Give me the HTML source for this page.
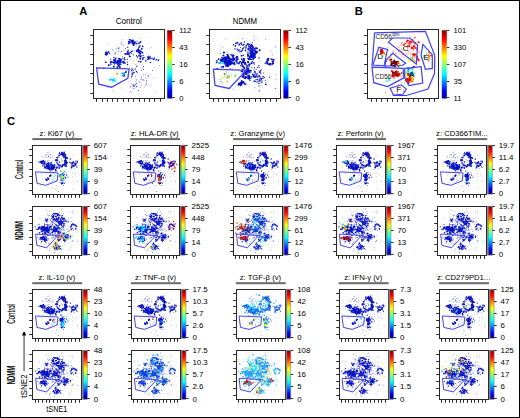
<!DOCTYPE html><html><head><meta charset="utf-8"><style>html,body{margin:0;padding:0;background:#fff}svg{display:block}.t{}</style></head><body>
<svg width="520" height="418" viewBox="0 0 520 418" font-family='"Liberation Sans", sans-serif' fill="#000">
<defs><linearGradient id="jet" x1="0" y1="1" x2="0" y2="0"><stop offset="0" stop-color="#00008f"/><stop offset="0.11" stop-color="#0000ff"/><stop offset="0.36" stop-color="#00ffff"/><stop offset="0.62" stop-color="#ffff00"/><stop offset="0.87" stop-color="#ff0000"/><stop offset="1" stop-color="#800000"/></linearGradient><g id="Lc"><circle cx="65.7" cy="41.7" r="1.12"/><circle cx="51.0" cy="31.3" r="1.25"/><circle cx="52.9" cy="20.7" r="0.96"/><circle cx="63.1" cy="21.0" r="1.24"/><circle cx="59.4" cy="16.5" r="1.43"/><circle cx="59.8" cy="43.4" r="1.58"/><circle cx="66.5" cy="23.5" r="1.31"/><circle cx="67.4" cy="26.3" r="1.20"/><circle cx="60.4" cy="42.8" r="1.09"/><circle cx="49.6" cy="35.8" r="1.28"/><circle cx="59.5" cy="43.6" r="1.26"/><circle cx="55.9" cy="44.4" r="0.96"/><circle cx="62.5" cy="22.5" r="1.07"/><circle cx="67.3" cy="30.5" r="1.53"/><circle cx="64.6" cy="38.6" r="1.43"/><circle cx="69.1" cy="25.1" r="1.23"/><circle cx="62.8" cy="20.7" r="1.34"/><circle cx="64.7" cy="23.5" r="1.52"/><circle cx="49.3" cy="30.6" r="1.11"/><circle cx="61.2" cy="19.3" r="1.22"/><circle cx="61.9" cy="39.6" r="1.40"/><circle cx="52.3" cy="39.2" r="1.24"/><circle cx="48.7" cy="30.3" r="1.21"/><circle cx="50.7" cy="31.7" r="0.96"/><circle cx="66.5" cy="34.0" r="1.35"/><circle cx="54.1" cy="35.6" r="1.06"/><circle cx="46.6" cy="30.8" r="1.31"/><circle cx="64.4" cy="21.7" r="1.10"/><circle cx="47.3" cy="29.7" r="1.25"/><circle cx="57.4" cy="42.7" r="1.31"/><circle cx="70.1" cy="26.8" r="1.50"/><circle cx="65.7" cy="22.7" r="1.44"/><circle cx="61.3" cy="21.6" r="1.23"/><circle cx="67.2" cy="35.2" r="1.53"/><circle cx="49.4" cy="25.4" r="1.27"/><circle cx="51.6" cy="42.4" r="1.18"/><circle cx="50.6" cy="28.4" r="1.25"/><circle cx="66.5" cy="32.9" r="1.10"/><circle cx="61.6" cy="39.3" r="1.48"/><circle cx="60.9" cy="20.8" r="1.50"/><circle cx="58.1" cy="45.0" r="1.00"/><circle cx="66.2" cy="32.1" r="0.95"/><circle cx="58.8" cy="18.5" r="1.37"/><circle cx="52.8" cy="42.1" r="0.99"/><circle cx="63.2" cy="40.6" r="1.13"/><circle cx="56.3" cy="19.1" r="1.25"/><circle cx="54.5" cy="41.9" r="1.21"/><circle cx="50.1" cy="37.0" r="1.07"/><circle cx="66.9" cy="40.0" r="1.09"/><circle cx="51.8" cy="24.1" r="1.50"/><circle cx="68.7" cy="32.8" r="1.43"/><circle cx="63.6" cy="41.7" r="1.42"/><circle cx="54.8" cy="20.9" r="1.60"/><circle cx="61.2" cy="19.4" r="1.29"/><circle cx="59.9" cy="42.2" r="1.33"/><circle cx="54.9" cy="40.9" r="1.37"/><circle cx="66.3" cy="35.0" r="1.54"/><circle cx="54.0" cy="47.1" r="1.52"/><circle cx="54.2" cy="45.3" r="1.23"/><circle cx="58.4" cy="42.3" r="0.95"/><circle cx="67.2" cy="20.0" r="1.59"/><circle cx="49.3" cy="25.3" r="1.06"/><circle cx="66.4" cy="19.6" r="1.29"/><circle cx="51.9" cy="39.3" r="1.18"/><circle cx="60.9" cy="42.1" r="1.08"/><circle cx="65.0" cy="37.5" r="1.39"/><circle cx="56.1" cy="41.4" r="1.53"/><circle cx="66.2" cy="23.6" r="0.96"/><circle cx="60.8" cy="40.4" r="1.47"/><circle cx="51.5" cy="45.7" r="1.09"/><circle cx="53.4" cy="17.9" r="1.18"/><circle cx="63.4" cy="25.1" r="1.41"/><circle cx="48.0" cy="32.3" r="1.43"/><circle cx="66.6" cy="37.3" r="1.06"/><circle cx="67.0" cy="24.0" r="1.35"/><circle cx="64.9" cy="17.9" r="1.19"/><circle cx="53.8" cy="40.7" r="1.35"/><circle cx="70.3" cy="26.4" r="1.54"/><circle cx="64.3" cy="39.8" r="0.97"/><circle cx="66.8" cy="36.4" r="1.53"/><circle cx="60.9" cy="18.1" r="1.36"/><circle cx="60.2" cy="20.2" r="1.20"/><circle cx="49.8" cy="25.6" r="1.13"/><circle cx="66.3" cy="22.6" r="1.33"/><circle cx="66.0" cy="26.0" r="1.48"/><circle cx="60.6" cy="17.1" r="1.54"/><circle cx="59.6" cy="17.7" r="1.70"/><circle cx="60.8" cy="18.3" r="1.77"/><circle cx="60.6" cy="16.2" r="1.16"/><circle cx="60.7" cy="17.2" r="1.12"/><circle cx="64.9" cy="18.5" r="1.76"/><circle cx="58.4" cy="18.3" r="1.23"/><circle cx="58.6" cy="16.2" r="1.52"/><circle cx="60.2" cy="17.3" r="1.77"/><circle cx="60.1" cy="16.3" r="1.37"/><circle cx="63.9" cy="16.7" r="1.72"/><circle cx="61.0" cy="21.7" r="1.12"/><circle cx="58.5" cy="17.5" r="1.77"/><circle cx="64.1" cy="14.4" r="1.53"/><circle cx="58.8" cy="16.9" r="1.27"/><circle cx="63.7" cy="17.0" r="1.25"/><circle cx="61.2" cy="19.0" r="1.52"/><circle cx="59.7" cy="14.3" r="1.33"/><circle cx="54.4" cy="16.4" r="1.27"/><circle cx="62.5" cy="19.2" r="1.26"/><circle cx="54.8" cy="15.9" r="1.47"/><circle cx="63.2" cy="15.9" r="1.05"/><circle cx="58.7" cy="17.0" r="1.45"/><circle cx="61.2" cy="17.6" r="1.51"/><circle cx="60.5" cy="16.2" r="1.41"/><circle cx="70.1" cy="35.9" r="1.41"/><circle cx="66.8" cy="34.6" r="1.74"/><circle cx="66.9" cy="38.0" r="1.77"/><circle cx="69.8" cy="35.9" r="1.12"/><circle cx="66.3" cy="22.8" r="1.26"/><circle cx="67.2" cy="36.2" r="1.72"/><circle cx="67.0" cy="38.3" r="1.71"/><circle cx="67.8" cy="37.6" r="1.66"/><circle cx="64.4" cy="33.8" r="1.17"/><circle cx="65.2" cy="31.3" r="1.57"/><circle cx="67.9" cy="32.1" r="1.09"/><circle cx="66.5" cy="42.8" r="1.45"/><circle cx="66.9" cy="24.6" r="1.38"/><circle cx="66.7" cy="30.4" r="1.23"/><circle cx="68.3" cy="41.1" r="1.35"/><circle cx="67.8" cy="32.4" r="1.30"/><circle cx="67.3" cy="35.7" r="1.23"/><circle cx="68.1" cy="36.4" r="1.34"/><circle cx="66.2" cy="31.2" r="1.05"/><circle cx="66.8" cy="28.2" r="1.52"/><circle cx="67.2" cy="26.9" r="1.58"/><circle cx="68.4" cy="34.4" r="1.40"/><circle cx="69.2" cy="34.8" r="1.46"/><circle cx="69.0" cy="43.3" r="1.24"/><circle cx="65.6" cy="33.0" r="1.09"/><circle cx="55.0" cy="21.8" r="0.74" fill-opacity="0.8"/><circle cx="55.4" cy="33.0" r="0.81" fill-opacity="0.8"/><circle cx="47.8" cy="28.6" r="0.84" fill-opacity="0.8"/><circle cx="48.7" cy="29.5" r="0.94" fill-opacity="0.8"/><circle cx="49.8" cy="38.6" r="1.12" fill-opacity="0.8"/><circle cx="49.3" cy="29.2" r="0.78" fill-opacity="0.8"/><circle cx="54.9" cy="33.3" r="1.02" fill-opacity="0.8"/><circle cx="61.1" cy="39.2" r="1.00" fill-opacity="0.8"/><circle cx="57.9" cy="28.5" r="0.74" fill-opacity="0.8"/><circle cx="59.9" cy="31.8" r="1.13" fill-opacity="0.8"/><circle cx="54.9" cy="34.5" r="0.79" fill-opacity="0.8"/><circle cx="50.7" cy="42.8" r="0.73" fill-opacity="0.8"/><circle cx="21.5" cy="32.6" r="1.51"/><circle cx="19.0" cy="32.6" r="1.57"/><circle cx="24.3" cy="34.5" r="1.20"/><circle cx="22.2" cy="32.4" r="1.16"/><circle cx="23.9" cy="37.2" r="1.56"/><circle cx="25.4" cy="34.1" r="1.22"/><circle cx="24.4" cy="37.3" r="1.14"/><circle cx="21.0" cy="38.0" r="1.07"/><circle cx="17.3" cy="36.1" r="0.96"/><circle cx="18.8" cy="33.3" r="1.08"/><circle cx="20.3" cy="37.4" r="1.31"/><circle cx="20.5" cy="37.7" r="1.41"/><circle cx="22.0" cy="32.3" r="1.49"/><circle cx="24.3" cy="34.6" r="1.52"/><circle cx="21.5" cy="32.2" r="1.33"/><circle cx="18.1" cy="37.0" r="1.49"/><circle cx="24.2" cy="37.2" r="1.45"/><circle cx="16.2" cy="33.9" r="1.60"/><circle cx="23.5" cy="37.1" r="1.28"/><circle cx="17.6" cy="33.8" r="1.19"/><circle cx="16.4" cy="34.4" r="0.95"/><circle cx="17.7" cy="35.9" r="1.21"/><circle cx="21.9" cy="31.9" r="1.41"/><circle cx="17.4" cy="35.1" r="1.08"/><circle cx="24.5" cy="35.1" r="1.13"/><circle cx="15.6" cy="33.6" r="1.50"/><circle cx="13.1" cy="34.8" r="1.26"/><circle cx="20.0" cy="33.9" r="1.45"/><circle cx="20.7" cy="34.9" r="1.06"/><circle cx="17.2" cy="34.0" r="1.19"/><circle cx="21.0" cy="35.0" r="1.23"/><circle cx="24.8" cy="46.6" r="1.47"/><circle cx="31.9" cy="36.2" r="1.60"/><circle cx="24.7" cy="43.2" r="1.51"/><circle cx="28.8" cy="39.4" r="1.34"/><circle cx="28.1" cy="39.7" r="1.74"/><circle cx="35.0" cy="36.9" r="1.61"/><circle cx="35.7" cy="39.0" r="1.30"/><circle cx="32.3" cy="48.0" r="1.69"/><circle cx="30.2" cy="42.5" r="1.66"/><circle cx="27.4" cy="43.3" r="1.07"/><circle cx="24.8" cy="42.7" r="1.35"/><circle cx="28.5" cy="46.7" r="1.05"/><circle cx="20.9" cy="42.7" r="1.55"/><circle cx="26.8" cy="45.8" r="1.49"/><circle cx="33.9" cy="45.1" r="1.70"/><circle cx="32.8" cy="44.3" r="1.66"/><circle cx="28.3" cy="42.6" r="1.42"/><circle cx="32.7" cy="41.1" r="1.52"/><circle cx="30.9" cy="37.3" r="1.24"/><circle cx="30.2" cy="41.5" r="1.46"/><circle cx="37.1" cy="48.0" r="1.68"/><circle cx="31.3" cy="45.0" r="1.76"/><circle cx="30.4" cy="37.1" r="1.06"/><circle cx="38.6" cy="40.4" r="1.27"/><circle cx="25.3" cy="45.3" r="1.62"/><circle cx="35.6" cy="47.2" r="1.16"/><circle cx="38.3" cy="42.4" r="1.72"/><circle cx="32.1" cy="38.7" r="1.23"/><circle cx="30.3" cy="42.7" r="1.14"/><circle cx="32.0" cy="40.0" r="1.60"/><circle cx="33.5" cy="48.1" r="1.57"/><circle cx="32.2" cy="44.4" r="1.33"/><circle cx="30.7" cy="43.1" r="1.18"/><circle cx="39.3" cy="44.5" r="1.70"/><circle cx="33.3" cy="43.8" r="1.56"/><circle cx="38.1" cy="35.4" r="1.49"/><circle cx="27.8" cy="48.1" r="1.13"/><circle cx="32.2" cy="41.7" r="1.34"/><circle cx="28.1" cy="43.1" r="1.16"/><circle cx="34.1" cy="48.9" r="1.38"/><circle cx="30.0" cy="41.9" r="1.57"/><circle cx="29.8" cy="46.8" r="1.71"/><circle cx="34.5" cy="43.0" r="1.63"/><circle cx="35.7" cy="40.8" r="1.32"/><circle cx="23.2" cy="39.5" r="1.34"/><circle cx="39.1" cy="39.3" r="1.15"/><circle cx="33.7" cy="42.7" r="1.15"/><circle cx="32.1" cy="42.1" r="1.32"/><circle cx="36.8" cy="45.6" r="1.66"/><circle cx="34.1" cy="42.5" r="1.08"/><circle cx="33.8" cy="42.2" r="1.24"/><circle cx="34.6" cy="43.9" r="1.06"/><circle cx="27.6" cy="39.0" r="1.55"/><circle cx="37.2" cy="39.1" r="1.33"/><circle cx="24.0" cy="36.8" r="1.52"/><circle cx="42.1" cy="48.0" r="1.73"/><circle cx="38.9" cy="45.6" r="1.49"/><circle cx="37.5" cy="45.7" r="1.08"/><circle cx="39.5" cy="49.3" r="1.19"/><circle cx="45.1" cy="45.0" r="1.53"/><circle cx="40.5" cy="42.5" r="1.57"/><circle cx="42.0" cy="44.9" r="1.76"/><circle cx="47.2" cy="52.1" r="1.67"/><circle cx="42.8" cy="46.3" r="1.11"/><circle cx="43.7" cy="44.1" r="1.31"/><circle cx="43.1" cy="46.9" r="1.43"/><circle cx="40.0" cy="47.5" r="1.33"/><circle cx="39.8" cy="41.4" r="1.06"/><circle cx="40.3" cy="46.8" r="1.63"/><circle cx="42.9" cy="47.4" r="1.32"/><circle cx="41.6" cy="44.6" r="1.14"/><circle cx="44.0" cy="42.1" r="1.67"/><circle cx="40.6" cy="49.8" r="1.22"/><circle cx="38.6" cy="46.1" r="1.29"/><circle cx="44.1" cy="40.1" r="1.47"/><circle cx="46.6" cy="49.5" r="1.37"/><circle cx="48.4" cy="46.7" r="1.66"/><circle cx="40.5" cy="43.7" r="1.71"/><circle cx="43.6" cy="45.0" r="1.16"/><circle cx="38.7" cy="49.5" r="1.11"/><circle cx="39.0" cy="50.0" r="1.07"/><circle cx="44.3" cy="43.3" r="1.27"/><circle cx="40.9" cy="49.5" r="1.28"/><circle cx="42.0" cy="43.7" r="1.43"/><circle cx="47.3" cy="52.0" r="1.28"/><circle cx="41.3" cy="47.9" r="1.77"/><circle cx="33.2" cy="47.8" r="1.73"/><circle cx="49.2" cy="46.0" r="1.73"/><circle cx="48.4" cy="44.6" r="1.14"/><circle cx="36.8" cy="46.5" r="1.78"/><circle cx="43.3" cy="42.7" r="1.59"/><circle cx="35.8" cy="52.1" r="1.52"/><circle cx="38.3" cy="48.8" r="1.77"/><circle cx="39.6" cy="46.7" r="1.15"/><circle cx="40.0" cy="43.7" r="1.71"/><circle cx="38.2" cy="47.6" r="0.78"/><circle cx="42.4" cy="47.3" r="1.05"/><circle cx="35.2" cy="49.4" r="1.10"/><circle cx="28.6" cy="43.1" r="0.80"/><circle cx="43.1" cy="46.5" r="0.85"/><circle cx="39.7" cy="40.8" r="0.77"/><circle cx="30.6" cy="48.2" r="0.91"/><circle cx="40.4" cy="41.5" r="1.08"/><circle cx="41.2" cy="39.8" r="1.12"/><circle cx="29.9" cy="42.8" r="1.27"/><circle cx="38.0" cy="39.4" r="1.30"/><circle cx="35.8" cy="47.6" r="0.86"/><circle cx="35.9" cy="38.9" r="1.02"/><circle cx="31.3" cy="46.3" r="1.23"/><circle cx="37.9" cy="39.4" r="1.22"/><circle cx="29.4" cy="45.3" r="0.86"/><circle cx="33.9" cy="48.7" r="0.82"/><circle cx="33.8" cy="48.7" r="1.24"/><circle cx="35.8" cy="38.1" r="1.06"/><circle cx="29.6" cy="42.5" r="1.04"/><circle cx="77.8" cy="36.1" r="1.59"/><circle cx="79.9" cy="41.1" r="1.15"/><circle cx="82.7" cy="42.5" r="1.34"/><circle cx="74.9" cy="34.6" r="1.06"/><circle cx="76.6" cy="28.2" r="1.44"/><circle cx="80.9" cy="36.5" r="1.22"/><circle cx="90.9" cy="34.7" r="1.40"/><circle cx="90.4" cy="32.6" r="1.52"/><circle cx="81.1" cy="41.0" r="1.48"/><circle cx="79.9" cy="42.8" r="1.27"/><circle cx="82.0" cy="41.8" r="1.02"/><circle cx="81.8" cy="41.3" r="0.96"/><circle cx="85.3" cy="40.7" r="1.52"/><circle cx="81.6" cy="36.2" r="1.62"/><circle cx="83.8" cy="42.8" r="1.44"/><circle cx="82.7" cy="34.0" r="1.47"/><circle cx="78.5" cy="38.6" r="1.28"/><circle cx="89.5" cy="36.9" r="1.01"/><circle cx="90.3" cy="45.6" r="1.10"/><circle cx="86.6" cy="38.5" r="1.27"/><circle cx="87.4" cy="36.8" r="1.43"/><circle cx="84.8" cy="36.5" r="1.36"/><circle cx="88.4" cy="37.9" r="1.31"/><circle cx="79.2" cy="45.9" r="1.60"/><circle cx="87.5" cy="41.1" r="1.23"/><circle cx="83.2" cy="36.2" r="1.12"/><circle cx="83.3" cy="42.5" r="1.48"/><circle cx="87.9" cy="32.5" r="1.40"/><circle cx="87.0" cy="40.1" r="1.40"/><circle cx="82.9" cy="42.6" r="1.56"/><circle cx="89.1" cy="43.2" r="1.02"/><circle cx="78.3" cy="43.7" r="1.08"/><circle cx="80.4" cy="37.5" r="1.54"/><circle cx="86.9" cy="37.8" r="1.28"/><circle cx="62.2" cy="62.2" r="1.25"/><circle cx="60.1" cy="61.5" r="1.46"/><circle cx="66.6" cy="66.8" r="1.60"/><circle cx="65.2" cy="60.1" r="1.29"/><circle cx="57.7" cy="64.6" r="1.68"/><circle cx="60.9" cy="63.0" r="1.30"/><circle cx="59.4" cy="61.0" r="1.19"/><circle cx="61.0" cy="72.0" r="1.55"/><circle cx="62.6" cy="64.5" r="1.56"/><circle cx="61.3" cy="70.2" r="1.30"/><circle cx="59.4" cy="62.3" r="1.25"/><circle cx="58.3" cy="70.2" r="1.35"/><circle cx="58.9" cy="64.1" r="1.77"/><circle cx="59.1" cy="60.2" r="1.13"/><circle cx="58.5" cy="72.8" r="1.59"/><circle cx="61.8" cy="56.3" r="1.33"/><circle cx="58.0" cy="66.2" r="1.19"/><circle cx="61.1" cy="69.0" r="1.16"/><circle cx="56.7" cy="64.1" r="1.52"/><circle cx="59.4" cy="62.7" r="1.24"/><circle cx="55.8" cy="61.7" r="1.41"/><circle cx="60.4" cy="66.0" r="1.32"/><circle cx="59.3" cy="64.6" r="1.26"/><circle cx="57.3" cy="52.9" r="1.35"/><circle cx="57.9" cy="62.4" r="1.10"/><circle cx="59.4" cy="68.4" r="1.28"/><circle cx="60.4" cy="58.5" r="1.12"/><circle cx="63.1" cy="69.8" r="1.17"/><circle cx="59.3" cy="69.6" r="1.13"/><circle cx="61.2" cy="66.5" r="1.40"/><circle cx="62.9" cy="63.1" r="1.27"/><circle cx="59.2" cy="62.4" r="1.49"/><circle cx="57.7" cy="77.0" r="1.36"/><circle cx="61.0" cy="59.2" r="1.74"/><circle cx="56.5" cy="59.7" r="1.40"/><circle cx="58.7" cy="59.7" r="1.50"/><circle cx="57.5" cy="63.6" r="1.39"/><circle cx="62.5" cy="61.8" r="1.51"/><circle cx="62.5" cy="68.0" r="1.22"/><circle cx="60.5" cy="71.2" r="1.51"/><circle cx="60.0" cy="70.0" r="1.50"/><circle cx="57.8" cy="66.9" r="1.17"/><circle cx="57.8" cy="71.2" r="1.51"/><circle cx="55.9" cy="63.3" r="1.65"/><circle cx="59.8" cy="64.9" r="1.33"/><circle cx="59.5" cy="77.9" r="1.41"/><circle cx="62.6" cy="82.2" r="0.98"/><circle cx="62.1" cy="75.7" r="1.05"/><circle cx="60.9" cy="78.2" r="1.37"/><circle cx="58.4" cy="80.5" r="0.92"/><circle cx="58.7" cy="78.1" r="1.26"/><circle cx="60.8" cy="76.4" r="0.86"/><circle cx="64.3" cy="77.7" r="1.24"/><circle cx="28.4" cy="70.1" r="1.13"/><circle cx="30.5" cy="67.1" r="1.21"/><circle cx="27.0" cy="70.2" r="1.22"/><circle cx="32.7" cy="69.7" r="1.14"/><circle cx="32.9" cy="69.5" r="0.88"/><circle cx="32.3" cy="70.4" r="0.94"/><circle cx="27.2" cy="68.9" r="1.45"/><circle cx="32.8" cy="67.7" r="1.25"/><circle cx="31.0" cy="66.8" r="1.34"/><circle cx="30.2" cy="71.0" r="1.19"/><circle cx="27.9" cy="71.0" r="1.41"/><circle cx="28.6" cy="71.5" r="1.38"/><circle cx="28.8" cy="70.3" r="1.32"/><circle cx="31.6" cy="69.4" r="1.11"/><circle cx="35.8" cy="63.2" r="1.35"/><circle cx="34.8" cy="63.1" r="1.24"/><circle cx="36.1" cy="61.9" r="1.26"/><circle cx="37.1" cy="61.2" r="1.24"/><circle cx="35.4" cy="62.1" r="1.28"/><circle cx="36.7" cy="61.9" r="1.40"/><circle cx="34.8" cy="64.5" r="0.96"/><circle cx="36.4" cy="61.1" r="1.05"/><circle cx="52.2" cy="64.7" r="0.88" fill-opacity="0.8"/><circle cx="39.5" cy="71.3" r="0.77" fill-opacity="0.8"/><circle cx="46.2" cy="49.0" r="0.65" fill-opacity="0.8"/><circle cx="39.2" cy="73.5" r="0.80" fill-opacity="0.8"/><circle cx="53.6" cy="57.8" r="0.63" fill-opacity="0.8"/><circle cx="43.3" cy="72.0" r="0.58" fill-opacity="0.8"/><circle cx="47.8" cy="71.4" r="0.88" fill-opacity="0.8"/><circle cx="40.6" cy="49.4" r="0.68" fill-opacity="0.8"/><circle cx="52.5" cy="94.6" r="0.90" fill-opacity="0.8"/><circle cx="45.9" cy="67.2" r="0.73" fill-opacity="0.8"/><circle cx="39.6" cy="53.4" r="0.94" fill-opacity="0.8"/><circle cx="40.2" cy="65.2" r="0.57" fill-opacity="0.8"/><circle cx="49.7" cy="35.9" r="0.93" fill-opacity="0.8"/><circle cx="42.6" cy="58.6" r="0.66" fill-opacity="0.8"/><circle cx="46.8" cy="40.3" r="0.96" fill-opacity="0.8"/><circle cx="48.0" cy="82.2" r="0.77" fill-opacity="0.8"/><circle cx="37.0" cy="77.4" r="0.95" fill-opacity="0.8"/><circle cx="43.8" cy="49.6" r="0.85" fill-opacity="0.8"/><circle cx="41.5" cy="55.8" r="0.67" fill-opacity="0.8"/><circle cx="45.5" cy="62.1" r="0.83" fill-opacity="0.8"/><circle cx="66.2" cy="64.7" r="0.83" fill-opacity="0.8"/><circle cx="55.6" cy="60.9" r="0.66" fill-opacity="0.8"/><circle cx="86.9" cy="59.5" r="0.69" fill-opacity="0.8"/><circle cx="70.9" cy="66.2" r="0.81" fill-opacity="0.8"/><circle cx="81.4" cy="56.9" r="0.70" fill-opacity="0.8"/><circle cx="65.6" cy="56.1" r="0.77" fill-opacity="0.8"/><circle cx="68.8" cy="60.4" r="0.73" fill-opacity="0.8"/><circle cx="68.9" cy="61.4" r="0.90" fill-opacity="0.8"/><circle cx="69.8" cy="61.5" r="0.80" fill-opacity="0.8"/><circle cx="77.9" cy="46.5" r="0.82" fill-opacity="0.8"/><circle cx="71.4" cy="50.8" r="0.62" fill-opacity="0.8"/><circle cx="71.8" cy="65.4" r="0.68" fill-opacity="0.8"/><circle cx="68.7" cy="58.9" r="0.62" fill-opacity="0.8"/><circle cx="71.9" cy="63.3" r="0.89" fill-opacity="0.8"/><circle cx="68.1" cy="56.8" r="0.74" fill-opacity="0.8"/><circle cx="77.5" cy="50.4" r="0.79" fill-opacity="0.8"/><circle cx="68.9" cy="61.3" r="0.82" fill-opacity="0.8"/><circle cx="81.3" cy="64.5" r="0.59" fill-opacity="0.8"/><circle cx="35.8" cy="19.1" r="0.84" fill-opacity="0.8"/><circle cx="32.5" cy="22.6" r="0.79" fill-opacity="0.8"/><circle cx="41.3" cy="25.7" r="0.72" fill-opacity="0.8"/><circle cx="33.4" cy="31.2" r="0.97" fill-opacity="0.8"/><circle cx="26.5" cy="31.5" r="0.66" fill-opacity="0.8"/><circle cx="34.1" cy="19.5" r="0.78" fill-opacity="0.8"/><circle cx="48.7" cy="29.0" r="0.65" fill-opacity="0.8"/><circle cx="29.5" cy="24.9" r="0.90" fill-opacity="0.8"/><circle cx="26.8" cy="20.2" r="0.87" fill-opacity="0.8"/><circle cx="35.9" cy="25.7" r="0.90" fill-opacity="0.8"/><circle cx="30.1" cy="32.4" r="0.95" fill-opacity="0.8"/><circle cx="33.4" cy="22.3" r="0.91" fill-opacity="0.8"/><circle cx="32.0" cy="21.2" r="0.65" fill-opacity="0.8"/><circle cx="31.9" cy="23.9" r="0.93" fill-opacity="0.8"/><circle cx="32.1" cy="15.1" r="0.72" fill-opacity="0.8"/><circle cx="39.8" cy="22.8" r="0.86" fill-opacity="0.8"/><circle cx="36.0" cy="24.4" r="0.62" fill-opacity="0.8"/><circle cx="40.1" cy="32.1" r="0.72" fill-opacity="0.8"/><circle cx="25.0" cy="24.8" r="0.68" fill-opacity="0.8"/><circle cx="28.3" cy="18.3" r="0.94" fill-opacity="0.8"/><circle cx="20.3" cy="23.8" r="0.96" fill-opacity="0.8"/><circle cx="37.0" cy="18.8" r="0.68" fill-opacity="0.8"/><circle cx="22.5" cy="76.5" r="0.52" fill-opacity="0.6"/><circle cx="58.1" cy="46.3" r="0.49" fill-opacity="0.6"/><circle cx="31.5" cy="75.8" r="0.65" fill-opacity="0.6"/><circle cx="86.2" cy="82.6" r="0.50" fill-opacity="0.6"/><circle cx="67.2" cy="13.4" r="0.62" fill-opacity="0.6"/><circle cx="49.0" cy="86.5" r="0.67" fill-opacity="0.6"/><circle cx="29.6" cy="50.8" r="0.65" fill-opacity="0.6"/><circle cx="30.2" cy="38.8" r="0.77" fill-opacity="0.6"/><circle cx="90.6" cy="72.1" r="0.49" fill-opacity="0.6"/><circle cx="84.8" cy="46.7" r="0.75" fill-opacity="0.6"/><circle cx="28.6" cy="21.8" r="0.78" fill-opacity="0.6"/><circle cx="37.0" cy="13.4" r="0.64" fill-opacity="0.6"/><circle cx="91.3" cy="76.8" r="0.61" fill-opacity="0.6"/><circle cx="91.5" cy="73.7" r="0.76" fill-opacity="0.6"/><circle cx="64.8" cy="41.6" r="0.78" fill-opacity="0.6"/><circle cx="51.2" cy="84.8" r="0.66" fill-opacity="0.6"/><circle cx="85.1" cy="48.2" r="0.62" fill-opacity="0.6"/><circle cx="60.3" cy="35.4" r="0.52" fill-opacity="0.6"/><circle cx="60.4" cy="78.1" r="0.57" fill-opacity="0.6"/><circle cx="81.6" cy="73.0" r="0.73" fill-opacity="0.6"/><circle cx="47.0" cy="89.9" r="0.74" fill-opacity="0.6"/><circle cx="59.3" cy="19.1" r="0.67" fill-opacity="0.6"/><circle cx="16.1" cy="82.2" r="0.59" fill-opacity="0.6"/><circle cx="43.4" cy="54.1" r="0.69" fill-opacity="0.6"/><circle cx="59.9" cy="48.8" r="0.69" fill-opacity="0.6"/><circle cx="80.2" cy="45.7" r="0.64" fill-opacity="0.6"/><circle cx="77.4" cy="10.3" r="0.53" fill-opacity="0.6"/><circle cx="40.0" cy="27.1" r="0.77" fill-opacity="0.6"/><circle cx="26.4" cy="18.6" r="0.58" fill-opacity="0.6"/><circle cx="54.2" cy="75.7" r="0.81" fill-opacity="0.6"/><circle cx="80.6" cy="58.7" r="0.49" fill-opacity="0.6"/><circle cx="19.9" cy="60.5" r="0.75" fill-opacity="0.6"/><circle cx="35.4" cy="87.5" r="0.66" fill-opacity="0.6"/><circle cx="59.2" cy="59.5" r="0.50" fill-opacity="0.6"/><circle cx="28.1" cy="84.9" r="0.56" fill-opacity="0.6"/><circle cx="21.4" cy="32.6" r="0.72" fill-opacity="0.6"/><circle cx="35.2" cy="26.8" r="0.57" fill-opacity="0.6"/><circle cx="52.0" cy="69.0" r="0.57" fill-opacity="0.6"/><circle cx="82.3" cy="88.1" r="0.75" fill-opacity="0.6"/><circle cx="20.8" cy="35.2" r="0.78" fill-opacity="0.6"/><circle cx="81.2" cy="20.7" r="0.62" fill-opacity="0.6"/><circle cx="43.0" cy="69.8" r="0.48" fill-opacity="0.6"/><circle cx="39.3" cy="70.0" r="0.77" fill-opacity="0.6"/><circle cx="18.1" cy="57.1" r="0.70" fill-opacity="0.6"/><circle cx="82.2" cy="44.0" r="0.80" fill-opacity="0.6"/><circle cx="30.2" cy="19.2" r="0.52" fill-opacity="0.6"/><circle cx="60.2" cy="19.8" r="0.56" fill-opacity="0.6"/><circle cx="30.1" cy="14.4" r="0.80" fill-opacity="0.6"/><circle cx="40.8" cy="87.1" r="0.72" fill-opacity="0.6"/><circle cx="31.9" cy="84.6" r="0.48" fill-opacity="0.6"/></g><g id="Ln"><circle cx="53.6" cy="19.1" r="1.00"/><circle cx="50.3" cy="15.5" r="1.44"/><circle cx="44.1" cy="15.7" r="1.35"/><circle cx="40.2" cy="17.2" r="1.05"/><circle cx="42.2" cy="23.2" r="1.62"/><circle cx="54.1" cy="18.7" r="1.31"/><circle cx="40.9" cy="23.2" r="0.96"/><circle cx="40.4" cy="22.5" r="1.16"/><circle cx="41.6" cy="26.1" r="1.32"/><circle cx="47.5" cy="26.7" r="0.96"/><circle cx="43.7" cy="27.5" r="1.62"/><circle cx="43.6" cy="14.4" r="1.07"/><circle cx="52.5" cy="16.7" r="1.56"/><circle cx="47.4" cy="16.0" r="1.48"/><circle cx="41.6" cy="28.1" r="1.05"/><circle cx="47.2" cy="14.8" r="1.43"/><circle cx="41.8" cy="22.3" r="1.57"/><circle cx="40.7" cy="21.0" r="1.51"/><circle cx="42.1" cy="27.4" r="1.26"/><circle cx="42.4" cy="18.9" r="1.57"/><circle cx="46.0" cy="15.3" r="1.16"/><circle cx="45.0" cy="14.8" r="1.06"/><circle cx="52.2" cy="17.6" r="1.15"/><circle cx="55.3" cy="18.7" r="1.42"/><circle cx="41.9" cy="20.9" r="1.34"/><circle cx="44.6" cy="26.9" r="1.09"/><circle cx="39.3" cy="20.4" r="1.00"/><circle cx="49.5" cy="15.6" r="1.44"/><circle cx="52.9" cy="17.1" r="0.98"/><circle cx="42.4" cy="14.4" r="1.13"/><circle cx="48.0" cy="27.8" r="1.30"/><circle cx="50.8" cy="16.1" r="1.11"/><circle cx="48.8" cy="28.0" r="1.43"/><circle cx="52.7" cy="22.2" r="1.19"/><circle cx="50.0" cy="26.6" r="1.59"/><circle cx="45.5" cy="27.4" r="0.86"/><circle cx="48.0" cy="20.7" r="0.95"/><circle cx="54.3" cy="23.5" r="1.08"/><circle cx="52.6" cy="32.7" r="0.94"/><circle cx="50.3" cy="24.6" r="1.22"/><circle cx="47.8" cy="20.9" r="1.06"/><circle cx="45.0" cy="25.3" r="1.32"/><circle cx="47.8" cy="20.5" r="1.31"/><circle cx="38.4" cy="25.1" r="1.14"/><circle cx="42.2" cy="21.9" r="1.04"/><circle cx="52.8" cy="24.5" r="1.38"/><circle cx="49.6" cy="24.7" r="1.09"/><circle cx="50.8" cy="18.8" r="1.43"/><circle cx="46.8" cy="20.7" r="1.11"/><circle cx="52.5" cy="26.1" r="0.94"/><circle cx="47.6" cy="22.0" r="0.95"/><circle cx="47.4" cy="25.7" r="1.16"/><circle cx="50.2" cy="30.3" r="1.45"/><circle cx="56.9" cy="32.7" r="1.17"/><circle cx="62.9" cy="25.5" r="1.56"/><circle cx="54.6" cy="30.9" r="1.29"/><circle cx="54.6" cy="31.5" r="1.02"/><circle cx="57.9" cy="29.8" r="1.51"/><circle cx="59.2" cy="32.1" r="1.12"/><circle cx="60.1" cy="32.4" r="1.36"/><circle cx="61.1" cy="27.4" r="1.45"/><circle cx="58.9" cy="34.8" r="1.67"/><circle cx="67.5" cy="31.2" r="1.35"/><circle cx="53.2" cy="30.4" r="1.29"/><circle cx="57.3" cy="28.6" r="1.06"/><circle cx="57.6" cy="33.7" r="1.36"/><circle cx="53.9" cy="38.7" r="1.20"/><circle cx="55.1" cy="37.3" r="1.01"/><circle cx="57.6" cy="31.0" r="1.21"/><circle cx="56.1" cy="36.4" r="1.00"/><circle cx="52.3" cy="26.6" r="1.34"/><circle cx="59.4" cy="33.9" r="1.04"/><circle cx="63.8" cy="30.9" r="1.66"/><circle cx="62.2" cy="40.2" r="1.13"/><circle cx="61.5" cy="27.1" r="1.32"/><circle cx="56.0" cy="32.1" r="1.08"/><circle cx="53.5" cy="33.6" r="1.59"/><circle cx="59.3" cy="23.2" r="1.48"/><circle cx="49.2" cy="40.0" r="1.54"/><circle cx="59.0" cy="30.9" r="1.25"/><circle cx="52.8" cy="22.5" r="1.18"/><circle cx="60.1" cy="25.8" r="1.67"/><circle cx="57.2" cy="36.3" r="1.58"/><circle cx="48.2" cy="30.8" r="1.34"/><circle cx="61.1" cy="31.7" r="1.47"/><circle cx="62.7" cy="38.4" r="1.57"/><circle cx="55.1" cy="36.3" r="1.70"/><circle cx="60.4" cy="35.5" r="1.04"/><circle cx="61.7" cy="42.0" r="1.69"/><circle cx="62.9" cy="30.3" r="1.20"/><circle cx="56.1" cy="32.9" r="1.47"/><circle cx="64.7" cy="25.8" r="1.07"/><circle cx="60.1" cy="19.0" r="1.53"/><circle cx="55.2" cy="37.5" r="1.50"/><circle cx="61.1" cy="31.5" r="1.32"/><circle cx="67.5" cy="30.4" r="1.70"/><circle cx="53.6" cy="33.5" r="1.09"/><circle cx="52.3" cy="30.7" r="1.41"/><circle cx="58.4" cy="34.6" r="1.35"/><circle cx="56.1" cy="26.4" r="1.50"/><circle cx="58.5" cy="39.9" r="1.33"/><circle cx="55.3" cy="36.8" r="1.52"/><circle cx="57.0" cy="26.9" r="1.60"/><circle cx="51.6" cy="33.2" r="1.28"/><circle cx="64.2" cy="24.5" r="1.44"/><circle cx="47.3" cy="38.1" r="1.50"/><circle cx="58.4" cy="37.9" r="1.57"/><circle cx="53.6" cy="45.1" r="1.51"/><circle cx="59.2" cy="22.6" r="1.62"/><circle cx="51.9" cy="40.2" r="1.54"/><circle cx="62.9" cy="34.8" r="1.41"/><circle cx="65.1" cy="35.6" r="1.09"/><circle cx="65.6" cy="27.5" r="1.17"/><circle cx="20.2" cy="42.4" r="1.19"/><circle cx="21.8" cy="48.7" r="1.04"/><circle cx="24.4" cy="38.5" r="1.53"/><circle cx="26.2" cy="47.2" r="1.54"/><circle cx="16.9" cy="45.2" r="1.41"/><circle cx="29.8" cy="48.8" r="1.60"/><circle cx="25.5" cy="50.5" r="1.62"/><circle cx="35.3" cy="41.4" r="1.62"/><circle cx="30.9" cy="48.6" r="1.16"/><circle cx="22.2" cy="43.3" r="1.26"/><circle cx="30.3" cy="52.7" r="1.76"/><circle cx="25.6" cy="43.3" r="1.32"/><circle cx="31.5" cy="38.5" r="1.27"/><circle cx="30.0" cy="43.9" r="1.44"/><circle cx="18.5" cy="48.5" r="1.65"/><circle cx="23.6" cy="44.8" r="1.63"/><circle cx="34.5" cy="44.4" r="1.66"/><circle cx="19.3" cy="52.3" r="1.33"/><circle cx="30.5" cy="38.4" r="1.63"/><circle cx="22.4" cy="44.3" r="1.21"/><circle cx="20.7" cy="43.8" r="1.25"/><circle cx="26.3" cy="49.1" r="1.65"/><circle cx="24.1" cy="43.9" r="1.28"/><circle cx="29.6" cy="51.4" r="1.16"/><circle cx="28.6" cy="43.5" r="1.70"/><circle cx="27.1" cy="51.3" r="1.51"/><circle cx="21.4" cy="50.6" r="1.11"/><circle cx="22.3" cy="47.2" r="1.54"/><circle cx="29.5" cy="44.0" r="1.63"/><circle cx="29.7" cy="47.9" r="1.51"/><circle cx="37.7" cy="40.2" r="1.29"/><circle cx="32.6" cy="54.4" r="1.41"/><circle cx="14.0" cy="43.0" r="1.59"/><circle cx="9.1" cy="47.1" r="1.73"/><circle cx="10.9" cy="47.3" r="1.26"/><circle cx="5.5" cy="42.2" r="1.31"/><circle cx="17.7" cy="44.8" r="1.75"/><circle cx="27.7" cy="43.9" r="1.70"/><circle cx="31.3" cy="51.5" r="1.13"/><circle cx="41.4" cy="51.1" r="1.31"/><circle cx="26.1" cy="55.1" r="1.60"/><circle cx="17.8" cy="41.8" r="1.22"/><circle cx="28.4" cy="49.2" r="1.25"/><circle cx="19.0" cy="45.3" r="1.27"/><circle cx="22.0" cy="48.8" r="1.15"/><circle cx="23.6" cy="48.0" r="1.35"/><circle cx="30.1" cy="47.0" r="1.22"/><circle cx="31.4" cy="47.4" r="1.29"/><circle cx="34.6" cy="41.6" r="1.09"/><circle cx="33.6" cy="52.4" r="1.36"/><circle cx="35.7" cy="47.4" r="1.43"/><circle cx="21.3" cy="49.3" r="1.61"/><circle cx="19.7" cy="43.5" r="1.78"/><circle cx="20.5" cy="43.0" r="1.50"/><circle cx="30.0" cy="43.5" r="1.48"/><circle cx="37.2" cy="42.2" r="1.77"/><circle cx="20.4" cy="55.6" r="1.38"/><circle cx="24.1" cy="42.3" r="1.07"/><circle cx="29.5" cy="58.4" r="1.13"/><circle cx="39.4" cy="53.3" r="1.72"/><circle cx="21.0" cy="50.4" r="1.63"/><circle cx="27.8" cy="49.1" r="1.30"/><circle cx="25.2" cy="48.2" r="1.54"/><circle cx="28.5" cy="57.1" r="1.52"/><circle cx="35.2" cy="56.2" r="1.22"/><circle cx="29.6" cy="41.3" r="1.14"/><circle cx="26.0" cy="45.4" r="1.19"/><circle cx="25.0" cy="54.3" r="1.43"/><circle cx="18.6" cy="43.2" r="1.14"/><circle cx="12.0" cy="44.6" r="1.13"/><circle cx="25.2" cy="49.4" r="1.08"/><circle cx="28.0" cy="48.0" r="1.50"/><circle cx="31.7" cy="53.1" r="1.57"/><circle cx="13.2" cy="37.0" r="1.16"/><circle cx="24.3" cy="53.5" r="1.51"/><circle cx="32.9" cy="48.1" r="1.26"/><circle cx="31.6" cy="42.7" r="1.34"/><circle cx="28.1" cy="49.4" r="1.46"/><circle cx="12.8" cy="43.4" r="1.61"/><circle cx="26.0" cy="50.2" r="1.56"/><circle cx="24.6" cy="44.9" r="1.06"/><circle cx="15.3" cy="44.1" r="1.18"/><circle cx="23.5" cy="41.3" r="1.50"/><circle cx="20.2" cy="46.7" r="1.39"/><circle cx="14.1" cy="54.4" r="1.65"/><circle cx="28.6" cy="50.1" r="1.07"/><circle cx="16.9" cy="47.7" r="1.51"/><circle cx="28.2" cy="44.2" r="1.75"/><circle cx="23.8" cy="56.5" r="1.38"/><circle cx="22.9" cy="46.2" r="1.65"/><circle cx="29.6" cy="45.9" r="1.71"/><circle cx="19.6" cy="42.8" r="1.35"/><circle cx="22.0" cy="46.1" r="1.53"/><circle cx="17.4" cy="52.0" r="1.24"/><circle cx="32.6" cy="49.6" r="1.29"/><circle cx="22.4" cy="42.6" r="1.43"/><circle cx="23.3" cy="49.7" r="1.61"/><circle cx="22.8" cy="44.2" r="1.37"/><circle cx="13.5" cy="43.0" r="1.39"/><circle cx="26.8" cy="46.9" r="1.39"/><circle cx="29.6" cy="48.8" r="1.47"/><circle cx="32.4" cy="46.0" r="1.49"/><circle cx="29.0" cy="49.0" r="1.50"/><circle cx="21.2" cy="41.9" r="1.55"/><circle cx="12.8" cy="45.9" r="1.66"/><circle cx="29.5" cy="46.8" r="1.69"/><circle cx="26.1" cy="48.3" r="1.28"/><circle cx="30.7" cy="46.7" r="1.29"/><circle cx="36.2" cy="42.6" r="1.66"/><circle cx="27.7" cy="52.9" r="1.14"/><circle cx="47.6" cy="51.4" r="1.20"/><circle cx="51.4" cy="52.7" r="1.56"/><circle cx="49.1" cy="46.9" r="1.49"/><circle cx="43.3" cy="50.5" r="1.15"/><circle cx="45.8" cy="55.7" r="1.08"/><circle cx="45.0" cy="47.2" r="1.34"/><circle cx="39.2" cy="47.9" r="1.10"/><circle cx="42.3" cy="49.2" r="1.39"/><circle cx="48.4" cy="51.7" r="1.21"/><circle cx="51.3" cy="41.7" r="1.21"/><circle cx="51.1" cy="46.1" r="1.09"/><circle cx="47.6" cy="49.6" r="1.50"/><circle cx="51.9" cy="55.1" r="1.40"/><circle cx="52.2" cy="53.4" r="1.22"/><circle cx="49.1" cy="47.6" r="1.29"/><circle cx="46.8" cy="43.8" r="1.34"/><circle cx="46.1" cy="47.6" r="1.09"/><circle cx="40.7" cy="52.4" r="1.03"/><circle cx="47.7" cy="50.7" r="1.31"/><circle cx="49.7" cy="45.8" r="1.58"/><circle cx="43.2" cy="52.1" r="1.00"/><circle cx="50.1" cy="47.5" r="1.04"/><circle cx="43.2" cy="47.4" r="1.26"/><circle cx="52.5" cy="51.6" r="1.17"/><circle cx="45.7" cy="52.6" r="1.02"/><circle cx="44.4" cy="49.6" r="1.58"/><circle cx="43.3" cy="45.4" r="1.55"/><circle cx="41.5" cy="41.2" r="0.96"/><circle cx="46.4" cy="45.9" r="0.95"/><circle cx="53.4" cy="43.7" r="1.43"/><circle cx="33.7" cy="49.8" r="1.31"/><circle cx="45.8" cy="46.5" r="1.23"/><circle cx="44.3" cy="49.5" r="0.98"/><circle cx="44.7" cy="42.5" r="1.50"/><circle cx="41.2" cy="47.8" r="1.56"/><circle cx="44.0" cy="51.2" r="1.48"/><circle cx="47.8" cy="51.4" r="1.56"/><circle cx="44.5" cy="52.1" r="0.99"/><circle cx="50.5" cy="49.2" r="0.95"/><circle cx="49.6" cy="46.1" r="1.13"/><circle cx="49.6" cy="48.4" r="1.29"/><circle cx="45.9" cy="46.0" r="1.56"/><circle cx="46.3" cy="51.2" r="1.26"/><circle cx="50.0" cy="43.4" r="1.33"/><circle cx="54.7" cy="45.8" r="1.24"/><circle cx="88.6" cy="41.2" r="1.26"/><circle cx="79.0" cy="37.7" r="0.88"/><circle cx="78.8" cy="48.7" r="0.82"/><circle cx="81.0" cy="36.0" r="1.13"/><circle cx="83.0" cy="48.8" r="1.06"/><circle cx="77.8" cy="44.2" r="0.93"/><circle cx="83.0" cy="36.7" r="1.35"/><circle cx="85.5" cy="37.7" r="0.98"/><circle cx="86.1" cy="38.1" r="1.36"/><circle cx="78.5" cy="41.6" r="0.95"/><circle cx="81.7" cy="37.7" r="1.01"/><circle cx="85.7" cy="39.1" r="1.12"/><circle cx="76.8" cy="41.6" r="1.07"/><circle cx="88.8" cy="41.2" r="1.09"/><circle cx="87.1" cy="40.0" r="1.23"/><circle cx="79.3" cy="37.7" r="1.15"/><circle cx="78.8" cy="38.9" r="1.06"/><circle cx="89.7" cy="41.4" r="1.16"/><circle cx="83.6" cy="37.2" r="1.20"/><circle cx="78.9" cy="47.7" r="0.89"/><circle cx="80.3" cy="38.5" r="1.18"/><circle cx="80.2" cy="44.8" r="1.27"/><circle cx="78.0" cy="46.3" r="1.33"/><circle cx="78.5" cy="40.9" r="1.25"/><circle cx="88.4" cy="38.9" r="1.19"/><circle cx="80.1" cy="38.0" r="1.06"/><circle cx="87.6" cy="47.0" r="1.34"/><circle cx="79.9" cy="46.7" r="0.91"/><circle cx="85.6" cy="38.6" r="0.99"/><circle cx="87.6" cy="45.5" r="1.33"/><circle cx="20.8" cy="64.8" r="1.01"/><circle cx="24.2" cy="69.2" r="1.50"/><circle cx="24.5" cy="68.4" r="1.33"/><circle cx="24.8" cy="71.9" r="1.61"/><circle cx="16.3" cy="63.6" r="1.15"/><circle cx="19.0" cy="64.7" r="1.21"/><circle cx="21.7" cy="67.8" r="1.51"/><circle cx="18.4" cy="63.8" r="1.35"/><circle cx="24.3" cy="64.1" r="1.59"/><circle cx="22.0" cy="67.8" r="1.16"/><circle cx="23.2" cy="67.7" r="1.15"/><circle cx="16.8" cy="64.2" r="1.60"/><circle cx="21.8" cy="63.1" r="1.11"/><circle cx="20.7" cy="63.4" r="1.25"/><circle cx="26.3" cy="66.8" r="1.49"/><circle cx="26.2" cy="70.8" r="1.43"/><circle cx="19.6" cy="66.4" r="1.14"/><circle cx="21.2" cy="66.0" r="1.05"/><circle cx="23.3" cy="66.3" r="1.12"/><circle cx="20.6" cy="61.8" r="1.00"/><circle cx="28.7" cy="67.7" r="1.40"/><circle cx="20.8" cy="64.6" r="1.67"/><circle cx="23.9" cy="68.3" r="1.62"/><circle cx="30.8" cy="59.2" r="1.04"/><circle cx="26.8" cy="67.9" r="1.05"/><circle cx="27.6" cy="67.2" r="1.56"/><circle cx="18.4" cy="65.9" r="1.62"/><circle cx="24.5" cy="66.8" r="1.08"/><circle cx="28.0" cy="63.3" r="1.13"/><circle cx="20.9" cy="68.5" r="1.55"/><circle cx="24.5" cy="67.1" r="1.43"/><circle cx="26.2" cy="62.7" r="1.45"/><circle cx="17.4" cy="67.0" r="1.65"/><circle cx="21.4" cy="67.4" r="1.07"/><circle cx="23.9" cy="66.5" r="1.65"/><circle cx="18.2" cy="72.8" r="1.43"/><circle cx="21.8" cy="61.8" r="1.51"/><circle cx="32.6" cy="67.2" r="1.01"/><circle cx="28.9" cy="70.0" r="1.50"/><circle cx="24.2" cy="69.0" r="1.09"/><circle cx="17.7" cy="65.4" r="1.47"/><circle cx="10.8" cy="63.7" r="1.04"/><circle cx="24.0" cy="61.0" r="1.07"/><circle cx="15.4" cy="68.6" r="1.24"/><circle cx="14.8" cy="66.9" r="1.21"/><circle cx="64.6" cy="56.4" r="1.31"/><circle cx="62.8" cy="69.8" r="1.33"/><circle cx="73.1" cy="63.5" r="1.17"/><circle cx="63.4" cy="64.9" r="1.24"/><circle cx="68.7" cy="58.7" r="1.51"/><circle cx="70.9" cy="59.0" r="1.39"/><circle cx="76.8" cy="61.7" r="1.59"/><circle cx="69.6" cy="62.4" r="1.41"/><circle cx="65.8" cy="60.4" r="1.46"/><circle cx="70.6" cy="63.5" r="1.31"/><circle cx="70.9" cy="64.2" r="1.51"/><circle cx="65.8" cy="62.6" r="1.39"/><circle cx="63.9" cy="59.0" r="1.31"/><circle cx="61.6" cy="61.4" r="1.11"/><circle cx="72.4" cy="59.6" r="1.02"/><circle cx="68.4" cy="63.4" r="1.21"/><circle cx="71.6" cy="57.7" r="1.12"/><circle cx="63.8" cy="60.0" r="1.10"/><circle cx="65.5" cy="68.7" r="1.57"/><circle cx="76.8" cy="64.0" r="1.05"/><circle cx="64.3" cy="65.3" r="1.23"/><circle cx="69.6" cy="66.7" r="1.41"/><circle cx="67.2" cy="64.1" r="0.95"/><circle cx="64.2" cy="64.0" r="1.16"/><circle cx="62.3" cy="64.6" r="1.12"/><circle cx="70.3" cy="62.9" r="1.29"/><circle cx="70.6" cy="64.2" r="1.23"/><circle cx="63.0" cy="56.3" r="1.46"/><circle cx="68.0" cy="65.1" r="1.49"/><circle cx="66.7" cy="61.7" r="1.30"/><circle cx="73.3" cy="60.2" r="0.99"/><circle cx="65.0" cy="71.0" r="1.54"/><circle cx="67.6" cy="61.5" r="1.51"/><circle cx="67.5" cy="59.1" r="1.38"/><circle cx="66.9" cy="64.3" r="1.49"/><circle cx="69.9" cy="62.0" r="1.24"/><circle cx="52.7" cy="70.2" r="1.29"/><circle cx="65.1" cy="64.6" r="0.99"/><circle cx="65.1" cy="63.8" r="1.29"/><circle cx="64.5" cy="62.6" r="1.09"/><circle cx="59.5" cy="63.2" r="1.32"/><circle cx="65.6" cy="66.5" r="1.15"/><circle cx="63.2" cy="68.6" r="1.48"/><circle cx="66.9" cy="69.5" r="1.33"/><circle cx="59.9" cy="64.9" r="1.12"/><circle cx="43.3" cy="82.6" r="0.96"/><circle cx="51.5" cy="80.8" r="1.56"/><circle cx="44.9" cy="88.0" r="1.08"/><circle cx="50.5" cy="81.9" r="1.59"/><circle cx="51.3" cy="81.0" r="1.07"/><circle cx="44.0" cy="85.7" r="1.60"/><circle cx="49.3" cy="78.8" r="1.54"/><circle cx="50.3" cy="85.5" r="1.23"/><circle cx="49.2" cy="83.4" r="1.41"/><circle cx="52.4" cy="86.1" r="1.15"/><circle cx="53.2" cy="82.0" r="1.48"/><circle cx="45.7" cy="78.0" r="1.60"/><circle cx="52.1" cy="82.5" r="1.19"/><circle cx="47.5" cy="87.3" r="1.46"/><circle cx="47.0" cy="76.0" r="1.56"/><circle cx="49.6" cy="80.0" r="1.01"/><circle cx="44.1" cy="85.0" r="1.43"/><circle cx="48.1" cy="86.0" r="1.54"/><circle cx="41.7" cy="83.7" r="1.12"/><circle cx="48.2" cy="87.0" r="1.57"/><circle cx="48.7" cy="84.1" r="1.39"/><circle cx="46.7" cy="80.9" r="1.22"/><circle cx="42.2" cy="83.5" r="1.55"/><circle cx="57.3" cy="82.2" r="0.97"/><circle cx="42.5" cy="82.6" r="1.11"/><circle cx="51.3" cy="83.9" r="1.40"/><circle cx="54.5" cy="85.9" r="0.95"/><circle cx="56.7" cy="86.8" r="1.38"/><circle cx="46.4" cy="82.1" r="1.54"/><circle cx="54.8" cy="83.4" r="1.48"/><circle cx="50.3" cy="83.0" r="1.28"/><circle cx="50.1" cy="83.8" r="1.14"/><circle cx="50.9" cy="87.8" r="1.33"/><circle cx="52.2" cy="81.6" r="1.47"/><circle cx="44.9" cy="94.5" r="0.97"/><circle cx="27.6" cy="28.3" r="1.14"/><circle cx="30.3" cy="27.4" r="1.07"/><circle cx="27.2" cy="30.5" r="1.46"/><circle cx="28.9" cy="26.6" r="0.91"/><circle cx="30.8" cy="26.4" r="0.99"/><circle cx="28.9" cy="27.9" r="1.13"/><circle cx="28.8" cy="27.2" r="0.94"/><circle cx="28.1" cy="29.0" r="1.25"/><circle cx="55.7" cy="58.3" r="1.00"/><circle cx="53.8" cy="60.8" r="1.14"/><circle cx="54.5" cy="56.8" r="0.80"/><circle cx="53.5" cy="63.6" r="0.87"/><circle cx="52.5" cy="59.1" r="1.34"/><circle cx="58.1" cy="62.2" r="1.28"/><circle cx="51.0" cy="64.9" r="0.87"/><circle cx="53.3" cy="54.6" r="1.16"/><circle cx="51.4" cy="71.5" r="1.23"/><circle cx="51.4" cy="68.1" r="1.33"/><circle cx="58.8" cy="63.2" r="1.21"/><circle cx="51.9" cy="54.6" r="0.96"/><circle cx="52.5" cy="63.6" r="1.24"/><circle cx="47.6" cy="58.9" r="0.85"/><circle cx="57.6" cy="61.4" r="0.81"/><circle cx="52.3" cy="68.9" r="1.37"/><circle cx="55.7" cy="53.6" r="1.14"/><circle cx="53.9" cy="70.6" r="1.27"/><circle cx="46.3" cy="60.9" r="1.32"/><circle cx="54.0" cy="60.2" r="1.30"/><circle cx="58.0" cy="63.9" r="1.05"/><circle cx="54.7" cy="68.5" r="1.37"/><circle cx="48.1" cy="60.8" r="1.30"/><circle cx="57.1" cy="56.3" r="0.93"/><circle cx="55.8" cy="66.0" r="1.08"/><circle cx="64.5" cy="36.2" r="0.82" fill-opacity="0.8"/><circle cx="48.7" cy="45.2" r="0.79" fill-opacity="0.8"/><circle cx="65.3" cy="68.2" r="0.84" fill-opacity="0.8"/><circle cx="76.7" cy="43.4" r="0.76" fill-opacity="0.8"/><circle cx="81.1" cy="14.6" r="0.76" fill-opacity="0.8"/><circle cx="54.2" cy="43.1" r="0.56" fill-opacity="0.8"/><circle cx="35.1" cy="71.5" r="0.85" fill-opacity="0.8"/><circle cx="90.9" cy="71.9" r="0.85" fill-opacity="0.8"/><circle cx="78.1" cy="23.5" r="0.78" fill-opacity="0.8"/><circle cx="81.5" cy="71.7" r="0.62" fill-opacity="0.8"/><circle cx="68.0" cy="42.0" r="0.68" fill-opacity="0.8"/><circle cx="70.5" cy="65.4" r="0.57" fill-opacity="0.8"/><circle cx="63.3" cy="14.9" r="0.60" fill-opacity="0.8"/><circle cx="78.0" cy="84.9" r="0.61" fill-opacity="0.8"/><circle cx="73.2" cy="25.0" r="0.70" fill-opacity="0.8"/><circle cx="39.9" cy="16.9" r="0.68" fill-opacity="0.8"/><circle cx="56.2" cy="79.8" r="0.56" fill-opacity="0.8"/><circle cx="35.0" cy="10.3" r="0.60" fill-opacity="0.8"/><circle cx="33.3" cy="77.2" r="0.87" fill-opacity="0.8"/><circle cx="29.2" cy="49.6" r="0.71" fill-opacity="0.8"/><circle cx="51.3" cy="88.7" r="0.87" fill-opacity="0.8"/><circle cx="15.1" cy="43.5" r="0.72" fill-opacity="0.8"/><circle cx="64.0" cy="53.5" r="0.82" fill-opacity="0.8"/><circle cx="19.9" cy="47.8" r="0.83" fill-opacity="0.8"/><circle cx="25.7" cy="24.2" r="0.75" fill-opacity="0.8"/><circle cx="23.6" cy="54.7" r="0.57" fill-opacity="0.8"/><circle cx="26.9" cy="37.4" r="0.81" fill-opacity="0.8"/><circle cx="60.9" cy="59.9" r="0.75" fill-opacity="0.8"/><circle cx="43.7" cy="90.0" r="0.74" fill-opacity="0.8"/><circle cx="62.3" cy="15.5" r="0.61" fill-opacity="0.8"/><circle cx="58.9" cy="88.4" r="0.78" fill-opacity="0.8"/><circle cx="16.3" cy="76.2" r="0.60" fill-opacity="0.8"/><circle cx="59.6" cy="25.7" r="0.54" fill-opacity="0.8"/><circle cx="73.8" cy="49.8" r="0.74" fill-opacity="0.8"/><circle cx="68.4" cy="58.7" r="0.67" fill-opacity="0.8"/><circle cx="37.7" cy="53.5" r="0.61" fill-opacity="0.8"/><circle cx="33.0" cy="76.5" r="0.65" fill-opacity="0.8"/><circle cx="69.7" cy="65.7" r="0.69" fill-opacity="0.8"/><circle cx="74.8" cy="37.1" r="0.52" fill-opacity="0.8"/><circle cx="79.9" cy="71.5" r="0.79" fill-opacity="0.8"/><circle cx="85.6" cy="43.5" r="0.68" fill-opacity="0.8"/><circle cx="61.0" cy="81.5" r="0.62" fill-opacity="0.8"/><circle cx="72.7" cy="88.5" r="0.61" fill-opacity="0.8"/><circle cx="13.4" cy="23.3" r="0.76" fill-opacity="0.8"/><circle cx="29.3" cy="87.8" r="0.55" fill-opacity="0.8"/><circle cx="83.6" cy="39.0" r="0.86" fill-opacity="0.8"/><circle cx="39.1" cy="19.1" r="0.77" fill-opacity="0.8"/><circle cx="35.9" cy="87.1" r="0.83" fill-opacity="0.8"/><circle cx="32.5" cy="50.2" r="0.72" fill-opacity="0.8"/><circle cx="73.8" cy="31.6" r="0.73" fill-opacity="0.8"/><circle cx="53.5" cy="58.2" r="0.73" fill-opacity="0.8"/><circle cx="46.6" cy="41.7" r="0.67" fill-opacity="0.8"/><circle cx="91.6" cy="52.8" r="0.56" fill-opacity="0.8"/><circle cx="43.5" cy="72.8" r="0.77" fill-opacity="0.8"/><circle cx="18.5" cy="43.9" r="0.69" fill-opacity="0.8"/><circle cx="79.6" cy="31.9" r="0.86" fill-opacity="0.8"/><circle cx="77.1" cy="11.6" r="0.70" fill-opacity="0.8"/><circle cx="54.6" cy="61.7" r="0.85" fill-opacity="0.8"/><circle cx="28.1" cy="77.9" r="0.52" fill-opacity="0.8"/><circle cx="78.7" cy="31.5" r="0.53" fill-opacity="0.8"/><circle cx="77.0" cy="89.6" r="0.76" fill-opacity="0.8"/><circle cx="74.3" cy="42.6" r="0.61" fill-opacity="0.8"/><circle cx="65.2" cy="76.3" r="0.62" fill-opacity="0.8"/><circle cx="42.0" cy="32.2" r="0.62" fill-opacity="0.8"/><circle cx="81.3" cy="10.6" r="0.53" fill-opacity="0.8"/><circle cx="26.7" cy="74.3" r="0.73" fill-opacity="0.8"/><circle cx="72.6" cy="67.1" r="0.85" fill-opacity="0.8"/><circle cx="58.9" cy="11.8" r="0.56" fill-opacity="0.8"/><circle cx="44.9" cy="19.7" r="0.63" fill-opacity="0.8"/><circle cx="34.0" cy="90.6" r="0.88" fill-opacity="0.8"/><circle cx="35.2" cy="32.1" r="0.86"/><circle cx="34.6" cy="43.9" r="0.73"/><circle cx="45.8" cy="21.6" r="0.85"/><circle cx="39.0" cy="32.0" r="1.09"/><circle cx="27.9" cy="30.7" r="1.08"/><circle cx="44.6" cy="29.6" r="0.98"/><circle cx="42.0" cy="51.0" r="0.84"/><circle cx="24.7" cy="35.4" r="0.80"/><circle cx="48.0" cy="39.6" r="0.96"/><circle cx="59.6" cy="39.4" r="0.75"/><circle cx="43.1" cy="43.2" r="1.04"/><circle cx="40.6" cy="36.8" r="1.11"/><circle cx="47.2" cy="44.4" r="0.91"/><circle cx="46.3" cy="29.0" r="1.07"/><circle cx="53.5" cy="36.9" r="0.89"/><circle cx="48.7" cy="24.8" r="1.03"/><circle cx="43.4" cy="25.9" r="0.88"/><circle cx="58.1" cy="44.2" r="0.91"/><circle cx="43.5" cy="42.7" r="0.94"/><circle cx="57.0" cy="29.5" r="0.72"/><circle cx="41.2" cy="34.2" r="0.98"/><circle cx="53.3" cy="35.2" r="1.03"/><circle cx="40.1" cy="31.9" r="0.91"/><circle cx="30.6" cy="48.4" r="0.94"/><circle cx="25.7" cy="26.9" r="1.04"/><circle cx="46.1" cy="29.9" r="0.81"/><circle cx="29.6" cy="31.3" r="0.93"/><circle cx="38.5" cy="45.8" r="1.01"/><circle cx="42.9" cy="43.8" r="1.07"/><circle cx="37.1" cy="36.4" r="0.92"/><circle cx="43.2" cy="31.5" r="0.94"/><circle cx="48.7" cy="36.6" r="0.81"/><circle cx="26.1" cy="26.2" r="0.99"/><circle cx="36.4" cy="28.3" r="1.04"/><circle cx="37.5" cy="49.9" r="0.74"/><circle cx="43.8" cy="40.9" r="0.88"/><circle cx="52.9" cy="34.2" r="0.69"/><circle cx="44.7" cy="35.6" r="0.99"/><circle cx="45.6" cy="38.4" r="0.86"/><circle cx="49.5" cy="31.9" r="0.96"/><circle cx="27.9" cy="36.9" r="0.93"/><circle cx="46.3" cy="27.4" r="0.76"/><circle cx="51.6" cy="33.3" r="0.79"/><circle cx="35.0" cy="41.7" r="0.90"/><circle cx="54.2" cy="21.5" r="0.67"/><circle cx="38.3" cy="32.4" r="0.78" fill-opacity="0.9"/><circle cx="42.7" cy="53.0" r="0.85" fill-opacity="0.9"/><circle cx="35.8" cy="38.5" r="0.81" fill-opacity="0.9"/><circle cx="50.7" cy="67.0" r="0.96" fill-opacity="0.9"/><circle cx="47.5" cy="90.0" r="0.82" fill-opacity="0.9"/><circle cx="46.9" cy="54.8" r="0.73" fill-opacity="0.9"/><circle cx="45.2" cy="21.7" r="0.94" fill-opacity="0.9"/><circle cx="42.2" cy="64.0" r="0.89" fill-opacity="0.9"/><circle cx="50.9" cy="25.2" r="1.01" fill-opacity="0.9"/><circle cx="65.8" cy="63.3" r="0.99" fill-opacity="0.9"/><circle cx="56.8" cy="53.0" r="1.12" fill-opacity="0.9"/><circle cx="22.6" cy="45.9" r="1.06" fill-opacity="0.9"/><circle cx="30.0" cy="29.5" r="0.94" fill-opacity="0.9"/><circle cx="32.1" cy="47.4" r="0.88" fill-opacity="0.9"/><circle cx="20.3" cy="51.1" r="1.01" fill-opacity="0.9"/><circle cx="29.7" cy="64.9" r="0.73" fill-opacity="0.9"/><circle cx="36.3" cy="56.8" r="0.76" fill-opacity="0.9"/><circle cx="40.4" cy="64.0" r="0.85" fill-opacity="0.9"/><circle cx="52.0" cy="51.3" r="0.84" fill-opacity="0.9"/><circle cx="37.5" cy="47.5" r="0.86" fill-opacity="0.9"/><circle cx="43.3" cy="64.3" r="0.80" fill-opacity="0.9"/><circle cx="70.4" cy="52.2" r="0.76" fill-opacity="0.9"/><circle cx="53.4" cy="44.5" r="0.68" fill-opacity="0.9"/><circle cx="38.9" cy="47.3" r="1.01" fill-opacity="0.9"/><circle cx="52.0" cy="48.1" r="0.82" fill-opacity="0.9"/><circle cx="26.1" cy="73.1" r="0.78" fill-opacity="0.9"/><circle cx="31.6" cy="48.6" r="0.87" fill-opacity="0.9"/><circle cx="72.9" cy="30.1" r="0.99" fill-opacity="0.9"/><circle cx="43.4" cy="42.7" r="1.05" fill-opacity="0.9"/><circle cx="46.4" cy="48.1" r="0.89" fill-opacity="0.9"/><circle cx="62.8" cy="23.2" r="0.72" fill-opacity="0.9"/><circle cx="31.1" cy="29.4" r="0.88" fill-opacity="0.9"/><circle cx="62.9" cy="48.3" r="1.12" fill-opacity="0.9"/><circle cx="77.3" cy="34.1" r="0.73" fill-opacity="0.9"/><circle cx="30.4" cy="17.5" r="0.81" fill-opacity="0.9"/><circle cx="51.0" cy="29.9" r="0.81" fill-opacity="0.9"/><circle cx="54.1" cy="36.4" r="1.10" fill-opacity="0.9"/><circle cx="37.5" cy="54.7" r="0.69" fill-opacity="0.9"/><circle cx="34.6" cy="77.8" r="0.86" fill-opacity="0.9"/><circle cx="51.5" cy="50.9" r="1.03" fill-opacity="0.9"/><circle cx="50.6" cy="57.4" r="0.83" fill-opacity="0.9"/><circle cx="83.8" cy="36.1" r="0.97" fill-opacity="0.9"/><circle cx="35.7" cy="55.5" r="0.72" fill-opacity="0.9"/><circle cx="57.4" cy="67.2" r="1.13" fill-opacity="0.9"/><circle cx="55.5" cy="81.9" r="0.80" fill-opacity="0.9"/><circle cx="48.5" cy="49.3" r="0.83" fill-opacity="0.9"/><circle cx="50.6" cy="64.0" r="0.88" fill-opacity="0.9"/><circle cx="57.2" cy="64.5" r="0.94" fill-opacity="0.9"/><circle cx="77.6" cy="47.7" r="1.00" fill-opacity="0.9"/><circle cx="34.4" cy="37.1" r="0.75" fill-opacity="0.9"/><circle cx="19.4" cy="64.8" r="0.70" fill-opacity="0.9"/><circle cx="41.1" cy="59.8" r="1.08" fill-opacity="0.9"/><circle cx="40.2" cy="48.7" r="0.90" fill-opacity="0.9"/><circle cx="53.4" cy="22.7" r="0.96" fill-opacity="0.9"/><circle cx="39.3" cy="28.4" r="0.90" fill-opacity="0.9"/><circle cx="68.9" cy="60.8" r="0.83" fill-opacity="0.9"/><circle cx="64.8" cy="37.4" r="0.78" fill-opacity="0.9"/><circle cx="44.2" cy="44.7" r="0.67" fill-opacity="0.9"/><circle cx="72.0" cy="32.1" r="1.07" fill-opacity="0.9"/><circle cx="55.7" cy="61.7" r="1.04" fill-opacity="0.9"/><circle cx="61.3" cy="11.4" r="0.78" fill-opacity="0.9"/><circle cx="70.2" cy="32.5" r="0.79" fill-opacity="0.9"/><circle cx="47.5" cy="73.6" r="0.97" fill-opacity="0.9"/><circle cx="59.6" cy="57.0" r="0.75" fill-opacity="0.9"/><circle cx="30.4" cy="25.8" r="0.92" fill-opacity="0.9"/><circle cx="13.5" cy="45.3" r="1.06" fill-opacity="0.9"/><circle cx="67.6" cy="57.1" r="1.01" fill-opacity="0.9"/><circle cx="25.4" cy="56.1" r="0.67" fill-opacity="0.9"/><circle cx="48.8" cy="28.2" r="0.67" fill-opacity="0.9"/><circle cx="53.0" cy="56.1" r="1.01" fill-opacity="0.9"/><circle cx="27.6" cy="75.2" r="1.01" fill-opacity="0.9"/><circle cx="40.9" cy="33.6" r="1.02" fill-opacity="0.9"/><circle cx="31.2" cy="49.9" r="1.04" fill-opacity="0.9"/><circle cx="33.0" cy="59.4" r="1.10" fill-opacity="0.9"/><circle cx="63.9" cy="54.1" r="0.89" fill-opacity="0.9"/><circle cx="82.1" cy="45.8" r="0.69" fill-opacity="0.9"/><circle cx="37.3" cy="46.9" r="1.08" fill-opacity="0.9"/><circle cx="69.9" cy="28.0" r="0.84" fill-opacity="0.9"/><circle cx="38.8" cy="20.1" r="1.07" fill-opacity="0.9"/><circle cx="46.8" cy="32.5" r="0.83" fill-opacity="0.9"/><circle cx="67.9" cy="46.9" r="0.85" fill-opacity="0.9"/><circle cx="52.7" cy="31.3" r="0.87" fill-opacity="0.9"/><circle cx="34.2" cy="49.3" r="0.99" fill-opacity="0.9"/><circle cx="28.5" cy="8.0" r="0.82" fill-opacity="0.9"/><circle cx="32.7" cy="19.9" r="0.80" fill-opacity="0.9"/><circle cx="57.4" cy="51.2" r="0.73" fill-opacity="0.9"/><circle cx="32.5" cy="26.1" r="0.81" fill-opacity="0.9"/><circle cx="40.8" cy="38.5" r="0.90" fill-opacity="0.9"/><circle cx="29.8" cy="33.7" r="0.74" fill-opacity="0.9"/><circle cx="42.7" cy="59.8" r="0.81" fill-opacity="0.9"/><circle cx="24.7" cy="28.9" r="0.69" fill-opacity="0.9"/><circle cx="59.1" cy="5.5" r="0.99" fill-opacity="0.9"/><circle cx="10.4" cy="38.6" r="0.92" fill-opacity="0.9"/><circle cx="48.8" cy="24.1" r="1.08" fill-opacity="0.9"/><circle cx="34.1" cy="46.0" r="1.12" fill-opacity="0.9"/><circle cx="54.9" cy="12.3" r="0.95" fill-opacity="0.9"/><circle cx="39.4" cy="65.8" r="1.00" fill-opacity="0.9"/><circle cx="33.6" cy="19.1" r="1.02" fill-opacity="0.9"/><circle cx="15.6" cy="64.4" r="0.76" fill-opacity="0.9"/><circle cx="44.1" cy="52.7" r="0.92" fill-opacity="0.9"/><circle cx="64.9" cy="39.9" r="1.12" fill-opacity="0.9"/><circle cx="29.4" cy="45.2" r="0.91" fill-opacity="0.9"/><circle cx="48.2" cy="40.1" r="1.01" fill-opacity="0.9"/><circle cx="36.4" cy="59.1" r="0.87" fill-opacity="0.9"/><circle cx="81.7" cy="69.4" r="1.00" fill-opacity="0.9"/><circle cx="40.1" cy="56.7" r="1.13" fill-opacity="0.9"/><circle cx="80.7" cy="60.2" r="0.74" fill-opacity="0.9"/><circle cx="65.1" cy="71.9" r="1.09" fill-opacity="0.9"/><circle cx="51.8" cy="50.6" r="0.96"/><circle cx="54.1" cy="52.2" r="0.92"/><circle cx="61.0" cy="49.8" r="0.67"/><circle cx="55.0" cy="54.3" r="0.84"/><circle cx="61.5" cy="56.4" r="1.08"/><circle cx="54.9" cy="50.3" r="1.02"/><circle cx="50.7" cy="51.5" r="0.94"/><circle cx="70.0" cy="46.4" r="0.87"/><circle cx="54.5" cy="55.0" r="0.75"/><circle cx="51.1" cy="54.0" r="0.69"/><circle cx="54.2" cy="52.6" r="0.87"/><circle cx="48.0" cy="46.4" r="0.75"/><circle cx="62.0" cy="44.8" r="0.97"/><circle cx="58.6" cy="48.2" r="1.03"/><circle cx="56.7" cy="45.1" r="0.75"/><circle cx="61.9" cy="44.2" r="1.03"/><circle cx="54.2" cy="52.0" r="0.92"/><circle cx="55.0" cy="46.3" r="0.67"/><circle cx="56.1" cy="48.6" r="0.89"/><circle cx="47.3" cy="51.4" r="0.94"/><circle cx="59.1" cy="44.3" r="0.83"/><circle cx="65.2" cy="49.3" r="0.80"/><circle cx="56.0" cy="45.6" r="0.86"/><circle cx="63.3" cy="55.6" r="0.93"/><circle cx="57.5" cy="54.3" r="1.02"/></g><g id="Lac"><circle cx="50.9" cy="18.9" r="1.41"/><circle cx="51.1" cy="18.6" r="1.21"/><circle cx="56.9" cy="20.7" r="1.23"/><circle cx="55.6" cy="16.9" r="1.03"/><circle cx="60.6" cy="20.5" r="1.27"/><circle cx="64.8" cy="19.8" r="1.44"/><circle cx="52.5" cy="15.2" r="0.95"/><circle cx="59.5" cy="18.3" r="0.89"/><circle cx="56.2" cy="19.7" r="0.87"/><circle cx="51.5" cy="18.6" r="1.36"/><circle cx="50.2" cy="17.6" r="1.15"/><circle cx="53.2" cy="15.6" r="1.02"/><circle cx="66.8" cy="17.9" r="1.36"/><circle cx="54.4" cy="15.9" r="0.99"/><circle cx="54.9" cy="18.9" r="1.32"/><circle cx="49.7" cy="20.8" r="1.09"/><circle cx="61.8" cy="16.7" r="0.85"/><circle cx="57.1" cy="23.3" r="1.14"/><circle cx="58.7" cy="17.7" r="0.89"/><circle cx="51.0" cy="14.8" r="1.01"/><circle cx="57.9" cy="19.2" r="1.44"/><circle cx="55.3" cy="16.7" r="1.00"/><circle cx="56.2" cy="18.5" r="1.33"/><circle cx="57.2" cy="20.9" r="1.12"/><circle cx="57.3" cy="21.8" r="0.93"/><circle cx="54.1" cy="17.0" r="1.11"/><circle cx="55.8" cy="19.9" r="1.44"/><circle cx="56.2" cy="16.0" r="1.39"/><circle cx="56.1" cy="20.4" r="1.37"/><circle cx="54.2" cy="17.1" r="1.45"/><circle cx="65.4" cy="38.3" r="1.32"/><circle cx="64.1" cy="38.3" r="0.90"/><circle cx="67.5" cy="38.1" r="1.00"/><circle cx="63.3" cy="31.0" r="1.13"/><circle cx="67.4" cy="32.6" r="1.20"/><circle cx="65.9" cy="31.6" r="0.94"/><circle cx="68.4" cy="28.7" r="1.00"/><circle cx="66.3" cy="42.6" r="1.42"/><circle cx="66.8" cy="46.9" r="1.39"/><circle cx="63.2" cy="30.7" r="0.91"/><circle cx="70.5" cy="37.6" r="1.00"/><circle cx="64.5" cy="30.1" r="1.35"/><circle cx="63.5" cy="31.6" r="0.96"/><circle cx="64.8" cy="32.2" r="0.99"/><circle cx="61.0" cy="30.3" r="1.22"/><circle cx="64.1" cy="46.3" r="0.97"/><circle cx="66.7" cy="34.7" r="1.12"/><circle cx="66.3" cy="35.5" r="1.07"/><circle cx="63.9" cy="32.9" r="1.07"/><circle cx="69.8" cy="24.4" r="1.25"/><circle cx="63.9" cy="27.4" r="0.94"/><circle cx="65.4" cy="34.4" r="1.40"/><circle cx="63.3" cy="20.8" r="0.86"/><circle cx="63.3" cy="29.4" r="1.29"/><circle cx="61.5" cy="53.3" r="0.90"/><circle cx="61.6" cy="31.6" r="1.40"/><circle cx="64.7" cy="25.6" r="1.33"/><circle cx="66.8" cy="31.6" r="1.27"/><circle cx="68.6" cy="27.7" r="1.10"/><circle cx="66.1" cy="23.6" r="1.20"/><circle cx="63.5" cy="30.4" r="1.20"/><circle cx="64.3" cy="32.8" r="1.24"/><circle cx="69.5" cy="33.7" r="1.29"/><circle cx="62.3" cy="40.0" r="1.20"/><circle cx="61.1" cy="38.0" r="0.90"/><circle cx="50.5" cy="34.3" r="1.08"/><circle cx="48.3" cy="35.6" r="1.13"/><circle cx="46.4" cy="35.4" r="1.25"/><circle cx="50.5" cy="35.9" r="0.92"/><circle cx="49.6" cy="32.9" r="0.85"/><circle cx="54.2" cy="32.0" r="0.99"/><circle cx="52.6" cy="33.1" r="1.12"/><circle cx="51.5" cy="39.3" r="1.19"/><circle cx="55.8" cy="31.1" r="0.96"/><circle cx="48.2" cy="33.6" r="0.83"/><circle cx="44.8" cy="35.5" r="1.21"/><circle cx="48.7" cy="25.8" r="0.91"/><circle cx="52.1" cy="39.1" r="0.90"/><circle cx="51.2" cy="39.3" r="1.09"/><circle cx="47.9" cy="35.4" r="1.21"/><circle cx="53.8" cy="34.8" r="0.80"/><circle cx="56.5" cy="36.9" r="0.78"/><circle cx="49.5" cy="30.3" r="0.92"/><circle cx="50.7" cy="34.5" r="0.83"/><circle cx="49.9" cy="35.6" r="1.20"/><circle cx="50.6" cy="37.5" r="0.78"/><circle cx="48.3" cy="32.1" r="1.10"/><circle cx="18.0" cy="33.5" r="1.43"/><circle cx="19.5" cy="34.6" r="1.14"/><circle cx="20.1" cy="35.5" r="1.14"/><circle cx="19.7" cy="34.6" r="1.02"/><circle cx="18.3" cy="36.8" r="1.17"/><circle cx="17.5" cy="34.0" r="1.09"/><circle cx="21.1" cy="32.8" r="0.90"/><circle cx="22.9" cy="34.5" r="0.93"/><circle cx="17.3" cy="35.8" r="1.40"/><circle cx="18.1" cy="36.4" r="1.38"/><circle cx="21.4" cy="32.5" r="1.13"/><circle cx="19.2" cy="34.6" r="1.29"/><circle cx="38.2" cy="43.6" r="1.22"/><circle cx="37.5" cy="54.5" r="1.37"/><circle cx="42.0" cy="47.2" r="1.26"/><circle cx="29.0" cy="54.1" r="1.29"/><circle cx="33.2" cy="48.9" r="1.06"/><circle cx="24.8" cy="46.1" r="1.08"/><circle cx="45.3" cy="48.8" r="0.84"/><circle cx="35.7" cy="45.9" r="1.00"/><circle cx="35.4" cy="46.1" r="0.89"/><circle cx="25.0" cy="47.3" r="1.29"/><circle cx="29.2" cy="40.6" r="1.09"/><circle cx="37.0" cy="47.4" r="0.93"/><circle cx="29.7" cy="47.4" r="1.22"/><circle cx="29.9" cy="44.8" r="1.29"/><circle cx="29.8" cy="46.8" r="1.02"/><circle cx="41.9" cy="42.1" r="0.92"/><circle cx="43.9" cy="41.0" r="1.10"/><circle cx="31.0" cy="46.9" r="1.11"/><circle cx="26.4" cy="47.7" r="0.82"/><circle cx="41.7" cy="47.1" r="1.03"/><circle cx="37.0" cy="43.9" r="1.08"/><circle cx="33.8" cy="46.7" r="1.11"/><circle cx="21.7" cy="51.9" r="1.33"/><circle cx="33.8" cy="51.4" r="0.88"/><circle cx="24.5" cy="50.2" r="1.32"/><circle cx="29.4" cy="48.2" r="0.91"/><circle cx="24.5" cy="42.9" r="0.88"/><circle cx="34.8" cy="47.1" r="0.91"/><circle cx="35.9" cy="52.6" r="0.99"/><circle cx="29.5" cy="51.3" r="0.86"/><circle cx="34.2" cy="46.2" r="1.10"/><circle cx="34.6" cy="49.9" r="1.11"/><circle cx="29.2" cy="49.0" r="1.04"/><circle cx="31.1" cy="47.5" r="0.92"/><circle cx="28.8" cy="44.4" r="1.11"/><circle cx="39.5" cy="44.3" r="1.29"/><circle cx="35.7" cy="53.0" r="1.27"/><circle cx="38.9" cy="46.2" r="0.98"/><circle cx="38.3" cy="46.8" r="1.38"/><circle cx="37.0" cy="46.7" r="0.94"/><circle cx="33.9" cy="45.3" r="0.86"/><circle cx="37.7" cy="44.9" r="1.26"/><circle cx="38.9" cy="50.1" r="1.20"/><circle cx="38.6" cy="48.0" r="1.19"/><circle cx="48.0" cy="43.4" r="0.87"/><circle cx="24.5" cy="47.6" r="1.09"/><circle cx="33.1" cy="45.9" r="0.84"/><circle cx="35.9" cy="48.3" r="1.12"/><circle cx="26.9" cy="47.4" r="0.89"/><circle cx="36.2" cy="49.8" r="1.29"/><circle cx="48.3" cy="47.4" r="0.86"/><circle cx="48.3" cy="50.8" r="1.07"/><circle cx="35.1" cy="45.0" r="1.07"/><circle cx="28.3" cy="47.5" r="1.15"/><circle cx="43.9" cy="48.2" r="1.29"/><circle cx="37.4" cy="51.0" r="1.23"/><circle cx="31.3" cy="49.0" r="0.90"/><circle cx="33.5" cy="47.8" r="1.32"/><circle cx="37.6" cy="43.1" r="1.30"/><circle cx="30.4" cy="45.4" r="1.15"/><circle cx="17.5" cy="47.6" r="1.27"/><circle cx="33.9" cy="54.8" r="1.23"/><circle cx="36.5" cy="42.0" r="1.04"/><circle cx="44.4" cy="43.8" r="1.20"/><circle cx="35.7" cy="42.4" r="1.04"/><circle cx="34.2" cy="46.6" r="1.00"/><circle cx="33.7" cy="47.9" r="1.01"/><circle cx="29.2" cy="44.4" r="0.94"/><circle cx="43.0" cy="46.2" r="1.00"/><circle cx="30.4" cy="44.3" r="1.11"/><circle cx="14.9" cy="56.5" r="1.17"/><circle cx="31.5" cy="42.6" r="1.37"/><circle cx="42.8" cy="48.4" r="1.23"/><circle cx="34.3" cy="51.0" r="0.83"/><circle cx="36.6" cy="50.7" r="0.86"/><circle cx="80.7" cy="48.1" r="1.05"/><circle cx="70.3" cy="41.2" r="1.06"/><circle cx="86.4" cy="41.5" r="1.19"/><circle cx="85.5" cy="43.5" r="1.17"/><circle cx="89.6" cy="43.5" r="0.84"/><circle cx="78.3" cy="41.9" r="1.02"/><circle cx="79.6" cy="40.9" r="1.27"/><circle cx="76.4" cy="43.4" r="1.08"/><circle cx="78.5" cy="43.4" r="1.11"/><circle cx="77.7" cy="40.7" r="1.14"/><circle cx="80.5" cy="42.1" r="0.89"/><circle cx="83.0" cy="42.1" r="1.16"/><circle cx="74.1" cy="45.7" r="1.16"/><circle cx="92.1" cy="44.4" r="1.27"/><circle cx="88.5" cy="44.5" r="0.99"/><circle cx="70.0" cy="42.7" r="0.89"/><circle cx="71.4" cy="40.6" r="1.15"/><circle cx="69.8" cy="43.2" r="1.20"/><circle cx="79.1" cy="40.7" r="1.09"/><circle cx="78.1" cy="42.2" r="0.78"/><circle cx="78.7" cy="41.3" r="1.00"/><circle cx="78.5" cy="38.7" r="0.90"/><circle cx="77.1" cy="40.1" r="1.18"/><circle cx="67.0" cy="39.6" r="1.27"/><circle cx="80.4" cy="39.4" r="0.82"/><circle cx="59.2" cy="57.6" r="0.96"/><circle cx="55.5" cy="64.5" r="0.99"/><circle cx="54.0" cy="59.9" r="0.96"/><circle cx="56.5" cy="59.4" r="0.78"/><circle cx="60.9" cy="60.9" r="1.08"/><circle cx="57.2" cy="62.3" r="0.79"/><circle cx="54.0" cy="64.5" r="0.71"/><circle cx="55.8" cy="61.6" r="0.70"/><circle cx="55.4" cy="57.5" r="0.96"/><circle cx="54.9" cy="65.3" r="0.76"/><circle cx="54.7" cy="67.5" r="1.06"/><circle cx="57.4" cy="62.9" r="1.04"/><circle cx="54.1" cy="57.2" r="0.76"/><circle cx="55.1" cy="63.4" r="1.04"/><circle cx="56.1" cy="79.6" r="0.81" fill-opacity="0.8"/><circle cx="59.8" cy="80.1" r="0.72" fill-opacity="0.8"/><circle cx="73.4" cy="65.5" r="0.60" fill-opacity="0.8"/><circle cx="80.1" cy="80.5" r="0.50" fill-opacity="0.8"/><circle cx="75.1" cy="75.8" r="0.64" fill-opacity="0.8"/><circle cx="62.0" cy="63.0" r="0.73" fill-opacity="0.8"/><circle cx="70.5" cy="72.9" r="0.70" fill-opacity="0.8"/><circle cx="71.7" cy="73.8" r="0.72" fill-opacity="0.8"/><circle cx="62.5" cy="63.1" r="0.52" fill-opacity="0.8"/><circle cx="55.9" cy="81.3" r="0.60" fill-opacity="0.8"/><circle cx="75.5" cy="79.5" r="0.66" fill-opacity="0.8"/><circle cx="83.6" cy="59.5" r="0.78" fill-opacity="0.8"/><circle cx="50.0" cy="76.2" r="0.58" fill-opacity="0.8"/><circle cx="61.3" cy="78.3" r="0.79" fill-opacity="0.8"/><circle cx="70.4" cy="65.8" r="0.59" fill-opacity="0.8"/><circle cx="59.3" cy="76.4" r="0.61" fill-opacity="0.8"/><circle cx="60.5" cy="73.8" r="0.66" fill-opacity="0.8"/><circle cx="68.3" cy="59.3" r="0.75" fill-opacity="0.8"/><circle cx="59.8" cy="67.8" r="0.73" fill-opacity="0.8"/><circle cx="70.4" cy="65.0" r="0.48" fill-opacity="0.8"/><circle cx="53.8" cy="68.9" r="0.66" fill-opacity="0.8"/><circle cx="77.8" cy="67.3" r="0.74" fill-opacity="0.8"/><circle cx="75.4" cy="74.4" r="0.74" fill-opacity="0.8"/><circle cx="68.2" cy="71.9" r="0.72" fill-opacity="0.8"/><circle cx="68.1" cy="67.8" r="0.69" fill-opacity="0.8"/><circle cx="74.2" cy="81.7" r="0.69" fill-opacity="0.8"/><circle cx="65.2" cy="76.3" r="0.73" fill-opacity="0.8"/><circle cx="49.8" cy="67.9" r="0.61" fill-opacity="0.8"/><circle cx="52.6" cy="90.1" r="0.70" fill-opacity="0.8"/><circle cx="53.8" cy="70.4" r="0.72" fill-opacity="0.8"/><circle cx="59.8" cy="50.7" r="0.61" fill-opacity="0.8"/><circle cx="71.1" cy="58.2" r="0.76" fill-opacity="0.8"/><circle cx="70.9" cy="54.0" r="0.77" fill-opacity="0.8"/><circle cx="77.4" cy="66.6" r="0.65" fill-opacity="0.8"/><circle cx="61.0" cy="54.3" r="0.61" fill-opacity="0.8"/><circle cx="60.6" cy="72.4" r="0.72" fill-opacity="0.8"/><circle cx="73.7" cy="69.5" r="0.53" fill-opacity="0.8"/><circle cx="67.7" cy="79.1" r="0.57" fill-opacity="0.8"/><circle cx="68.1" cy="69.4" r="0.58" fill-opacity="0.8"/><circle cx="74.8" cy="78.6" r="0.73" fill-opacity="0.8"/><circle cx="66.4" cy="72.9" r="0.63" fill-opacity="0.8"/><circle cx="48.0" cy="60.1" r="0.48" fill-opacity="0.8"/><circle cx="69.5" cy="73.6" r="0.55" fill-opacity="0.8"/><circle cx="66.3" cy="84.2" r="0.67" fill-opacity="0.8"/><circle cx="65.9" cy="75.7" r="0.57" fill-opacity="0.8"/><circle cx="72.1" cy="83.4" r="0.58" fill-opacity="0.8"/><circle cx="49.2" cy="65.0" r="0.63" fill-opacity="0.8"/><circle cx="63.8" cy="88.8" r="0.78" fill-opacity="0.8"/><circle cx="58.8" cy="79.5" r="0.80" fill-opacity="0.8"/><circle cx="58.7" cy="70.7" r="0.49" fill-opacity="0.8"/><circle cx="80.3" cy="64.8" r="0.60" fill-opacity="0.8"/><circle cx="54.3" cy="68.1" r="0.57" fill-opacity="0.8"/><circle cx="78.2" cy="69.2" r="0.55" fill-opacity="0.8"/><circle cx="75.2" cy="70.7" r="0.60" fill-opacity="0.8"/><circle cx="69.1" cy="56.4" r="0.68" fill-opacity="0.8"/><circle cx="58.1" cy="83.2" r="0.70"/><circle cx="57.3" cy="85.5" r="0.78"/><circle cx="53.4" cy="78.9" r="0.67"/><circle cx="56.4" cy="82.3" r="0.88"/><circle cx="61.2" cy="82.5" r="0.91"/><circle cx="57.9" cy="81.9" r="0.68"/><circle cx="57.3" cy="81.8" r="0.76"/><circle cx="52.6" cy="83.2" r="0.80"/><circle cx="46.1" cy="62.0" r="1.18"/><circle cx="41.1" cy="67.3" r="0.81"/><circle cx="45.6" cy="62.2" r="1.05"/><circle cx="43.8" cy="63.7" r="1.21"/><circle cx="44.4" cy="66.4" r="0.80"/><circle cx="44.2" cy="67.2" r="1.14"/><circle cx="43.1" cy="67.5" r="0.81"/><circle cx="43.2" cy="66.1" r="1.28"/><circle cx="46.4" cy="60.2" r="0.76"/><circle cx="42.7" cy="67.3" r="0.88"/><circle cx="31.9" cy="27.4" r="0.52" fill-opacity="0.8"/><circle cx="48.7" cy="29.4" r="0.60" fill-opacity="0.8"/><circle cx="34.3" cy="26.7" r="0.66" fill-opacity="0.8"/><circle cx="33.1" cy="28.8" r="0.65" fill-opacity="0.8"/><circle cx="31.1" cy="35.6" r="0.61" fill-opacity="0.8"/><circle cx="41.0" cy="39.3" r="0.64" fill-opacity="0.8"/><circle cx="45.3" cy="27.4" r="0.79" fill-opacity="0.8"/><circle cx="32.5" cy="39.8" r="0.55" fill-opacity="0.8"/><circle cx="39.7" cy="32.1" r="0.77" fill-opacity="0.8"/><circle cx="37.0" cy="26.4" r="0.67" fill-opacity="0.8"/><circle cx="42.2" cy="23.1" r="0.55" fill-opacity="0.8"/><circle cx="38.5" cy="33.5" r="0.57" fill-opacity="0.8"/><circle cx="36.1" cy="31.3" r="0.86" fill-opacity="0.8"/><circle cx="31.6" cy="33.2" r="0.76" fill-opacity="0.8"/><circle cx="39.2" cy="18.9" r="0.66" fill-opacity="0.8"/><circle cx="35.0" cy="35.4" r="0.53" fill-opacity="0.8"/><circle cx="30.4" cy="35.4" r="0.88" fill-opacity="0.8"/><circle cx="40.2" cy="21.5" r="0.75" fill-opacity="0.8"/><circle cx="43.3" cy="30.6" r="0.65" fill-opacity="0.8"/><circle cx="36.3" cy="27.7" r="0.66" fill-opacity="0.8"/><circle cx="27.4" cy="29.4" r="0.83" fill-opacity="0.8"/><circle cx="35.3" cy="27.7" r="0.80" fill-opacity="0.8"/><circle cx="87.2" cy="55.0" r="0.53" fill-opacity="0.6"/><circle cx="55.0" cy="21.6" r="0.64" fill-opacity="0.6"/><circle cx="93.9" cy="52.3" r="0.64" fill-opacity="0.6"/><circle cx="81.8" cy="26.2" r="0.71" fill-opacity="0.6"/><circle cx="65.2" cy="26.2" r="0.45" fill-opacity="0.6"/><circle cx="34.6" cy="57.3" r="0.64" fill-opacity="0.6"/><circle cx="41.3" cy="86.2" r="0.53" fill-opacity="0.6"/><circle cx="52.0" cy="20.2" r="0.72" fill-opacity="0.6"/><circle cx="25.8" cy="84.1" r="0.59" fill-opacity="0.6"/><circle cx="59.9" cy="55.9" r="0.51" fill-opacity="0.6"/><circle cx="87.7" cy="91.4" r="0.67" fill-opacity="0.6"/><circle cx="63.1" cy="20.1" r="0.68" fill-opacity="0.6"/><circle cx="38.1" cy="83.6" r="0.50" fill-opacity="0.6"/><circle cx="60.9" cy="78.1" r="0.48" fill-opacity="0.6"/><circle cx="58.8" cy="16.3" r="0.43" fill-opacity="0.6"/><circle cx="29.4" cy="90.9" r="0.71" fill-opacity="0.6"/><circle cx="67.7" cy="35.2" r="0.63" fill-opacity="0.6"/><circle cx="74.0" cy="41.3" r="0.61" fill-opacity="0.6"/><circle cx="79.3" cy="11.3" r="0.49" fill-opacity="0.6"/><circle cx="52.4" cy="21.7" r="0.54" fill-opacity="0.6"/><circle cx="60.6" cy="24.2" r="0.58" fill-opacity="0.6"/><circle cx="36.1" cy="56.6" r="0.53" fill-opacity="0.6"/><circle cx="66.3" cy="13.1" r="0.63" fill-opacity="0.6"/><circle cx="26.6" cy="88.7" r="0.61" fill-opacity="0.6"/><circle cx="52.6" cy="43.7" r="0.61" fill-opacity="0.6"/><circle cx="70.1" cy="72.2" r="0.65" fill-opacity="0.6"/><circle cx="53.9" cy="91.6" r="0.68" fill-opacity="0.6"/><circle cx="83.4" cy="43.5" r="0.56" fill-opacity="0.6"/><circle cx="60.3" cy="84.2" r="0.59" fill-opacity="0.6"/><circle cx="57.0" cy="45.4" r="0.70" fill-opacity="0.6"/><circle cx="40.7" cy="14.5" r="0.65" fill-opacity="0.6"/><circle cx="87.0" cy="70.0" r="0.61" fill-opacity="0.6"/><circle cx="75.2" cy="35.0" r="0.61" fill-opacity="0.6"/><circle cx="20.6" cy="20.2" r="0.56" fill-opacity="0.6"/><circle cx="55.2" cy="42.5" r="0.44" fill-opacity="0.6"/><circle cx="70.6" cy="53.2" r="0.50" fill-opacity="0.6"/><circle cx="39.5" cy="42.4" r="0.50" fill-opacity="0.6"/><circle cx="20.5" cy="84.7" r="0.72" fill-opacity="0.6"/><circle cx="68.3" cy="81.1" r="0.55" fill-opacity="0.6"/><circle cx="79.4" cy="28.2" r="0.65" fill-opacity="0.6"/></g><g id="Lan"><circle cx="36.4" cy="24.0" r="1.12"/><circle cx="47.1" cy="23.4" r="0.96"/><circle cx="44.6" cy="31.8" r="1.13"/><circle cx="39.3" cy="19.0" r="1.11"/><circle cx="51.1" cy="27.1" r="0.84"/><circle cx="48.5" cy="21.8" r="1.20"/><circle cx="56.0" cy="26.2" r="0.94"/><circle cx="35.4" cy="28.2" r="0.77"/><circle cx="60.9" cy="26.9" r="1.03"/><circle cx="63.9" cy="30.8" r="1.27"/><circle cx="52.1" cy="26.2" r="0.83"/><circle cx="42.8" cy="29.2" r="0.84"/><circle cx="45.8" cy="21.3" r="0.85"/><circle cx="49.3" cy="18.2" r="0.98"/><circle cx="39.9" cy="19.6" r="0.96"/><circle cx="57.6" cy="24.3" r="1.28"/><circle cx="56.7" cy="21.7" r="0.95"/><circle cx="39.5" cy="28.6" r="1.12"/><circle cx="50.4" cy="25.2" r="0.95"/><circle cx="33.8" cy="22.2" r="1.03"/><circle cx="59.3" cy="24.4" r="0.99"/><circle cx="41.6" cy="22.4" r="0.99"/><circle cx="37.3" cy="28.4" r="0.81"/><circle cx="42.3" cy="21.8" r="1.13"/><circle cx="52.0" cy="23.7" r="0.94"/><circle cx="45.0" cy="21.6" r="1.00"/><circle cx="48.0" cy="26.7" r="1.01"/><circle cx="54.2" cy="21.3" r="1.27"/><circle cx="54.4" cy="32.7" r="0.95"/><circle cx="50.8" cy="30.5" r="1.25"/><circle cx="52.0" cy="23.0" r="1.17"/><circle cx="43.7" cy="25.9" r="0.76"/><circle cx="55.9" cy="24.5" r="1.29"/><circle cx="54.8" cy="22.7" r="0.77"/><circle cx="41.1" cy="30.7" r="1.21"/><circle cx="43.3" cy="20.0" r="1.04"/><circle cx="36.8" cy="23.8" r="0.90"/><circle cx="60.5" cy="19.3" r="0.84"/><circle cx="42.8" cy="32.6" r="0.91"/><circle cx="54.4" cy="20.7" r="1.13"/><circle cx="45.1" cy="19.5" r="0.91"/><circle cx="46.2" cy="30.4" r="1.13"/><circle cx="56.4" cy="30.5" r="0.98"/><circle cx="46.9" cy="28.1" r="1.28"/><circle cx="37.4" cy="20.2" r="1.25"/><circle cx="66.9" cy="32.9" r="1.29"/><circle cx="54.8" cy="28.5" r="1.55"/><circle cx="58.4" cy="32.6" r="1.25"/><circle cx="60.8" cy="27.6" r="1.00"/><circle cx="59.3" cy="22.7" r="1.56"/><circle cx="67.3" cy="27.4" r="1.37"/><circle cx="62.0" cy="29.6" r="1.06"/><circle cx="59.4" cy="39.4" r="1.65"/><circle cx="59.6" cy="28.3" r="1.43"/><circle cx="64.3" cy="40.5" r="1.49"/><circle cx="59.1" cy="38.1" r="1.28"/><circle cx="58.8" cy="43.5" r="1.09"/><circle cx="63.8" cy="38.1" r="1.49"/><circle cx="61.5" cy="26.5" r="1.65"/><circle cx="60.6" cy="36.4" r="1.34"/><circle cx="59.1" cy="36.6" r="1.47"/><circle cx="59.8" cy="39.0" r="1.22"/><circle cx="61.6" cy="35.0" r="1.25"/><circle cx="60.8" cy="39.3" r="1.30"/><circle cx="62.7" cy="48.5" r="1.35"/><circle cx="60.5" cy="31.9" r="1.32"/><circle cx="55.9" cy="28.1" r="1.17"/><circle cx="54.5" cy="38.3" r="1.58"/><circle cx="61.8" cy="42.7" r="1.53"/><circle cx="57.1" cy="40.8" r="1.46"/><circle cx="65.6" cy="34.0" r="1.47"/><circle cx="57.9" cy="43.2" r="1.22"/><circle cx="57.9" cy="35.3" r="1.21"/><circle cx="62.8" cy="38.5" r="1.38"/><circle cx="61.2" cy="37.1" r="1.56"/><circle cx="59.4" cy="49.0" r="1.42"/><circle cx="55.7" cy="43.1" r="1.63"/><circle cx="60.4" cy="38.1" r="1.45"/><circle cx="63.8" cy="28.4" r="1.55"/><circle cx="57.1" cy="39.7" r="1.18"/><circle cx="58.3" cy="38.5" r="1.26"/><circle cx="56.1" cy="41.7" r="1.11"/><circle cx="61.9" cy="39.7" r="1.68"/><circle cx="60.1" cy="35.0" r="1.58"/><circle cx="65.7" cy="27.4" r="1.25"/><circle cx="60.9" cy="30.2" r="1.09"/><circle cx="65.6" cy="26.8" r="1.14"/><circle cx="61.8" cy="34.4" r="1.21"/><circle cx="63.3" cy="35.6" r="1.11"/><circle cx="60.6" cy="30.4" r="1.13"/><circle cx="62.4" cy="40.0" r="1.60"/><circle cx="59.9" cy="33.6" r="1.48"/><circle cx="57.5" cy="33.8" r="1.37"/><circle cx="57.6" cy="26.5" r="1.35"/><circle cx="58.6" cy="30.2" r="1.44"/><circle cx="58.4" cy="39.3" r="1.36"/><circle cx="60.6" cy="30.6" r="1.65"/><circle cx="54.3" cy="35.9" r="1.48"/><circle cx="66.3" cy="32.8" r="1.29"/><circle cx="57.2" cy="39.9" r="1.53"/><circle cx="62.2" cy="32.6" r="1.04"/><circle cx="62.3" cy="36.9" r="1.03"/><circle cx="63.8" cy="35.5" r="1.07"/><circle cx="59.3" cy="27.7" r="1.68"/><circle cx="66.8" cy="32.9" r="1.67"/><circle cx="63.7" cy="36.1" r="1.65"/><circle cx="58.8" cy="35.9" r="1.53"/><circle cx="57.3" cy="38.8" r="1.22"/><circle cx="61.3" cy="37.9" r="1.42"/><circle cx="71.0" cy="30.1" r="1.53"/><circle cx="64.2" cy="33.0" r="1.20"/><circle cx="65.4" cy="31.5" r="1.47"/><circle cx="63.7" cy="35.6" r="1.33"/><circle cx="60.4" cy="24.2" r="1.53"/><circle cx="59.4" cy="40.3" r="1.60"/><circle cx="33.8" cy="45.0" r="1.13"/><circle cx="19.6" cy="41.6" r="1.25"/><circle cx="26.6" cy="49.4" r="1.43"/><circle cx="31.9" cy="49.0" r="1.67"/><circle cx="25.6" cy="42.1" r="1.29"/><circle cx="35.0" cy="49.4" r="1.44"/><circle cx="29.9" cy="50.0" r="1.41"/><circle cx="19.8" cy="43.4" r="1.21"/><circle cx="10.9" cy="56.8" r="1.23"/><circle cx="18.0" cy="45.2" r="1.11"/><circle cx="22.0" cy="47.0" r="1.22"/><circle cx="21.4" cy="48.2" r="1.66"/><circle cx="24.0" cy="48.9" r="1.46"/><circle cx="19.1" cy="48.3" r="1.45"/><circle cx="35.1" cy="48.1" r="1.06"/><circle cx="25.8" cy="53.0" r="1.69"/><circle cx="23.8" cy="43.0" r="1.30"/><circle cx="23.1" cy="53.2" r="1.16"/><circle cx="29.1" cy="50.9" r="1.44"/><circle cx="19.0" cy="42.7" r="1.67"/><circle cx="9.9" cy="47.8" r="1.27"/><circle cx="19.3" cy="46.2" r="1.50"/><circle cx="25.8" cy="42.2" r="1.37"/><circle cx="24.6" cy="40.4" r="1.46"/><circle cx="17.5" cy="40.9" r="1.24"/><circle cx="25.3" cy="46.2" r="1.62"/><circle cx="27.5" cy="41.3" r="1.68"/><circle cx="29.1" cy="43.9" r="1.59"/><circle cx="20.5" cy="47.0" r="1.18"/><circle cx="23.8" cy="46.0" r="1.03"/><circle cx="30.3" cy="47.7" r="1.10"/><circle cx="35.3" cy="50.8" r="1.26"/><circle cx="16.3" cy="45.6" r="1.65"/><circle cx="28.9" cy="47.7" r="1.60"/><circle cx="39.5" cy="40.1" r="1.37"/><circle cx="22.8" cy="47.3" r="1.64"/><circle cx="26.7" cy="40.0" r="1.55"/><circle cx="25.2" cy="50.5" r="1.63"/><circle cx="33.3" cy="49.0" r="1.12"/><circle cx="32.8" cy="38.5" r="1.45"/><circle cx="24.5" cy="45.6" r="1.34"/><circle cx="21.3" cy="48.6" r="1.05"/><circle cx="33.3" cy="42.8" r="1.39"/><circle cx="34.0" cy="37.8" r="1.38"/><circle cx="12.7" cy="43.1" r="1.26"/><circle cx="27.1" cy="44.8" r="1.56"/><circle cx="16.2" cy="44.3" r="1.69"/><circle cx="27.1" cy="49.5" r="1.56"/><circle cx="25.6" cy="40.2" r="1.54"/><circle cx="19.6" cy="37.7" r="1.45"/><circle cx="22.0" cy="47.9" r="1.05"/><circle cx="27.3" cy="46.2" r="1.68"/><circle cx="31.8" cy="49.7" r="1.09"/><circle cx="34.2" cy="44.2" r="1.12"/><circle cx="32.2" cy="37.9" r="1.69"/><circle cx="27.0" cy="49.5" r="1.46"/><circle cx="24.0" cy="50.6" r="1.49"/><circle cx="25.9" cy="37.5" r="1.52"/><circle cx="23.2" cy="52.2" r="1.30"/><circle cx="26.5" cy="46.1" r="1.43"/><circle cx="23.8" cy="46.8" r="1.34"/><circle cx="20.5" cy="47.2" r="1.39"/><circle cx="17.5" cy="44.1" r="1.69"/><circle cx="30.7" cy="43.3" r="1.61"/><circle cx="19.2" cy="54.4" r="1.03"/><circle cx="19.1" cy="54.2" r="1.46"/><circle cx="24.5" cy="42.6" r="1.08"/><circle cx="28.3" cy="44.9" r="1.12"/><circle cx="14.1" cy="48.6" r="1.47"/><circle cx="38.0" cy="45.2" r="1.30"/><circle cx="31.0" cy="43.4" r="1.03"/><circle cx="39.8" cy="43.1" r="1.46"/><circle cx="21.1" cy="45.7" r="1.15"/><circle cx="28.6" cy="46.1" r="1.33"/><circle cx="38.7" cy="39.4" r="1.36"/><circle cx="22.2" cy="41.1" r="1.54"/><circle cx="20.3" cy="33.6" r="1.59"/><circle cx="21.7" cy="40.3" r="1.11"/><circle cx="18.3" cy="46.1" r="1.10"/><circle cx="28.0" cy="49.4" r="1.12"/><circle cx="21.4" cy="42.7" r="1.69"/><circle cx="22.4" cy="40.7" r="1.30"/><circle cx="22.2" cy="47.1" r="1.67"/><circle cx="34.5" cy="42.2" r="1.45"/><circle cx="31.2" cy="49.4" r="1.11"/><circle cx="21.6" cy="50.3" r="1.11"/><circle cx="27.0" cy="52.1" r="1.34"/><circle cx="29.0" cy="43.7" r="1.05"/><circle cx="34.7" cy="43.1" r="1.48"/><circle cx="22.1" cy="44.5" r="1.69"/><circle cx="10.5" cy="45.6" r="1.10"/><circle cx="24.4" cy="50.5" r="1.17"/><circle cx="29.3" cy="42.8" r="1.05"/><circle cx="28.7" cy="48.2" r="1.66"/><circle cx="33.3" cy="41.0" r="1.29"/><circle cx="38.6" cy="47.3" r="1.08"/><circle cx="28.1" cy="49.6" r="1.60"/><circle cx="26.8" cy="46.7" r="1.64"/><circle cx="37.2" cy="45.7" r="1.09"/><circle cx="24.4" cy="48.0" r="1.30"/><circle cx="37.6" cy="41.5" r="1.37"/><circle cx="29.5" cy="46.7" r="1.20"/><circle cx="30.1" cy="36.3" r="1.01"/><circle cx="16.8" cy="54.5" r="1.10"/><circle cx="30.6" cy="46.9" r="1.62"/><circle cx="24.9" cy="52.0" r="1.08"/><circle cx="23.5" cy="43.2" r="1.41"/><circle cx="25.1" cy="36.7" r="1.30"/><circle cx="32.9" cy="44.9" r="1.67"/><circle cx="47.6" cy="37.5" r="1.07"/><circle cx="46.7" cy="53.1" r="1.39"/><circle cx="47.4" cy="53.8" r="1.14"/><circle cx="49.6" cy="47.8" r="0.85"/><circle cx="49.1" cy="55.9" r="1.26"/><circle cx="54.2" cy="41.9" r="1.09"/><circle cx="45.5" cy="43.0" r="1.27"/><circle cx="55.6" cy="51.8" r="0.95"/><circle cx="41.2" cy="49.6" r="1.30"/><circle cx="49.5" cy="45.1" r="1.03"/><circle cx="47.5" cy="46.7" r="1.38"/><circle cx="45.9" cy="51.0" r="1.04"/><circle cx="47.1" cy="45.7" r="0.93"/><circle cx="49.9" cy="48.5" r="1.23"/><circle cx="48.2" cy="47.8" r="1.13"/><circle cx="45.3" cy="50.2" r="1.06"/><circle cx="51.4" cy="50.1" r="1.01"/><circle cx="50.0" cy="48.5" r="1.41"/><circle cx="45.2" cy="38.0" r="1.34"/><circle cx="47.5" cy="45.3" r="0.92"/><circle cx="54.5" cy="47.3" r="1.29"/><circle cx="52.6" cy="52.7" r="1.18"/><circle cx="50.3" cy="49.1" r="1.44"/><circle cx="46.3" cy="46.7" r="0.90"/><circle cx="47.7" cy="44.5" r="1.14"/><circle cx="49.5" cy="49.5" r="1.15"/><circle cx="45.1" cy="48.8" r="0.94"/><circle cx="45.6" cy="48.4" r="0.89"/><circle cx="46.3" cy="48.0" r="1.30"/><circle cx="48.5" cy="42.4" r="1.43"/><circle cx="50.1" cy="51.0" r="1.10"/><circle cx="55.7" cy="50.8" r="0.88"/><circle cx="54.4" cy="47.2" r="1.45"/><circle cx="56.6" cy="50.5" r="1.44"/><circle cx="48.7" cy="43.3" r="1.24"/><circle cx="38.9" cy="48.6" r="1.20"/><circle cx="43.3" cy="46.8" r="1.23"/><circle cx="38.6" cy="43.5" r="1.32"/><circle cx="44.2" cy="52.7" r="0.99"/><circle cx="42.2" cy="48.3" r="1.29"/><circle cx="50.0" cy="48.7" r="0.96"/><circle cx="82.0" cy="43.6" r="1.31"/><circle cx="80.9" cy="48.7" r="0.93"/><circle cx="82.4" cy="44.6" r="0.91"/><circle cx="83.6" cy="42.6" r="1.00"/><circle cx="89.1" cy="46.3" r="1.33"/><circle cx="90.1" cy="46.2" r="0.82"/><circle cx="90.8" cy="44.3" r="1.26"/><circle cx="85.4" cy="51.5" r="1.21"/><circle cx="82.3" cy="45.4" r="1.07"/><circle cx="83.0" cy="43.1" r="1.20"/><circle cx="89.4" cy="46.7" r="1.30"/><circle cx="82.0" cy="45.9" r="1.11"/><circle cx="88.7" cy="50.1" r="0.84"/><circle cx="90.4" cy="43.6" r="0.87"/><circle cx="82.3" cy="49.2" r="1.06"/><circle cx="86.9" cy="42.9" r="1.02"/><circle cx="88.3" cy="51.4" r="0.86"/><circle cx="83.1" cy="42.6" r="1.17"/><circle cx="84.9" cy="49.7" r="0.92"/><circle cx="85.7" cy="50.3" r="1.33"/><circle cx="86.6" cy="49.8" r="1.25"/><circle cx="88.4" cy="43.4" r="1.24"/><circle cx="82.6" cy="43.9" r="1.13"/><circle cx="81.6" cy="48.2" r="1.24"/><circle cx="82.1" cy="49.7" r="1.28"/><circle cx="80.6" cy="46.7" r="1.19"/><circle cx="89.9" cy="48.0" r="1.08"/><circle cx="89.3" cy="49.6" r="1.35"/><circle cx="83.2" cy="50.5" r="1.09"/><circle cx="82.2" cy="43.9" r="1.27"/><circle cx="90.6" cy="49.3" r="1.10"/><circle cx="83.0" cy="43.6" r="0.98"/><circle cx="52.3" cy="64.5" r="1.59"/><circle cx="54.9" cy="60.9" r="1.35"/><circle cx="46.7" cy="65.0" r="1.01"/><circle cx="52.1" cy="61.2" r="1.34"/><circle cx="47.1" cy="57.9" r="1.36"/><circle cx="54.8" cy="71.4" r="1.20"/><circle cx="46.2" cy="60.9" r="1.60"/><circle cx="55.1" cy="67.0" r="1.16"/><circle cx="54.0" cy="60.3" r="1.56"/><circle cx="53.0" cy="59.5" r="1.46"/><circle cx="51.2" cy="62.0" r="1.15"/><circle cx="56.4" cy="70.4" r="1.21"/><circle cx="50.3" cy="70.8" r="1.61"/><circle cx="55.4" cy="69.3" r="1.10"/><circle cx="53.5" cy="56.8" r="1.46"/><circle cx="50.4" cy="62.9" r="1.52"/><circle cx="55.5" cy="67.8" r="1.59"/><circle cx="51.5" cy="69.1" r="1.40"/><circle cx="50.1" cy="60.8" r="1.23"/><circle cx="56.4" cy="59.7" r="1.06"/><circle cx="49.1" cy="56.0" r="1.35"/><circle cx="54.2" cy="61.8" r="1.14"/><circle cx="53.8" cy="61.4" r="1.03"/><circle cx="56.3" cy="71.5" r="1.50"/><circle cx="53.8" cy="71.0" r="1.08"/><circle cx="51.6" cy="63.5" r="1.33"/><circle cx="52.0" cy="58.7" r="1.37"/><circle cx="54.9" cy="67.4" r="1.47"/><circle cx="48.0" cy="69.3" r="1.35"/><circle cx="54.0" cy="57.1" r="1.15"/><circle cx="54.7" cy="56.5" r="1.23"/><circle cx="51.3" cy="59.4" r="1.33"/><circle cx="50.2" cy="68.5" r="1.15"/><circle cx="55.8" cy="60.2" r="1.36"/><circle cx="48.1" cy="63.3" r="1.06"/><circle cx="49.7" cy="60.1" r="1.18"/><circle cx="50.2" cy="63.8" r="1.38"/><circle cx="52.7" cy="59.8" r="1.05"/><circle cx="56.8" cy="62.8" r="1.16"/><circle cx="55.9" cy="67.2" r="1.09"/><circle cx="56.5" cy="59.7" r="1.13"/><circle cx="50.8" cy="65.1" r="1.10"/><circle cx="45.2" cy="60.7" r="1.23"/><circle cx="54.6" cy="63.2" r="1.01"/><circle cx="53.8" cy="60.3" r="1.13"/><circle cx="47.5" cy="66.1" r="1.09"/><circle cx="55.7" cy="67.8" r="1.39"/><circle cx="50.1" cy="63.0" r="1.53"/><circle cx="48.0" cy="66.4" r="1.54"/><circle cx="54.7" cy="67.9" r="1.23"/><circle cx="50.4" cy="61.5" r="1.11"/><circle cx="52.6" cy="69.7" r="1.15"/><circle cx="58.4" cy="60.0" r="1.44"/><circle cx="46.6" cy="68.7" r="1.33"/><circle cx="53.8" cy="53.0" r="1.03"/><circle cx="45.6" cy="74.7" r="1.22"/><circle cx="45.0" cy="79.4" r="1.55"/><circle cx="45.4" cy="79.3" r="1.01"/><circle cx="42.3" cy="78.7" r="1.56"/><circle cx="44.8" cy="78.2" r="1.57"/><circle cx="47.8" cy="76.4" r="1.55"/><circle cx="46.9" cy="76.4" r="1.46"/><circle cx="51.3" cy="79.9" r="0.95"/><circle cx="43.0" cy="80.2" r="1.29"/><circle cx="44.0" cy="81.0" r="1.16"/><circle cx="45.0" cy="78.6" r="1.18"/><circle cx="44.0" cy="77.2" r="0.96"/><circle cx="40.9" cy="80.2" r="1.30"/><circle cx="45.1" cy="77.0" r="1.61"/><circle cx="41.7" cy="78.4" r="1.37"/><circle cx="46.1" cy="77.2" r="1.57"/><circle cx="49.6" cy="78.7" r="1.56"/><circle cx="44.1" cy="80.4" r="1.55"/><circle cx="72.1" cy="61.7" r="0.99"/><circle cx="76.1" cy="70.7" r="0.74"/><circle cx="64.2" cy="69.2" r="1.02"/><circle cx="71.3" cy="75.2" r="1.10"/><circle cx="65.6" cy="68.2" r="1.21"/><circle cx="74.5" cy="71.0" r="1.07"/><circle cx="60.8" cy="65.0" r="1.17"/><circle cx="74.3" cy="74.7" r="0.84"/><circle cx="63.0" cy="65.4" r="1.03"/><circle cx="70.6" cy="62.1" r="0.92"/><circle cx="65.0" cy="68.5" r="1.17"/><circle cx="63.0" cy="75.2" r="1.13"/><circle cx="78.7" cy="49.1" r="1.07"/><circle cx="62.2" cy="68.5" r="1.10"/><circle cx="67.8" cy="69.3" r="0.99"/><circle cx="65.6" cy="64.2" r="1.13"/><circle cx="67.7" cy="55.4" r="0.86"/><circle cx="64.3" cy="62.4" r="0.88"/><circle cx="67.6" cy="72.9" r="1.13"/><circle cx="67.5" cy="76.4" r="0.84"/><circle cx="61.8" cy="67.1" r="1.15"/><circle cx="73.2" cy="73.1" r="1.13"/><circle cx="69.0" cy="67.6" r="0.93"/><circle cx="85.1" cy="69.1" r="0.87"/><circle cx="68.2" cy="63.7" r="0.74"/><circle cx="70.9" cy="67.8" r="1.21"/><circle cx="57.2" cy="74.1" r="0.95"/><circle cx="76.5" cy="63.2" r="0.80"/><circle cx="72.0" cy="70.6" r="1.02"/><circle cx="70.2" cy="71.7" r="0.90"/><circle cx="73.3" cy="72.0" r="1.03"/><circle cx="69.9" cy="82.3" r="0.84"/><circle cx="64.4" cy="75.4" r="1.14"/><circle cx="78.9" cy="73.8" r="0.76"/><circle cx="75.9" cy="68.4" r="1.09"/><circle cx="59.5" cy="69.0" r="1.06"/><circle cx="70.8" cy="73.6" r="1.17"/><circle cx="69.3" cy="75.1" r="0.74"/><circle cx="66.0" cy="58.0" r="0.73"/><circle cx="70.3" cy="67.4" r="0.96"/><circle cx="63.8" cy="69.5" r="0.87"/><circle cx="57.9" cy="70.7" r="0.84"/><circle cx="70.2" cy="89.1" r="0.84"/><circle cx="79.5" cy="79.8" r="1.18"/><circle cx="70.0" cy="78.4" r="1.15"/><circle cx="66.0" cy="75.8" r="0.71"/><circle cx="74.0" cy="77.0" r="0.96"/><circle cx="72.6" cy="64.2" r="0.85"/><circle cx="65.8" cy="72.4" r="0.95"/><circle cx="67.0" cy="65.8" r="1.00"/><circle cx="77.7" cy="69.8" r="0.87"/><circle cx="66.6" cy="67.3" r="0.76"/><circle cx="71.8" cy="59.8" r="1.02"/><circle cx="63.2" cy="67.6" r="1.13"/><circle cx="57.2" cy="68.8" r="1.08"/><circle cx="52.6" cy="64.5" r="0.83"/><circle cx="48.5" cy="47.3" r="1.11"/><circle cx="56.1" cy="52.2" r="0.74"/><circle cx="63.3" cy="50.5" r="0.73"/><circle cx="52.7" cy="52.0" r="1.01"/><circle cx="64.1" cy="61.5" r="1.11"/><circle cx="63.7" cy="60.3" r="0.85"/><circle cx="63.1" cy="57.4" r="0.81"/><circle cx="55.9" cy="54.0" r="0.96"/><circle cx="55.2" cy="58.6" r="1.06"/><circle cx="59.6" cy="48.5" r="0.78"/><circle cx="48.5" cy="54.5" r="1.02"/><circle cx="59.8" cy="54.8" r="0.74"/><circle cx="70.1" cy="54.8" r="0.90"/><circle cx="70.6" cy="61.9" r="1.05"/><circle cx="57.6" cy="59.4" r="0.70"/><circle cx="56.7" cy="61.8" r="0.87"/><circle cx="63.6" cy="55.1" r="0.77"/><circle cx="70.0" cy="41.4" r="1.07"/><circle cx="52.4" cy="55.2" r="1.08"/><circle cx="60.4" cy="46.4" r="0.99"/><circle cx="69.0" cy="52.2" r="0.78"/><circle cx="58.1" cy="41.2" r="0.77"/><circle cx="49.8" cy="61.7" r="1.04"/><circle cx="73.7" cy="58.5" r="0.78"/><circle cx="22.5" cy="14.0" r="0.63" fill-opacity="0.7"/><circle cx="49.6" cy="25.3" r="0.71" fill-opacity="0.7"/><circle cx="27.4" cy="86.1" r="0.81" fill-opacity="0.7"/><circle cx="39.6" cy="11.8" r="0.50" fill-opacity="0.7"/><circle cx="56.4" cy="39.1" r="0.74" fill-opacity="0.7"/><circle cx="45.9" cy="31.1" r="0.53" fill-opacity="0.7"/><circle cx="94.3" cy="72.7" r="0.70" fill-opacity="0.7"/><circle cx="30.3" cy="46.3" r="0.73" fill-opacity="0.7"/><circle cx="65.7" cy="32.8" r="0.59" fill-opacity="0.7"/><circle cx="79.3" cy="14.4" r="0.69" fill-opacity="0.7"/><circle cx="70.6" cy="52.3" r="0.66" fill-opacity="0.7"/><circle cx="88.7" cy="36.6" r="0.73" fill-opacity="0.7"/><circle cx="72.0" cy="70.6" r="0.50" fill-opacity="0.7"/><circle cx="69.5" cy="40.8" r="0.52" fill-opacity="0.7"/><circle cx="87.4" cy="31.8" r="0.63" fill-opacity="0.7"/><circle cx="37.5" cy="19.2" r="0.57" fill-opacity="0.7"/><circle cx="62.9" cy="62.4" r="0.72" fill-opacity="0.7"/><circle cx="24.6" cy="32.5" r="0.75" fill-opacity="0.7"/><circle cx="55.5" cy="70.6" r="0.63" fill-opacity="0.7"/><circle cx="46.9" cy="12.7" r="0.76" fill-opacity="0.7"/><circle cx="87.1" cy="68.6" r="0.55" fill-opacity="0.7"/><circle cx="64.3" cy="65.8" r="0.57" fill-opacity="0.7"/><circle cx="43.3" cy="82.9" r="0.56" fill-opacity="0.7"/><circle cx="62.7" cy="13.9" r="0.48" fill-opacity="0.7"/><circle cx="15.6" cy="35.0" r="0.79" fill-opacity="0.7"/><circle cx="60.0" cy="49.7" r="0.52" fill-opacity="0.7"/><circle cx="58.3" cy="20.6" r="0.50" fill-opacity="0.7"/><circle cx="39.7" cy="31.1" r="0.74" fill-opacity="0.7"/><circle cx="58.8" cy="62.5" r="0.57" fill-opacity="0.7"/><circle cx="44.6" cy="19.3" r="0.57" fill-opacity="0.7"/><circle cx="94.4" cy="64.9" r="0.59" fill-opacity="0.7"/><circle cx="64.2" cy="84.7" r="0.75" fill-opacity="0.7"/><circle cx="55.6" cy="22.8" r="0.49" fill-opacity="0.7"/><circle cx="17.9" cy="77.3" r="0.74" fill-opacity="0.7"/><circle cx="70.1" cy="69.3" r="0.52" fill-opacity="0.7"/><circle cx="60.1" cy="10.8" r="0.48" fill-opacity="0.7"/><circle cx="63.4" cy="10.6" r="0.61" fill-opacity="0.7"/><circle cx="41.3" cy="81.3" r="0.59" fill-opacity="0.7"/><circle cx="29.0" cy="65.8" r="0.52" fill-opacity="0.7"/><circle cx="93.3" cy="85.6" r="0.81" fill-opacity="0.7"/><circle cx="63.3" cy="24.8" r="0.54" fill-opacity="0.7"/><circle cx="71.3" cy="46.0" r="0.71" fill-opacity="0.7"/><circle cx="29.4" cy="56.7" r="0.76" fill-opacity="0.7"/><circle cx="35.8" cy="78.4" r="0.52" fill-opacity="0.7"/><circle cx="67.2" cy="13.4" r="0.55" fill-opacity="0.7"/><circle cx="18.0" cy="26.2" r="0.65" fill-opacity="0.7"/><circle cx="79.4" cy="76.7" r="0.78" fill-opacity="0.7"/><circle cx="32.5" cy="86.9" r="0.62" fill-opacity="0.7"/><circle cx="67.3" cy="69.2" r="0.56" fill-opacity="0.7"/><circle cx="35.3" cy="45.8" r="0.59" fill-opacity="0.7"/><circle cx="72.5" cy="81.0" r="0.70" fill-opacity="0.7"/><circle cx="16.1" cy="75.4" r="0.73" fill-opacity="0.7"/><circle cx="93.7" cy="25.4" r="0.79" fill-opacity="0.7"/><circle cx="44.9" cy="55.5" r="0.54" fill-opacity="0.7"/><circle cx="32.9" cy="44.6" r="0.66" fill-opacity="0.7"/><circle cx="33.2" cy="55.4" r="0.62" fill-opacity="0.7"/><circle cx="30.2" cy="63.1" r="0.58" fill-opacity="0.7"/><circle cx="15.0" cy="29.8" r="0.61" fill-opacity="0.7"/><circle cx="63.2" cy="15.6" r="0.77" fill-opacity="0.7"/><circle cx="18.5" cy="87.6" r="0.48" fill-opacity="0.7"/></g></defs>
<text x="79.3" y="15.2" font-size="11.2" font-weight="bold">A</text>
<text x="354.8" y="15.2" font-size="11.2" font-weight="bold">B</text>
<text x="7" y="125.3" font-size="11.2" font-weight="bold">C</text>
<text x="128.7" y="24.3" font-size="9" text-anchor="middle" textLength="26.0" lengthAdjust="spacingAndGlyphs">Control</text>
<use href="#Lac" fill="#0712c4" transform="translate(93.4 29.5) scale(0.7060 0.6880)"/>
<circle cx="114.4" cy="81.1" r="0.98" fill="#60ffd0"/><circle cx="113.0" cy="79.5" r="0.99" fill="#00ffff"/><circle cx="114.9" cy="80.9" r="0.65" fill="#40e0ff"/><circle cx="112.4" cy="81.0" r="0.98" fill="#40e0ff"/><circle cx="114.1" cy="80.3" r="1.03" fill="#00c8ff"/><circle cx="110.0" cy="78.9" r="0.72" fill="#60ffd0"/><circle cx="109.6" cy="79.8" r="1.00" fill="#40e0ff"/><circle cx="114.7" cy="79.5" r="0.71" fill="#60ffd0"/><circle cx="115.2" cy="81.7" r="0.70" fill="#40e0ff"/><circle cx="115.3" cy="78.9" r="0.74" fill="#60ffd0"/><circle cx="114.4" cy="78.6" r="0.80" fill="#00ffff"/><circle cx="111.0" cy="79.6" r="0.98" fill="#00c8ff"/><circle cx="112.6" cy="79.7" r="0.94" fill="#00c8ff"/><circle cx="115.0" cy="80.4" r="0.66" fill="#00ffff"/><circle cx="117.2" cy="73.8" r="0.74" fill="#e00000"/><circle cx="116.8" cy="73.7" r="0.85" fill="#ffc000"/><circle cx="123.8" cy="75.2" r="0.90" fill="#00a0ff"/><circle cx="123.7" cy="73.9" r="0.84" fill="#00c8ff"/><circle cx="124.1" cy="74.1" r="0.65" fill="#30b0ff"/><circle cx="122.5" cy="73.4" r="0.88" fill="#00c8ff"/><circle cx="122.4" cy="73.0" r="0.57" fill="#0070ff"/><circle cx="121.5" cy="73.9" r="0.61" fill="#40e0ff"/>
<polygon points="96.6,67.8 129.2,68.9 127.8,78.3 111.5,87.2 98.7,84.1" fill="none" stroke="#4646e8" stroke-width="1.3"/>
<rect x="93.5" y="29.5" width="71.0" height="69.0" fill="none" stroke="#2a2a2a" stroke-width="1"/>
<path d="M90.2 35.5h2.8M90.2 44.5h2.8M90.2 54.5h2.8M90.2 64.5h2.8M90.2 73.5h2.8M90.2 83.5h2.8M90.2 93.5h2.8M96.5 99.0v2.8M102.5 99.0v2.8M107.5 99.0v2.8M112.5 99.0v2.8M117.5 99.0v2.8M123.5 99.0v2.8M128.5 99.0v2.8M133.5 99.0v2.8M139.5 99.0v2.8M144.5 99.0v2.8M149.5 99.0v2.8M154.5 99.0v2.8M160.5 99.0v2.8" stroke="#2a2a2a" stroke-width="1" fill="none"/>
<rect x="167.2" y="30.3" width="5.0" height="68.2" fill="url(#jet)"/>
<text x="179.2" y="33.0" font-size="7.6" class="t">112</text>
<text x="179.2" y="49.9" font-size="7.6" class="t">43</text>
<text x="179.2" y="66.8" font-size="7.6" class="t">16</text>
<text x="179.2" y="83.7" font-size="7.6" class="t">6</text>
<text x="179.2" y="100.6" font-size="7.6" class="t">0</text>
<path d="M172.2 30.5h2.6M172.2 47.5h2.6M172.2 64.5h2.6M172.2 81.5h2.6M172.2 97.5h2.6" stroke="#333" stroke-width="1"/>
<text x="244.9" y="24.3" font-size="9" text-anchor="middle" textLength="24.3" lengthAdjust="spacingAndGlyphs">NDMM</text>
<use href="#Lan" fill="#0712c4" transform="translate(209.6 29.5) scale(0.7060 0.6880)"/>
<circle cx="224.8" cy="76.2" r="0.95" fill="#c0ff40"/><circle cx="221.1" cy="77.7" r="0.65" fill="#60ffd0"/><circle cx="231.5" cy="75.6" r="0.87" fill="#c0ff40"/><circle cx="228.8" cy="76.8" r="0.64" fill="#40e0ff"/><circle cx="222.3" cy="78.0" r="0.64" fill="#c0ff40"/><circle cx="227.8" cy="81.2" r="0.73" fill="#40e0ff"/><circle cx="224.0" cy="77.8" r="0.60" fill="#ffc000"/><circle cx="224.6" cy="73.7" r="0.91" fill="#ffd000"/><circle cx="227.9" cy="75.3" r="0.59" fill="#e00000"/><circle cx="219.8" cy="79.4" r="0.65" fill="#40e0ff"/><circle cx="226.7" cy="77.4" r="0.84" fill="#00ffff"/><circle cx="226.7" cy="81.4" r="0.95" fill="#ffd000"/><circle cx="227.9" cy="77.8" r="0.62" fill="#e00000"/><circle cx="235.2" cy="76.7" r="0.92" fill="#ffc000"/><circle cx="222.3" cy="77.4" r="0.91" fill="#ffff00"/><circle cx="229.1" cy="75.9" r="0.77" fill="#00ffff"/><circle cx="228.7" cy="76.7" r="0.79" fill="#ff8000"/><circle cx="235.4" cy="75.3" r="0.90" fill="#40e0ff"/><circle cx="224.6" cy="74.0" r="0.80" fill="#ff0000"/><circle cx="227.9" cy="75.7" r="0.63" fill="#60ffd0"/><circle cx="226.6" cy="71.9" r="0.74" fill="#00c8ff"/><circle cx="229.4" cy="77.6" r="0.68" fill="#ffd000"/><circle cx="222.5" cy="63.1" r="0.84" fill="#00c8ff"/><circle cx="220.0" cy="62.7" r="0.83" fill="#00c8ff"/><circle cx="223.7" cy="63.8" r="0.66" fill="#40e0ff"/><circle cx="219.4" cy="63.1" r="0.88" fill="#00c8ff"/><circle cx="220.9" cy="63.4" r="0.95" fill="#40e0ff"/><circle cx="222.9" cy="62.6" r="0.90" fill="#60ffd0"/><circle cx="220.7" cy="62.3" r="0.69" fill="#00c8ff"/>
<polygon points="213.4,69.1 246.2,70.4 229.2,88.5 215.0,85.4" fill="none" stroke="#4646e8" stroke-width="1.3"/>
<rect x="209.5" y="29.5" width="71.0" height="69.0" fill="none" stroke="#2a2a2a" stroke-width="1"/>
<path d="M206.2 35.5h2.8M206.2 44.5h2.8M206.2 54.5h2.8M206.2 64.5h2.8M206.2 73.5h2.8M206.2 83.5h2.8M206.2 93.5h2.8M213.5 99.0v2.8M218.5 99.0v2.8M223.5 99.0v2.8M228.5 99.0v2.8M234.5 99.0v2.8M239.5 99.0v2.8M244.5 99.0v2.8M249.5 99.0v2.8M255.5 99.0v2.8M260.5 99.0v2.8M265.5 99.0v2.8M270.5 99.0v2.8M276.5 99.0v2.8" stroke="#2a2a2a" stroke-width="1" fill="none"/>
<rect x="283.4" y="30.3" width="5.0" height="68.2" fill="url(#jet)"/>
<text x="295.4" y="33.0" font-size="7.6" class="t">112</text>
<text x="295.4" y="49.9" font-size="7.6" class="t">43</text>
<text x="295.4" y="66.8" font-size="7.6" class="t">16</text>
<text x="295.4" y="83.7" font-size="7.6" class="t">6</text>
<text x="295.4" y="100.6" font-size="7.6" class="t">0</text>
<path d="M288.4 30.5h2.6M288.4 47.5h2.6M288.4 64.5h2.6M288.4 81.5h2.6M288.4 97.5h2.6" stroke="#333" stroke-width="1"/>
<circle cx="403.6" cy="53.9" r="0.56" fill="#ff6060"/>
<circle cx="407.1" cy="47.6" r="0.55" fill="#ff8040"/>
<circle cx="406.3" cy="53.2" r="0.50" fill="#ff9090"/>
<circle cx="412.4" cy="54.3" r="0.61" fill="#ff6060"/>
<circle cx="415.9" cy="47.2" r="0.55" fill="#ff6060"/>
<circle cx="398.7" cy="47.2" r="0.65" fill="#ff6060"/>
<circle cx="401.7" cy="49.1" r="0.50" fill="#ff8040"/>
<circle cx="410.5" cy="54.4" r="0.61" fill="#ff9090"/>
<circle cx="413.6" cy="55.8" r="0.44" fill="#ff6060"/>
<circle cx="402.9" cy="49.6" r="0.40" fill="#ff9090"/>
<circle cx="396.0" cy="50.6" r="0.60" fill="#ffc0b0"/>
<circle cx="398.3" cy="46.5" r="0.47" fill="#ff9090"/>
<circle cx="403.8" cy="45.5" r="0.54" fill="#ff8040"/>
<circle cx="398.5" cy="50.6" r="0.51" fill="#ff8040"/>
<circle cx="409.4" cy="49.9" r="0.50" fill="#ff3030"/>
<circle cx="410.8" cy="56.9" r="0.40" fill="#ff6060"/>
<circle cx="406.5" cy="41.4" r="0.63" fill="#ff3030"/>
<circle cx="401.7" cy="55.8" r="0.52" fill="#ffc0b0"/>
<circle cx="408.7" cy="51.7" r="0.46" fill="#ff6060"/>
<circle cx="416.8" cy="54.4" r="0.56" fill="#ffc0b0"/>
<circle cx="403.9" cy="57.0" r="0.57" fill="#ff6060"/>
<circle cx="412.3" cy="48.0" r="0.55" fill="#ffc0b0"/>
<circle cx="417.9" cy="54.6" r="0.42" fill="#ff9090"/>
<circle cx="391.7" cy="59.6" r="0.52" fill="#ff9090"/>
<circle cx="396.3" cy="53.1" r="0.63" fill="#ffc0b0"/>
<circle cx="409.7" cy="46.2" r="0.50" fill="#ff3030"/>
<circle cx="402.5" cy="44.2" r="0.45" fill="#ff6060"/>
<circle cx="408.1" cy="54.8" r="0.45" fill="#ffc0b0"/>
<circle cx="408.0" cy="46.6" r="0.46" fill="#ff9090"/>
<circle cx="399.1" cy="53.6" r="0.54" fill="#ff9090"/>
<circle cx="402.2" cy="42.7" r="0.55" fill="#ff6060"/>
<circle cx="390.5" cy="54.1" r="0.65" fill="#ff8040"/>
<circle cx="399.5" cy="54.7" r="0.41" fill="#ffc0b0"/>
<circle cx="408.3" cy="51.4" r="0.44" fill="#ff9090"/>
<circle cx="413.7" cy="56.3" r="0.41" fill="#ff8040"/>
<circle cx="407.7" cy="53.0" r="0.48" fill="#ff6060"/>
<circle cx="410.4" cy="52.4" r="0.49" fill="#ff3030"/>
<circle cx="415.7" cy="47.8" r="0.52" fill="#ff6060"/>
<circle cx="419.8" cy="32.7" r="0.51" fill="#ffc0b0"/>
<circle cx="403.9" cy="53.9" r="0.59" fill="#ff3030"/>
<circle cx="393.8" cy="51.8" r="0.53" fill="#ff9090"/>
<circle cx="414.6" cy="47.8" r="0.43" fill="#ff8040"/>
<circle cx="416.8" cy="44.4" r="0.47" fill="#ff6060"/>
<circle cx="403.6" cy="45.3" r="0.49" fill="#ff9090"/>
<circle cx="402.2" cy="54.2" r="0.53" fill="#ff8040"/>
<circle cx="402.9" cy="54.7" r="0.61" fill="#ff9090"/>
<circle cx="410.5" cy="38.4" r="0.59" fill="#ff9090"/>
<circle cx="408.4" cy="58.0" r="0.59" fill="#ff6060"/>
<circle cx="407.8" cy="42.8" r="0.44" fill="#ff8040"/>
<circle cx="413.7" cy="48.4" r="0.64" fill="#ff3030"/>
<circle cx="412.7" cy="48.5" r="0.45" fill="#ff9090"/>
<circle cx="398.7" cy="51.5" r="0.52" fill="#ff8040"/>
<circle cx="410.3" cy="43.7" r="0.56" fill="#ff6060"/>
<circle cx="407.6" cy="47.4" r="0.49" fill="#ff9090"/>
<circle cx="400.8" cy="51.0" r="0.60" fill="#ff3030"/>
<circle cx="421.6" cy="59.0" r="0.58" fill="#ffc0b0"/>
<circle cx="390.3" cy="60.1" r="0.58" fill="#ff9090"/>
<circle cx="407.4" cy="50.3" r="0.55" fill="#ffc0b0"/>
<circle cx="407.1" cy="46.7" r="0.61" fill="#ffc0b0"/>
<circle cx="401.6" cy="45.0" r="0.54" fill="#ff9090"/>
<circle cx="419.3" cy="52.0" r="0.58" fill="#ff6060"/>
<circle cx="387.8" cy="47.7" r="0.50" fill="#ff9090"/>
<circle cx="408.0" cy="46.2" r="0.45" fill="#ff3030"/>
<circle cx="392.4" cy="50.3" r="0.47" fill="#ff8040"/>
<circle cx="402.0" cy="52.2" r="0.64" fill="#ff3030"/>
<circle cx="414.7" cy="44.3" r="0.61" fill="#ff8040"/>
<circle cx="390.4" cy="57.7" r="0.52" fill="#ff8040"/>
<circle cx="410.9" cy="57.1" r="0.63" fill="#ff9090"/>
<circle cx="395.2" cy="42.9" r="0.43" fill="#ff9090"/>
<circle cx="393.3" cy="52.2" r="0.54" fill="#ff3030"/>
<circle cx="401.7" cy="42.7" r="0.52" fill="#ff6060"/>
<circle cx="407.6" cy="48.8" r="0.44" fill="#ff6060"/>
<circle cx="406.9" cy="42.3" r="0.54" fill="#ff6060"/>
<circle cx="395.6" cy="53.7" r="0.52" fill="#ff8040"/>
<circle cx="407.5" cy="55.6" r="0.52" fill="#ffc0b0"/>
<circle cx="399.8" cy="50.1" r="0.53" fill="#ff3030"/>
<circle cx="420.1" cy="43.6" r="0.44" fill="#ffc0b0"/>
<circle cx="408.2" cy="53.0" r="0.51" fill="#ff6060"/>
<circle cx="401.7" cy="44.0" r="0.44" fill="#ff3030"/>
<circle cx="409.1" cy="36.0" r="0.43" fill="#ff3030"/>
<circle cx="413.9" cy="46.0" r="1.12" fill="#ff2020"/>
<circle cx="409.9" cy="41.7" r="1.09" fill="#ff2020"/>
<circle cx="415.7" cy="42.4" r="0.74" fill="#ff8080"/>
<circle cx="413.0" cy="42.6" r="0.87" fill="#ff5050"/>
<circle cx="407.8" cy="45.6" r="0.67" fill="#e00000"/>
<circle cx="405.2" cy="43.5" r="0.85" fill="#e00000"/>
<circle cx="407.2" cy="40.9" r="0.70" fill="#ff2020"/>
<circle cx="411.3" cy="42.5" r="0.79" fill="#ff0000"/>
<circle cx="411.5" cy="41.9" r="1.02" fill="#ff8080"/>
<circle cx="412.6" cy="40.1" r="1.11" fill="#ff8080"/>
<circle cx="414.0" cy="46.4" r="0.94" fill="#ff5050"/>
<circle cx="410.8" cy="43.0" r="0.99" fill="#ff8080"/>
<circle cx="411.8" cy="41.6" r="0.67" fill="#ff0000"/>
<circle cx="410.3" cy="41.8" r="1.07" fill="#ff0000"/>
<circle cx="409.7" cy="43.7" r="0.67" fill="#e00000"/>
<circle cx="403.9" cy="44.9" r="0.96" fill="#ff0000"/>
<circle cx="407.6" cy="42.4" r="0.72" fill="#ff2020"/>
<circle cx="409.7" cy="43.9" r="1.11" fill="#ff5050"/>
<circle cx="407.8" cy="42.4" r="0.88" fill="#ff2020"/>
<circle cx="409.2" cy="46.3" r="1.14" fill="#ff0000"/>
<circle cx="414.9" cy="43.0" r="0.93" fill="#ff2020"/>
<circle cx="407.6" cy="42.5" r="0.88" fill="#ff8080"/>
<circle cx="407.7" cy="40.5" r="1.09" fill="#e00000"/>
<circle cx="409.1" cy="44.0" r="0.77" fill="#ff2020"/>
<circle cx="412.3" cy="39.8" r="0.97" fill="#ff8080"/>
<circle cx="418.6" cy="42.2" r="1.06" fill="#ff0000"/>
<circle cx="417.3" cy="57.5" r="0.83" fill="#ff2020"/>
<circle cx="417.1" cy="56.4" r="0.89" fill="#e00000"/>
<circle cx="413.4" cy="50.1" r="0.82" fill="#ff5050"/>
<circle cx="415.5" cy="54.7" r="0.83" fill="#ff0000"/>
<circle cx="413.8" cy="67.0" r="1.19" fill="#e00000"/>
<circle cx="413.9" cy="55.0" r="1.14" fill="#ff2020"/>
<circle cx="414.1" cy="54.0" r="0.89" fill="#ff8080"/>
<circle cx="413.6" cy="61.2" r="0.82" fill="#ff0000"/>
<circle cx="417.4" cy="59.0" r="0.77" fill="#e00000"/>
<circle cx="414.6" cy="54.1" r="0.85" fill="#ff2020"/>
<circle cx="418.7" cy="60.4" r="1.13" fill="#ff2020"/>
<circle cx="412.4" cy="47.0" r="1.14" fill="#ff8080"/>
<circle cx="414.5" cy="45.6" r="0.95" fill="#ff5050"/>
<circle cx="413.7" cy="46.5" r="0.72" fill="#e00000"/>
<circle cx="411.9" cy="47.8" r="1.11" fill="#ff2020"/>
<circle cx="417.1" cy="49.2" r="0.98" fill="#ff0000"/>
<circle cx="415.5" cy="47.8" r="1.15" fill="#ff2020"/>
<circle cx="414.7" cy="54.6" r="1.02" fill="#ff0000"/>
<circle cx="412.6" cy="57.8" r="0.73" fill="#ff0000"/>
<circle cx="412.0" cy="48.3" r="0.94" fill="#ff0000"/>
<circle cx="413.4" cy="54.3" r="1.17" fill="#e00000"/>
<circle cx="416.3" cy="57.3" r="1.07" fill="#ff8080"/>
<circle cx="414.2" cy="55.8" r="0.83" fill="#ff2020"/>
<circle cx="414.6" cy="61.2" r="0.93" fill="#ff8080"/>
<circle cx="418.2" cy="59.1" r="0.84" fill="#ff0000"/>
<circle cx="412.0" cy="48.8" r="0.74" fill="#ff2020"/>
<circle cx="412.7" cy="60.3" r="1.05" fill="#e00000"/>
<circle cx="413.9" cy="53.5" r="0.73" fill="#ff5050"/>
<circle cx="415.1" cy="53.4" r="0.81" fill="#ff8080"/>
<circle cx="413.6" cy="59.8" r="0.93" fill="#ff8080"/>
<circle cx="414.9" cy="37.6" r="0.97" fill="#ff5050"/>
<circle cx="419.0" cy="52.2" r="0.71" fill="#ff8080"/>
<circle cx="413.4" cy="59.7" r="1.08" fill="#80ff80"/>
<circle cx="408.7" cy="61.0" r="1.05" fill="#ffff00"/>
<circle cx="410.8" cy="58.6" r="0.87" fill="#80ff80"/>
<circle cx="413.8" cy="60.9" r="0.86" fill="#ffff00"/>
<circle cx="411.3" cy="58.0" r="1.03" fill="#80ff80"/>
<circle cx="410.8" cy="59.5" r="1.06" fill="#ff8000"/>
<circle cx="410.2" cy="59.3" r="0.69" fill="#80ff80"/>
<circle cx="411.0" cy="59.5" r="0.78" fill="#80ff80"/>
<circle cx="381.5" cy="50.1" r="0.91" fill="#e00000"/>
<circle cx="381.0" cy="49.9" r="1.01" fill="#ff2000"/>
<circle cx="382.4" cy="52.5" r="1.36" fill="#ff0000"/>
<circle cx="380.8" cy="52.9" r="1.01" fill="#ff0000"/>
<circle cx="381.4" cy="52.4" r="1.24" fill="#e00000"/>
<circle cx="381.5" cy="52.9" r="1.15" fill="#e00000"/>
<circle cx="381.8" cy="50.3" r="1.10" fill="#ff0000"/>
<circle cx="382.0" cy="50.7" r="1.39" fill="#e00000"/>
<circle cx="381.4" cy="51.8" r="1.28" fill="#c00000"/>
<circle cx="381.1" cy="51.7" r="1.36" fill="#c00000"/>
<circle cx="383.7" cy="52.8" r="0.92" fill="#c00000"/>
<circle cx="380.8" cy="52.5" r="0.99" fill="#ff2000"/>
<circle cx="384.2" cy="54.1" r="0.85" fill="#ff8000"/>
<circle cx="385.3" cy="54.5" r="0.66" fill="#ff8000"/>
<circle cx="383.9" cy="53.6" r="0.78" fill="#ff8000"/>
<circle cx="383.8" cy="54.2" r="0.74" fill="#ffff00"/>
<circle cx="393.8" cy="63.1" r="0.90" fill="#c00000"/>
<circle cx="395.0" cy="61.3" r="0.78" fill="#400000"/>
<circle cx="391.2" cy="64.3" r="0.89" fill="#c00000"/>
<circle cx="393.9" cy="62.9" r="0.92" fill="#c00000"/>
<circle cx="396.5" cy="63.9" r="1.12" fill="#800000"/>
<circle cx="399.0" cy="64.4" r="0.98" fill="#400000"/>
<circle cx="392.4" cy="63.0" r="1.22" fill="#ff0000"/>
<circle cx="396.3" cy="63.7" r="1.19" fill="#400000"/>
<circle cx="397.3" cy="62.0" r="0.81" fill="#400000"/>
<circle cx="396.3" cy="62.2" r="0.83" fill="#800000"/>
<circle cx="398.4" cy="66.2" r="0.83" fill="#400000"/>
<circle cx="398.2" cy="63.9" r="0.77" fill="#800000"/>
<circle cx="395.0" cy="66.3" r="1.13" fill="#c00000"/>
<circle cx="397.9" cy="61.9" r="1.06" fill="#400000"/>
<circle cx="394.0" cy="61.6" r="0.81" fill="#800000"/>
<circle cx="393.0" cy="63.2" r="1.10" fill="#ff0000"/>
<circle cx="386.0" cy="61.1" r="0.92" fill="#c00000"/>
<circle cx="391.1" cy="59.6" r="1.03" fill="#800000"/>
<circle cx="393.8" cy="62.3" r="1.00" fill="#c00000"/>
<circle cx="396.0" cy="62.8" r="1.26" fill="#400000"/>
<circle cx="396.0" cy="63.0" r="1.00" fill="#c00000"/>
<circle cx="394.5" cy="62.9" r="0.96" fill="#400000"/>
<circle cx="392.7" cy="63.7" r="0.77" fill="#c00000"/>
<circle cx="394.2" cy="60.4" r="0.88" fill="#800000"/>
<circle cx="392.6" cy="65.4" r="0.90" fill="#800000"/>
<circle cx="393.9" cy="66.0" r="0.83" fill="#400000"/>
<circle cx="390.2" cy="60.1" r="1.04" fill="#ff0000"/>
<circle cx="395.8" cy="62.1" r="0.99" fill="#800000"/>
<circle cx="397.8" cy="62.8" r="1.00" fill="#ff0000"/>
<circle cx="395.5" cy="64.1" r="1.16" fill="#c00000"/>
<circle cx="398.4" cy="62.7" r="1.05" fill="#ff8000"/>
<circle cx="399.2" cy="65.2" r="0.87" fill="#ff8000"/>
<circle cx="399.9" cy="64.6" r="0.80" fill="#ff8000"/>
<circle cx="399.6" cy="64.4" r="0.68" fill="#ffff00"/>
<circle cx="398.6" cy="65.0" r="1.06" fill="#ffff00"/>
<circle cx="426.7" cy="54.2" r="0.80" fill="#ff8000"/>
<circle cx="429.5" cy="53.6" r="0.65" fill="#ff8000"/>
<circle cx="429.4" cy="58.0" r="0.83" fill="#ff8000"/>
<circle cx="426.9" cy="58.9" r="0.64" fill="#ff8000"/>
<circle cx="428.8" cy="58.4" r="0.81" fill="#ff8000"/>
<circle cx="429.3" cy="55.7" r="1.04" fill="#ff8000"/>
<circle cx="429.0" cy="56.2" r="0.90" fill="#ff8000"/>
<circle cx="428.3" cy="60.7" r="0.91" fill="#ff8000"/>
<circle cx="428.8" cy="52.4" r="1.05" fill="#ff8000"/>
<circle cx="431.1" cy="55.6" r="1.04" fill="#ff4000"/>
<circle cx="424.0" cy="57.2" r="1.00" fill="#40ffff"/>
<circle cx="421.5" cy="57.6" r="1.06" fill="#80ff80"/>
<circle cx="424.1" cy="55.4" r="1.00" fill="#40ffff"/>
<circle cx="424.2" cy="57.0" r="0.99" fill="#80ff80"/>
<circle cx="424.3" cy="55.9" r="0.90" fill="#80ff80"/>
<circle cx="397.0" cy="71.6" r="1.20" fill="#ff0000"/>
<circle cx="392.9" cy="73.4" r="0.86" fill="#ff2020"/>
<circle cx="395.8" cy="73.9" r="1.07" fill="#800000"/>
<circle cx="396.6" cy="75.8" r="0.83" fill="#ff0000"/>
<circle cx="395.2" cy="74.6" r="0.82" fill="#ff2020"/>
<circle cx="401.7" cy="73.1" r="0.87" fill="#c00000"/>
<circle cx="392.4" cy="75.3" r="1.14" fill="#ff0000"/>
<circle cx="395.6" cy="71.6" r="0.92" fill="#800000"/>
<circle cx="392.5" cy="76.4" r="0.88" fill="#c00000"/>
<circle cx="396.0" cy="75.2" r="0.92" fill="#c00000"/>
<circle cx="394.1" cy="75.8" r="1.32" fill="#c00000"/>
<circle cx="394.6" cy="72.7" r="1.03" fill="#ff0000"/>
<circle cx="397.4" cy="75.3" r="1.22" fill="#ff2020"/>
<circle cx="395.9" cy="73.3" r="0.93" fill="#ff0000"/>
<circle cx="398.4" cy="74.6" r="1.23" fill="#c00000"/>
<circle cx="397.4" cy="72.6" r="1.25" fill="#ff2020"/>
<circle cx="391.9" cy="71.1" r="1.14" fill="#ff0000"/>
<circle cx="397.8" cy="75.6" r="1.11" fill="#c00000"/>
<circle cx="397.4" cy="74.1" r="0.79" fill="#800000"/>
<circle cx="399.1" cy="74.5" r="1.27" fill="#ff0000"/>
<circle cx="396.3" cy="71.4" r="0.97" fill="#800000"/>
<circle cx="395.8" cy="73.9" r="1.04" fill="#ff2020"/>
<circle cx="396.3" cy="74.0" r="0.99" fill="#c00000"/>
<circle cx="394.6" cy="72.8" r="0.86" fill="#800000"/>
<circle cx="393.6" cy="74.7" r="0.94" fill="#ff0000"/>
<circle cx="394.1" cy="76.5" r="0.97" fill="#ff2020"/>
<circle cx="399.3" cy="74.1" r="1.21" fill="#c00000"/>
<circle cx="393.4" cy="75.2" r="1.29" fill="#ff2020"/>
<circle cx="397.3" cy="72.1" r="1.22" fill="#ff2020"/>
<circle cx="393.2" cy="72.5" r="1.20" fill="#c00000"/>
<circle cx="398.3" cy="73.9" r="1.12" fill="#ff2020"/>
<circle cx="398.1" cy="75.4" r="0.97" fill="#c00000"/>
<circle cx="396.5" cy="75.2" r="1.06" fill="#ff0000"/>
<circle cx="397.4" cy="75.4" r="1.21" fill="#c00000"/>
<circle cx="393.8" cy="78.0" r="0.79" fill="#ff2020"/>
<circle cx="386.8" cy="80.9" r="0.92" fill="#40ffff"/>
<circle cx="389.1" cy="78.8" r="1.00" fill="#40ffff"/>
<circle cx="385.8" cy="78.1" r="0.91" fill="#ffff00"/>
<circle cx="389.0" cy="78.0" r="0.71" fill="#40ffff"/>
<circle cx="390.7" cy="80.3" r="0.70" fill="#80ff80"/>
<circle cx="388.3" cy="80.2" r="0.96" fill="#40ffff"/>
<circle cx="389.2" cy="80.0" r="0.97" fill="#40ffff"/>
<circle cx="386.9" cy="78.8" r="0.81" fill="#80ff80"/>
<circle cx="406.7" cy="71.7" r="0.94" fill="#80ff80"/>
<circle cx="409.2" cy="74.5" r="0.98" fill="#0080ff"/>
<circle cx="407.4" cy="73.6" r="0.78" fill="#80ff80"/>
<circle cx="407.3" cy="73.3" r="1.11" fill="#80ff80"/>
<circle cx="412.2" cy="69.0" r="0.99" fill="#00c0ff"/>
<circle cx="411.7" cy="74.6" r="0.82" fill="#80ff80"/>
<circle cx="406.4" cy="72.7" r="0.79" fill="#40ffff"/>
<circle cx="413.3" cy="74.7" r="1.20" fill="#00c0ff"/>
<circle cx="412.6" cy="73.7" r="0.98" fill="#40ffff"/>
<circle cx="410.8" cy="72.9" r="1.11" fill="#00c0ff"/>
<circle cx="412.3" cy="79.1" r="1.04" fill="#40ffff"/>
<circle cx="408.4" cy="69.2" r="0.89" fill="#0080ff"/>
<circle cx="408.5" cy="71.6" r="0.95" fill="#0080ff"/>
<circle cx="412.1" cy="71.3" r="0.91" fill="#80ff80"/>
<circle cx="410.4" cy="74.6" r="1.05" fill="#0080ff"/>
<circle cx="408.8" cy="73.9" r="0.99" fill="#0080ff"/>
<circle cx="407.7" cy="68.1" r="0.86" fill="#0080ff"/>
<circle cx="412.1" cy="74.7" r="1.12" fill="#0080ff"/>
<circle cx="412.5" cy="72.2" r="1.06" fill="#00c0ff"/>
<circle cx="409.9" cy="75.7" r="1.24" fill="#0080ff"/>
<circle cx="409.2" cy="80.1" r="1.09" fill="#0080ff"/>
<circle cx="409.4" cy="73.6" r="0.90" fill="#00c0ff"/>
<circle cx="409.1" cy="75.5" r="0.94" fill="#0080ff"/>
<circle cx="409.5" cy="68.8" r="0.89" fill="#0080ff"/>
<circle cx="408.0" cy="71.0" r="1.05" fill="#00c0ff"/>
<circle cx="411.1" cy="74.0" r="1.13" fill="#00c0ff"/>
<circle cx="412.8" cy="73.8" r="0.94" fill="#0080ff"/>
<circle cx="407.5" cy="72.2" r="0.94" fill="#40ffff"/>
<circle cx="410.8" cy="76.0" r="1.03" fill="#40ffff"/>
<circle cx="414.2" cy="73.1" r="1.16" fill="#80ff80"/>
<circle cx="412.3" cy="79.3" r="1.25" fill="#ff0000"/>
<circle cx="408.6" cy="78.7" r="0.78" fill="#ff0000"/>
<circle cx="407.6" cy="76.6" r="1.10" fill="#c0ff40"/>
<circle cx="409.9" cy="81.6" r="0.79" fill="#ffff00"/>
<circle cx="408.6" cy="78.6" r="0.80" fill="#ffff00"/>
<circle cx="412.5" cy="78.1" r="1.29" fill="#ff8000"/>
<circle cx="407.8" cy="79.0" r="1.12" fill="#c0ff40"/>
<circle cx="410.4" cy="76.9" r="0.94" fill="#ff0000"/>
<circle cx="405.2" cy="74.0" r="1.17" fill="#c0ff40"/>
<circle cx="409.8" cy="77.7" r="1.23" fill="#c0ff40"/>
<circle cx="412.5" cy="79.1" r="0.87" fill="#ffff00"/>
<circle cx="409.7" cy="80.4" r="0.84" fill="#ff0000"/>
<circle cx="409.5" cy="76.6" r="1.07" fill="#c0ff40"/>
<circle cx="408.1" cy="74.4" r="1.30" fill="#ff0000"/>
<circle cx="406.5" cy="74.4" r="0.89" fill="#ffff00"/>
<circle cx="412.1" cy="81.2" r="1.23" fill="#ff8000"/>
<circle cx="413.1" cy="76.9" r="0.95" fill="#c0ff40"/>
<circle cx="409.2" cy="79.0" r="1.27" fill="#c0ff40"/>
<circle cx="407.4" cy="78.3" r="0.77" fill="#ffff00"/>
<circle cx="406.8" cy="79.0" r="1.08" fill="#ff0000"/>
<circle cx="410.4" cy="76.2" r="1.09" fill="#ff8000"/>
<circle cx="410.2" cy="78.2" r="0.83" fill="#ff8000"/>
<circle cx="409.2" cy="78.7" r="0.79" fill="#ffff00"/>
<circle cx="411.8" cy="79.8" r="0.79" fill="#ffff00"/>
<circle cx="409.8" cy="77.3" r="1.09" fill="#ff0000"/>
<circle cx="408.4" cy="82.9" r="1.06" fill="#ff0000"/>
<circle cx="409.0" cy="79.3" r="1.16" fill="#e00000"/>
<circle cx="408.0" cy="80.9" r="0.83" fill="#ff0000"/>
<circle cx="410.2" cy="79.8" r="1.18" fill="#ff0000"/>
<circle cx="408.2" cy="79.2" r="0.93" fill="#ff0000"/>
<circle cx="408.9" cy="81.9" r="1.13" fill="#e00000"/>
<circle cx="406.7" cy="81.5" r="0.78" fill="#e00000"/>
<circle cx="407.7" cy="80.4" r="1.19" fill="#e00000"/>
<circle cx="407.5" cy="79.1" r="1.03" fill="#e00000"/>
<circle cx="407.1" cy="80.3" r="1.00" fill="#e00000"/>
<circle cx="406.7" cy="80.4" r="1.03" fill="#ff0000"/>
<circle cx="406.4" cy="80.3" r="1.24" fill="#ff0000"/>
<circle cx="395.4" cy="81.2" r="0.55" fill="#ffa000"/>
<circle cx="403.9" cy="91.4" r="0.71" fill="#ff6060"/>
<circle cx="398.6" cy="85.0" r="0.63" fill="#ff6060"/>
<circle cx="409.5" cy="81.7" r="0.71" fill="#ffa000"/>
<circle cx="399.3" cy="95.4" r="0.51" fill="#ff6060"/>
<circle cx="405.0" cy="81.7" r="0.47" fill="#ffa000"/>
<circle cx="401.3" cy="77.1" r="0.72" fill="#ffa000"/>
<circle cx="402.6" cy="76.0" r="0.53" fill="#40c0ff"/>
<circle cx="413.5" cy="78.3" r="0.64" fill="#40c0ff"/>
<circle cx="401.6" cy="82.3" r="0.48" fill="#40c0ff"/>
<circle cx="392.7" cy="85.9" r="0.47" fill="#ffa000"/>
<circle cx="401.2" cy="88.8" r="0.58" fill="#ffa000"/>
<circle cx="400.6" cy="75.6" r="0.52" fill="#40c0ff"/>
<circle cx="386.7" cy="81.7" r="0.56" fill="#ffa000"/>
<circle cx="400.2" cy="79.9" r="0.55" fill="#40c0ff"/>
<circle cx="397.3" cy="81.8" r="0.56" fill="#ffa000"/>
<circle cx="400.8" cy="86.4" r="0.51" fill="#ffa000"/>
<circle cx="404.8" cy="76.7" r="0.64" fill="#ff6060"/>
<circle cx="398.9" cy="76.2" r="0.52" fill="#ff6060"/>
<circle cx="398.3" cy="86.0" r="0.71" fill="#ffa000"/>
<circle cx="404.6" cy="83.0" r="0.62" fill="#ff6060"/>
<circle cx="385.7" cy="92.9" r="0.66" fill="#ffa000"/>
<circle cx="398.8" cy="87.0" r="0.45" fill="#ff6060"/>
<circle cx="397.7" cy="93.6" r="0.56" fill="#ff6060"/>
<circle cx="390.6" cy="88.5" r="0.63" fill="#ffa000"/>
<polyline points="374.6,32.8 425.4,31.4 434.8,55.5 434.5,73.6 428.0,89.1 406.4,95.5 392.7,95.5" fill="none" stroke="#4040f0" stroke-width="1.2"/>
<polyline points="374.6,32.8 372.0,66.2" fill="none" stroke="#4040f0" stroke-width="1.2"/>
<polygon points="372.0,67.2 403.0,68.4 403.9,77.9 387.5,86.5 373.7,82.7" fill="none" stroke="#4040f0" stroke-width="1.2"/>
<polygon points="378.9,47.3 387.5,49.5 384.1,65.9 372.9,65.0" fill="none" stroke="#4040f0" stroke-width="1.2"/>
<polygon points="388.4,42.1 392.7,38.0 409.9,38.0 417.6,45.2 416.3,64.1" fill="none" stroke="#4040f0" stroke-width="1.2"/>
<polygon points="385.8,60.7 392.7,53.3 405.6,63.3 402.1,65.5 384.9,66.2" fill="none" stroke="#4040f0" stroke-width="1.2"/>
<polygon points="422.8,44.4 432.3,54.7 432.3,68.4 425.4,69.3 421.1,55.5" fill="none" stroke="#4040f0" stroke-width="1.2"/>
<polygon points="404.7,68.4 421.1,66.7 422.8,83.1 409.0,85.7 404.7,77.9" fill="none" stroke="#4040f0" stroke-width="1.2"/>
<polygon points="390.1,88.2 401.3,84.8 406.4,89.1 403.0,94.3 393.5,95.1" fill="none" stroke="#4040f0" stroke-width="1.2"/>
<text x="405.6" y="51.2" font-size="8" text-anchor="middle" fill="#000">C</text>
<text x="380.1" y="59.3" font-size="8" text-anchor="middle" fill="#000">D</text>
<text x="392.7" y="66.2" font-size="8" text-anchor="middle" fill="#000">B</text>
<text x="426.2" y="59.8" font-size="8" text-anchor="middle" fill="#000">E</text>
<text x="411.6" y="77.4" font-size="8" text-anchor="middle" fill="#000">A</text>
<text x="398.7" y="92.0" font-size="8" text-anchor="middle" fill="#000">F</text>
<text x="375.5" y="38.7" font-size="7.6" fill="#222" textLength="16.4" lengthAdjust="spacingAndGlyphs">CD56</text><text x="392.3" y="35.5" font-size="4.6" fill="#222">dim</text>
<text x="375.0" y="78.9" font-size="7.6" fill="#222" textLength="16.4" lengthAdjust="spacingAndGlyphs">CD56</text><text x="391.8" y="75.7" font-size="4.6" fill="#222">bri</text>
<rect x="367.5" y="29.5" width="71.0" height="69.0" fill="none" stroke="#2a2a2a" stroke-width="1"/>
<path d="M364.2 35.5h2.8M364.2 44.5h2.8M364.2 54.5h2.8M364.2 64.5h2.8M364.2 73.5h2.8M364.2 83.5h2.8M364.2 93.5h2.8M371.5 99.0v2.8M376.5 99.0v2.8M381.5 99.0v2.8M387.5 99.0v2.8M392.5 99.0v2.8M397.5 99.0v2.8M402.5 99.0v2.8M408.5 99.0v2.8M413.5 99.0v2.8M418.5 99.0v2.8M423.5 99.0v2.8M429.5 99.0v2.8M434.5 99.0v2.8" stroke="#2a2a2a" stroke-width="1" fill="none"/>
<rect x="441.8" y="30.3" width="5.0" height="68.2" fill="url(#jet)"/>
<text x="453.6" y="33.0" font-size="7.6" class="t">101</text>
<text x="453.6" y="49.9" font-size="7.6" class="t">330</text>
<text x="453.6" y="66.8" font-size="7.6" class="t">107</text>
<text x="453.6" y="83.7" font-size="7.6" class="t">35</text>
<text x="453.6" y="100.6" font-size="7.6" class="t">11</text>
<path d="M446.8 30.5h2.6M446.8 47.5h2.6M446.8 64.5h2.6M446.8 81.5h2.6M446.8 97.5h2.6" stroke="#333" stroke-width="1"/>
<text x="56.9" y="135.9" font-size="7.7" text-anchor="middle" class="t">z: Ki67 (v)</text>
<rect x="32.3" y="138.1" width="49.9" height="2" fill="#6a6a6a"/>
<use href="#Lc" fill="#0712c4" transform="translate(32.6 145.2) scale(0.4930 0.4890)"/>
<circle cx="63.1" cy="174.1" r="0.73" fill="#00c8ff"/><circle cx="63.3" cy="176.9" r="0.93" fill="#ffd000"/><circle cx="61.8" cy="180.1" r="0.79" fill="#40e0ff"/><circle cx="61.4" cy="177.4" r="0.86" fill="#ffff00"/><circle cx="63.1" cy="170.6" r="0.77" fill="#c0ff40"/><circle cx="63.0" cy="172.6" r="0.68" fill="#c0ff40"/><circle cx="63.9" cy="179.6" r="0.69" fill="#ffff00"/><circle cx="63.0" cy="179.0" r="0.80" fill="#40e0ff"/><circle cx="63.3" cy="176.9" r="0.91" fill="#00c8ff"/><circle cx="64.2" cy="179.6" r="0.93" fill="#00ffff"/><circle cx="62.0" cy="175.1" r="0.89" fill="#c0ff40"/><circle cx="61.2" cy="175.1" r="0.89" fill="#00c8ff"/><circle cx="62.2" cy="179.6" r="0.91" fill="#40e0ff"/><circle cx="62.8" cy="176.6" r="0.88" fill="#40e0ff"/><circle cx="62.5" cy="175.0" r="0.59" fill="#00c8ff"/><circle cx="64.6" cy="171.4" r="0.76" fill="#00c8ff"/><circle cx="60.7" cy="176.3" r="0.78" fill="#ffd000"/><circle cx="62.8" cy="176.7" r="0.88" fill="#ffff00"/><circle cx="61.3" cy="176.1" r="0.80" fill="#60ffd0"/><circle cx="61.9" cy="179.1" r="0.63" fill="#ffd000"/><circle cx="54.1" cy="176.6" r="0.74" fill="#60ffd0"/><circle cx="54.5" cy="176.3" r="0.55" fill="#40e0ff"/><circle cx="54.6" cy="175.6" r="0.83" fill="#60ffd0"/>
<polygon points="35.5,171.9 58.0,172.9 57.2,180.9 45.7,185.3 37.0,183.3" fill="none" stroke="#4646e8" stroke-width="1.0"/>
<rect x="32.5" y="145.5" width="49.0" height="49.0" fill="none" stroke="#2a2a2a" stroke-width="1"/>
<path d="M29.2 149.5h2.8M29.2 155.5h2.8M29.2 162.5h2.8M29.2 169.5h2.8M29.2 176.5h2.8M29.2 183.5h2.8M29.2 190.5h2.8M35.5 195.0v2.8M38.5 195.0v2.8M42.5 195.0v2.8M46.5 195.0v2.8M49.5 195.0v2.8M53.5 195.0v2.8M57.5 195.0v2.8M60.5 195.0v2.8M64.5 195.0v2.8M68.5 195.0v2.8M71.5 195.0v2.8M75.5 195.0v2.8M79.5 195.0v2.8" stroke="#2a2a2a" stroke-width="1" fill="none"/>
<rect x="82.7" y="145.2" width="4.6" height="48.9" fill="url(#jet)" stroke="#888" stroke-width="0.6"/>
<rect x="82.3" y="145.2" width="1.3" height="48.9" fill="#808080"/>
<text x="93.7" y="148.0" font-size="7.9" class="t">607</text>
<text x="93.7" y="160.0" font-size="7.9" class="t">154</text>
<text x="93.7" y="172.1" font-size="7.9" class="t">39</text>
<text x="93.7" y="184.2" font-size="7.9" class="t">9</text>
<text x="93.7" y="196.3" font-size="7.9" class="t">0</text>
<path d="M87.3 145.5h2.6M87.3 157.5h2.6M87.3 169.5h2.6M87.3 181.5h2.6M87.3 193.5h2.6" stroke="#333" stroke-width="1"/>
<text x="154.7" y="135.9" font-size="7.7" text-anchor="middle" class="t">z: HLA-DR (v)</text>
<rect x="130.1" y="138.1" width="49.9" height="2" fill="#6a6a6a"/>
<use href="#Lc" fill="#0712c4" transform="translate(130.4 145.2) scale(0.4930 0.4890)"/>
<circle cx="174.8" cy="168.6" r="0.78" fill="#ffc000"/><circle cx="174.8" cy="168.0" r="0.67" fill="#e00000"/><circle cx="172.5" cy="164.9" r="0.51" fill="#e00000"/><circle cx="169.3" cy="167.1" r="0.50" fill="#e00000"/><circle cx="171.9" cy="169.2" r="0.72" fill="#ff0000"/><circle cx="172.7" cy="165.5" r="0.51" fill="#ff0000"/><circle cx="174.1" cy="165.0" r="0.58" fill="#e00000"/><circle cx="171.9" cy="163.4" r="0.78" fill="#e00000"/><circle cx="170.6" cy="165.2" r="0.75" fill="#e00000"/><circle cx="176.6" cy="164.4" r="0.65" fill="#ff0000"/><circle cx="174.7" cy="171.4" r="0.81" fill="#ff0000"/><circle cx="172.1" cy="161.6" r="0.85" fill="#e00000"/><circle cx="157.8" cy="178.2" r="0.64" fill="#ffff00"/><circle cx="158.2" cy="175.8" r="0.90" fill="#ff0000"/><circle cx="158.5" cy="181.4" r="0.75" fill="#ff8000"/><circle cx="159.5" cy="179.2" r="0.78" fill="#ffff00"/><circle cx="161.2" cy="180.3" r="0.60" fill="#80ff80"/><circle cx="159.0" cy="178.1" r="0.76" fill="#00ffff"/><circle cx="159.1" cy="178.9" r="0.90" fill="#ff0000"/><circle cx="159.2" cy="177.1" r="0.63" fill="#ff0000"/><circle cx="160.0" cy="178.8" r="0.64" fill="#ff0000"/><circle cx="160.1" cy="181.4" r="0.94" fill="#ff0000"/><circle cx="158.7" cy="182.7" r="0.82" fill="#ff0000"/><circle cx="160.1" cy="178.4" r="0.87" fill="#ff0000"/><circle cx="160.4" cy="175.7" r="0.78" fill="#ff8000"/><circle cx="161.1" cy="177.6" r="0.71" fill="#ff0000"/><circle cx="160.3" cy="181.2" r="0.75" fill="#ffff00"/><circle cx="159.9" cy="178.5" r="0.78" fill="#ff0000"/><circle cx="159.3" cy="181.3" r="0.88" fill="#80ff80"/><circle cx="159.4" cy="178.0" r="0.60" fill="#ff0000"/><circle cx="160.5" cy="174.1" r="0.66" fill="#00ffff"/><circle cx="160.1" cy="178.7" r="0.57" fill="#ffff00"/><circle cx="151.6" cy="176.0" r="0.73" fill="#800000"/><circle cx="151.5" cy="176.1" r="0.60" fill="#c00000"/><circle cx="151.2" cy="174.3" r="0.61" fill="#800000"/><circle cx="152.3" cy="182.9" r="0.62" fill="#800000"/><circle cx="152.3" cy="183.0" r="0.54" fill="#c00000"/>
<polygon points="133.3,171.9 155.8,172.9 155.1,180.9 143.5,185.3 134.8,183.3" fill="none" stroke="#4646e8" stroke-width="1.0"/>
<rect x="130.5" y="145.5" width="49.0" height="49.0" fill="none" stroke="#2a2a2a" stroke-width="1"/>
<path d="M127.2 149.5h2.8M127.2 155.5h2.8M127.2 162.5h2.8M127.2 169.5h2.8M127.2 176.5h2.8M127.2 183.5h2.8M127.2 190.5h2.8M132.5 195.0v2.8M136.5 195.0v2.8M140.5 195.0v2.8M143.5 195.0v2.8M147.5 195.0v2.8M151.5 195.0v2.8M154.5 195.0v2.8M158.5 195.0v2.8M162.5 195.0v2.8M165.5 195.0v2.8M169.5 195.0v2.8M173.5 195.0v2.8M176.5 195.0v2.8" stroke="#2a2a2a" stroke-width="1" fill="none"/>
<rect x="180.5" y="145.2" width="4.6" height="48.9" fill="url(#jet)" stroke="#888" stroke-width="0.6"/>
<rect x="180.1" y="145.2" width="1.3" height="48.9" fill="#808080"/>
<text x="191.5" y="148.0" font-size="7.9" class="t">2525</text>
<text x="191.5" y="160.0" font-size="7.9" class="t">448</text>
<text x="191.5" y="172.1" font-size="7.9" class="t">79</text>
<text x="191.5" y="184.2" font-size="7.9" class="t">14</text>
<text x="191.5" y="196.3" font-size="7.9" class="t">0</text>
<path d="M185.1 145.5h2.6M185.1 157.5h2.6M185.1 169.5h2.6M185.1 181.5h2.6M185.1 193.5h2.6" stroke="#333" stroke-width="1"/>
<text x="257.7" y="135.9" font-size="7.7" text-anchor="middle" class="t">z: Granzyme (v)</text>
<rect x="233.1" y="138.1" width="49.9" height="2" fill="#6a6a6a"/>
<use href="#Lc" fill="#0712c4" transform="translate(233.4 145.2) scale(0.4930 0.4890)"/>
<circle cx="246.7" cy="161.0" r="0.58" fill="#ff0000"/><circle cx="242.7" cy="162.4" r="0.88" fill="#ffc000"/><circle cx="243.2" cy="162.7" r="0.57" fill="#ff8000"/><circle cx="245.4" cy="161.8" r="0.88" fill="#ffc000"/><circle cx="241.7" cy="161.5" r="0.67" fill="#ff0000"/><circle cx="244.2" cy="161.0" r="0.93" fill="#e00000"/><circle cx="240.5" cy="163.0" r="0.63" fill="#ff8000"/><circle cx="243.3" cy="162.1" r="0.69" fill="#ff8000"/><circle cx="241.9" cy="161.8" r="0.77" fill="#ff8000"/><circle cx="244.9" cy="161.8" r="0.73" fill="#ffc000"/><circle cx="243.6" cy="160.7" r="0.95" fill="#e00000"/><circle cx="244.6" cy="163.6" r="0.85" fill="#e00000"/><circle cx="242.6" cy="161.1" r="0.67" fill="#e00000"/><circle cx="246.3" cy="179.9" r="0.63" fill="#00ffff"/><circle cx="249.1" cy="179.4" r="0.71" fill="#40e0ff"/><circle cx="248.0" cy="179.1" r="0.58" fill="#ffd000"/><circle cx="248.9" cy="178.6" r="0.82" fill="#40e0ff"/><circle cx="247.9" cy="181.5" r="0.62" fill="#60ffd0"/><circle cx="251.5" cy="174.0" r="0.69" fill="#60ffd0"/><circle cx="251.5" cy="174.8" r="0.69" fill="#00ffff"/><circle cx="248.4" cy="164.9" r="0.45" fill="#40e0ff"/><circle cx="248.7" cy="165.7" r="0.63" fill="#00ffff"/><circle cx="248.1" cy="166.4" r="0.73" fill="#00ffff"/>
<polygon points="236.3,171.9 258.8,172.9 258.1,180.9 246.5,185.3 237.8,183.3" fill="none" stroke="#4646e8" stroke-width="1.0"/>
<rect x="233.5" y="145.5" width="49.0" height="49.0" fill="none" stroke="#2a2a2a" stroke-width="1"/>
<path d="M230.2 149.5h2.8M230.2 155.5h2.8M230.2 162.5h2.8M230.2 169.5h2.8M230.2 176.5h2.8M230.2 183.5h2.8M230.2 190.5h2.8M235.5 195.0v2.8M239.5 195.0v2.8M243.5 195.0v2.8M246.5 195.0v2.8M250.5 195.0v2.8M254.5 195.0v2.8M257.5 195.0v2.8M261.5 195.0v2.8M265.5 195.0v2.8M268.5 195.0v2.8M272.5 195.0v2.8M276.5 195.0v2.8M279.5 195.0v2.8" stroke="#2a2a2a" stroke-width="1" fill="none"/>
<rect x="283.5" y="145.2" width="4.6" height="48.9" fill="url(#jet)" stroke="#888" stroke-width="0.6"/>
<rect x="283.1" y="145.2" width="1.3" height="48.9" fill="#808080"/>
<text x="294.5" y="148.0" font-size="7.9" class="t">1476</text>
<text x="294.5" y="160.0" font-size="7.9" class="t">299</text>
<text x="294.5" y="172.1" font-size="7.9" class="t">61</text>
<text x="294.5" y="184.2" font-size="7.9" class="t">12</text>
<text x="294.5" y="196.3" font-size="7.9" class="t">0</text>
<path d="M288.1 145.5h2.6M288.1 157.5h2.6M288.1 169.5h2.6M288.1 181.5h2.6M288.1 193.5h2.6" stroke="#333" stroke-width="1"/>
<text x="360.6" y="135.9" font-size="7.7" text-anchor="middle" class="t">z: Perforin (v)</text>
<rect x="336.0" y="138.1" width="49.9" height="2" fill="#6a6a6a"/>
<use href="#Lc" fill="#0712c4" transform="translate(336.3 145.2) scale(0.4930 0.4890)"/>
<circle cx="346.3" cy="162.6" r="0.64" fill="#40e0ff"/><circle cx="344.6" cy="161.5" r="0.72" fill="#60ffd0"/><circle cx="344.6" cy="161.6" r="0.57" fill="#00c8ff"/><circle cx="343.9" cy="161.7" r="0.68" fill="#00c8ff"/><circle cx="346.7" cy="160.8" r="0.56" fill="#40e0ff"/><circle cx="346.0" cy="161.4" r="0.78" fill="#c0ff40"/><circle cx="346.2" cy="160.0" r="0.61" fill="#ffff00"/><circle cx="346.6" cy="160.6" r="0.72" fill="#00ffff"/><circle cx="350.6" cy="178.3" r="0.72" fill="#60ffd0"/><circle cx="351.6" cy="179.8" r="0.71" fill="#ff0000"/><circle cx="351.5" cy="180.3" r="0.95" fill="#00c8ff"/><circle cx="351.4" cy="178.5" r="0.73" fill="#00c8ff"/><circle cx="350.0" cy="179.5" r="0.72" fill="#e00000"/><circle cx="352.3" cy="179.3" r="0.93" fill="#00ffff"/>
<polygon points="339.2,171.9 361.7,172.9 360.9,180.9 349.4,185.3 340.7,183.3" fill="none" stroke="#4646e8" stroke-width="1.0"/>
<rect x="336.5" y="145.5" width="49.0" height="49.0" fill="none" stroke="#2a2a2a" stroke-width="1"/>
<path d="M333.2 149.5h2.8M333.2 155.5h2.8M333.2 162.5h2.8M333.2 169.5h2.8M333.2 176.5h2.8M333.2 183.5h2.8M333.2 190.5h2.8M338.5 195.0v2.8M342.5 195.0v2.8M346.5 195.0v2.8M349.5 195.0v2.8M353.5 195.0v2.8M357.5 195.0v2.8M360.5 195.0v2.8M364.5 195.0v2.8M368.5 195.0v2.8M371.5 195.0v2.8M375.5 195.0v2.8M379.5 195.0v2.8M382.5 195.0v2.8" stroke="#2a2a2a" stroke-width="1" fill="none"/>
<rect x="386.4" y="145.2" width="4.6" height="48.9" fill="url(#jet)" stroke="#888" stroke-width="0.6"/>
<rect x="386.0" y="145.2" width="1.3" height="48.9" fill="#808080"/>
<text x="397.4" y="148.0" font-size="7.9" class="t">1967</text>
<text x="397.4" y="160.0" font-size="7.9" class="t">371</text>
<text x="397.4" y="172.1" font-size="7.9" class="t">70</text>
<text x="397.4" y="184.2" font-size="7.9" class="t">13</text>
<text x="397.4" y="196.3" font-size="7.9" class="t">0</text>
<path d="M391.0 145.5h2.6M391.0 157.5h2.6M391.0 169.5h2.6M391.0 181.5h2.6M391.0 193.5h2.6" stroke="#333" stroke-width="1"/>
<text x="461.9" y="135.9" font-size="7.7" text-anchor="middle" class="t">z: CD366TIM...</text>
<rect x="437.3" y="138.1" width="49.9" height="2" fill="#6a6a6a"/>
<use href="#Lc" fill="#0712c4" transform="translate(437.6 145.2) scale(0.4930 0.4890)"/>
<circle cx="458.8" cy="174.9" r="0.57" fill="#c0ff40"/><circle cx="458.9" cy="174.6" r="0.62" fill="#ffd000"/><circle cx="459.1" cy="173.4" r="0.52" fill="#40e0ff"/><circle cx="466.4" cy="181.7" r="0.71" fill="#00c8ff"/><circle cx="467.6" cy="182.6" r="0.71" fill="#00c8ff"/><circle cx="467.3" cy="179.8" r="0.55" fill="#00c8ff"/>
<polygon points="440.5,171.9 463.0,172.9 462.2,180.9 450.7,185.3 442.0,183.3" fill="none" stroke="#4646e8" stroke-width="1.0"/>
<rect x="437.5" y="145.5" width="49.0" height="49.0" fill="none" stroke="#2a2a2a" stroke-width="1"/>
<path d="M434.2 149.5h2.8M434.2 155.5h2.8M434.2 162.5h2.8M434.2 169.5h2.8M434.2 176.5h2.8M434.2 183.5h2.8M434.2 190.5h2.8M440.5 195.0v2.8M443.5 195.0v2.8M447.5 195.0v2.8M451.5 195.0v2.8M454.5 195.0v2.8M458.5 195.0v2.8M462.5 195.0v2.8M465.5 195.0v2.8M469.5 195.0v2.8M473.5 195.0v2.8M476.5 195.0v2.8M480.5 195.0v2.8M484.5 195.0v2.8" stroke="#2a2a2a" stroke-width="1" fill="none"/>
<rect x="487.7" y="145.2" width="4.6" height="48.9" fill="url(#jet)" stroke="#888" stroke-width="0.6"/>
<rect x="487.3" y="145.2" width="1.3" height="48.9" fill="#808080"/>
<text x="498.7" y="148.0" font-size="7.9" class="t">19.7</text>
<text x="498.7" y="160.0" font-size="7.9" class="t">11.4</text>
<text x="498.7" y="172.1" font-size="7.9" class="t">6.2</text>
<text x="498.7" y="184.2" font-size="7.9" class="t">2.7</text>
<text x="498.7" y="196.3" font-size="7.9" class="t">0</text>
<path d="M492.3 145.5h2.6M492.3 157.5h2.6M492.3 169.5h2.6M492.3 181.5h2.6M492.3 193.5h2.6" stroke="#333" stroke-width="1"/>
<use href="#Ln" fill="#0712c4" transform="translate(32.6 206.2) scale(0.4930 0.4890)"/>
<circle cx="61.8" cy="235.4" r="0.79" fill="#e00000"/><circle cx="61.3" cy="237.2" r="0.67" fill="#ffc000"/><circle cx="68.0" cy="237.1" r="0.59" fill="#40e0ff"/><circle cx="70.3" cy="237.9" r="0.80" fill="#00c8ff"/><circle cx="59.8" cy="238.7" r="0.66" fill="#ffc000"/><circle cx="62.9" cy="233.2" r="0.61" fill="#e00000"/><circle cx="68.6" cy="235.9" r="0.58" fill="#ff0000"/><circle cx="64.8" cy="238.1" r="0.92" fill="#40e0ff"/><circle cx="64.9" cy="234.7" r="0.83" fill="#60ffd0"/><circle cx="63.6" cy="236.9" r="0.79" fill="#ffc000"/><circle cx="68.9" cy="231.1" r="0.66" fill="#ff0000"/><circle cx="59.2" cy="236.6" r="0.82" fill="#ff8000"/><circle cx="66.9" cy="239.1" r="0.71" fill="#ffc000"/><circle cx="68.5" cy="239.3" r="0.60" fill="#ffc000"/><circle cx="66.6" cy="236.3" r="0.70" fill="#00c8ff"/><circle cx="60.4" cy="237.8" r="0.62" fill="#ffc000"/><circle cx="66.2" cy="235.1" r="0.68" fill="#ffc000"/><circle cx="65.2" cy="233.8" r="0.70" fill="#00c8ff"/><circle cx="65.3" cy="239.5" r="0.58" fill="#40e0ff"/><circle cx="64.8" cy="238.4" r="0.72" fill="#ffc000"/><circle cx="60.0" cy="239.6" r="0.83" fill="#e00000"/><circle cx="63.9" cy="228.9" r="0.67" fill="#60ffd0"/><circle cx="63.8" cy="236.0" r="0.76" fill="#60ffd0"/><circle cx="57.3" cy="245.7" r="0.78" fill="#ffff00"/><circle cx="53.5" cy="245.8" r="0.63" fill="#ff8000"/><circle cx="61.7" cy="249.4" r="0.89" fill="#00ffff"/><circle cx="55.4" cy="246.6" r="0.70" fill="#80ff80"/><circle cx="58.4" cy="247.7" r="0.96" fill="#ff8000"/><circle cx="59.4" cy="249.3" r="0.87" fill="#ff8000"/><circle cx="55.2" cy="247.6" r="0.88" fill="#ff8000"/><circle cx="53.1" cy="247.6" r="0.92" fill="#80ff80"/><circle cx="56.1" cy="244.6" r="0.57" fill="#80ff80"/><circle cx="54.2" cy="244.3" r="0.89" fill="#ff8000"/><circle cx="57.5" cy="246.4" r="0.68" fill="#80ff80"/><circle cx="55.2" cy="242.3" r="0.58" fill="#ff0000"/><circle cx="56.9" cy="241.3" r="0.95" fill="#ffff00"/><circle cx="57.7" cy="248.2" r="0.70" fill="#ff8000"/><circle cx="57.7" cy="245.7" r="0.70" fill="#00ffff"/><circle cx="54.1" cy="245.2" r="0.95" fill="#ffff00"/>
<polygon points="35.7,234.1 58.1,235.4 46.6,247.8 36.8,245.3" fill="none" stroke="#4646e8" stroke-width="1.0"/>
<rect x="32.5" y="206.5" width="49.0" height="49.0" fill="none" stroke="#2a2a2a" stroke-width="1"/>
<path d="M29.2 210.5h2.8M29.2 216.5h2.8M29.2 223.5h2.8M29.2 230.5h2.8M29.2 237.5h2.8M29.2 244.5h2.8M29.2 251.5h2.8M35.5 256.0v2.8M38.5 256.0v2.8M42.5 256.0v2.8M46.5 256.0v2.8M49.5 256.0v2.8M53.5 256.0v2.8M57.5 256.0v2.8M60.5 256.0v2.8M64.5 256.0v2.8M68.5 256.0v2.8M71.5 256.0v2.8M75.5 256.0v2.8M79.5 256.0v2.8" stroke="#2a2a2a" stroke-width="1" fill="none"/>
<rect x="82.7" y="206.2" width="4.6" height="48.9" fill="url(#jet)" stroke="#888" stroke-width="0.6"/>
<rect x="82.3" y="206.2" width="1.3" height="48.9" fill="#808080"/>
<text x="93.7" y="209.0" font-size="7.9" class="t">607</text>
<text x="93.7" y="221.0" font-size="7.9" class="t">154</text>
<text x="93.7" y="233.1" font-size="7.9" class="t">39</text>
<text x="93.7" y="245.2" font-size="7.9" class="t">9</text>
<text x="93.7" y="257.3" font-size="7.9" class="t">0</text>
<path d="M87.3 206.5h2.6M87.3 218.5h2.6M87.3 230.5h2.6M87.3 242.5h2.6M87.3 254.5h2.6" stroke="#333" stroke-width="1"/>
<use href="#Ln" fill="#0712c4" transform="translate(130.4 206.2) scale(0.4930 0.4890)"/>
<circle cx="137.6" cy="228.9" r="0.93" fill="#60ffd0"/><circle cx="135.7" cy="229.4" r="0.64" fill="#60ffd0"/><circle cx="137.6" cy="225.7" r="0.60" fill="#00c8ff"/><circle cx="143.6" cy="230.1" r="0.92" fill="#00ffff"/><circle cx="138.8" cy="227.1" r="0.74" fill="#40e0ff"/><circle cx="137.3" cy="225.6" r="0.59" fill="#00ffff"/><circle cx="142.1" cy="229.6" r="0.57" fill="#60ffd0"/><circle cx="139.4" cy="230.5" r="0.64" fill="#40e0ff"/><circle cx="139.0" cy="226.4" r="0.82" fill="#60ffd0"/><circle cx="139.5" cy="226.6" r="0.78" fill="#00ffff"/><circle cx="140.6" cy="226.6" r="0.65" fill="#00c8ff"/><circle cx="145.0" cy="228.7" r="0.60" fill="#00ffff"/><circle cx="142.9" cy="226.6" r="0.94" fill="#00ffff"/><circle cx="142.8" cy="232.6" r="0.58" fill="#60ffd0"/><circle cx="144.2" cy="228.0" r="0.59" fill="#40e0ff"/><circle cx="141.7" cy="226.7" r="0.59" fill="#00c8ff"/><circle cx="144.3" cy="228.4" r="0.93" fill="#40e0ff"/><circle cx="141.3" cy="229.1" r="0.58" fill="#60ffd0"/><circle cx="142.9" cy="230.5" r="0.74" fill="#40e0ff"/><circle cx="146.3" cy="227.9" r="0.73" fill="#60ffd0"/><circle cx="143.5" cy="229.6" r="0.65" fill="#00c8ff"/><circle cx="146.5" cy="224.2" r="0.80" fill="#00ffff"/><circle cx="142.0" cy="230.1" r="0.90" fill="#00ffff"/><circle cx="142.9" cy="228.5" r="0.74" fill="#00ffff"/><circle cx="141.6" cy="226.5" r="0.68" fill="#00ffff"/><circle cx="143.1" cy="228.8" r="0.81" fill="#00ffff"/><circle cx="139.3" cy="237.6" r="0.74" fill="#60ffd0"/><circle cx="141.9" cy="237.8" r="0.71" fill="#40e0ff"/><circle cx="140.6" cy="239.5" r="0.80" fill="#40e0ff"/><circle cx="143.1" cy="240.2" r="0.78" fill="#60ffd0"/><circle cx="143.7" cy="237.1" r="0.73" fill="#00ffff"/><circle cx="143.5" cy="239.6" r="0.66" fill="#60ffd0"/><circle cx="141.0" cy="241.2" r="0.80" fill="#00c8ff"/><circle cx="135.6" cy="238.0" r="0.95" fill="#40e0ff"/><circle cx="141.7" cy="240.3" r="0.90" fill="#00ffff"/><circle cx="140.2" cy="241.7" r="0.64" fill="#00ffff"/><circle cx="143.5" cy="239.1" r="0.66" fill="#00ffff"/><circle cx="142.3" cy="239.7" r="0.79" fill="#40e0ff"/><circle cx="142.4" cy="238.9" r="0.74" fill="#00c8ff"/><circle cx="139.2" cy="236.6" r="0.79" fill="#40e0ff"/><circle cx="136.5" cy="236.7" r="0.75" fill="#00c8ff"/><circle cx="139.3" cy="234.9" r="0.57" fill="#00ffff"/><circle cx="169.1" cy="227.2" r="0.62" fill="#ff0000"/><circle cx="174.5" cy="228.1" r="0.77" fill="#ff8000"/><circle cx="173.5" cy="221.5" r="0.63" fill="#e00000"/><circle cx="175.5" cy="223.8" r="0.65" fill="#ff0000"/><circle cx="174.0" cy="224.3" r="0.73" fill="#e00000"/><circle cx="172.1" cy="227.0" r="0.53" fill="#ff0000"/><circle cx="168.3" cy="220.8" r="0.82" fill="#ffc000"/><circle cx="169.8" cy="229.3" r="0.71" fill="#e00000"/><circle cx="169.9" cy="227.4" r="0.69" fill="#ff0000"/><circle cx="172.0" cy="227.7" r="0.51" fill="#ff0000"/><circle cx="149.9" cy="247.3" r="0.84" fill="#ffff00"/><circle cx="154.1" cy="246.4" r="0.56" fill="#ff0000"/><circle cx="152.9" cy="248.1" r="0.83" fill="#ff8000"/><circle cx="151.1" cy="247.3" r="0.65" fill="#ffff00"/><circle cx="153.3" cy="248.8" r="0.79" fill="#80ff80"/><circle cx="154.0" cy="246.3" r="0.71" fill="#ffff00"/><circle cx="152.8" cy="248.0" r="0.63" fill="#00ffff"/><circle cx="151.4" cy="243.8" r="0.60" fill="#80ff80"/>
<polygon points="133.5,234.1 155.9,235.4 144.4,247.8 134.6,245.3" fill="none" stroke="#4646e8" stroke-width="1.0"/>
<rect x="130.5" y="206.5" width="49.0" height="49.0" fill="none" stroke="#2a2a2a" stroke-width="1"/>
<path d="M127.2 210.5h2.8M127.2 216.5h2.8M127.2 223.5h2.8M127.2 230.5h2.8M127.2 237.5h2.8M127.2 244.5h2.8M127.2 251.5h2.8M132.5 256.0v2.8M136.5 256.0v2.8M140.5 256.0v2.8M143.5 256.0v2.8M147.5 256.0v2.8M151.5 256.0v2.8M154.5 256.0v2.8M158.5 256.0v2.8M162.5 256.0v2.8M165.5 256.0v2.8M169.5 256.0v2.8M173.5 256.0v2.8M176.5 256.0v2.8" stroke="#2a2a2a" stroke-width="1" fill="none"/>
<rect x="180.5" y="206.2" width="4.6" height="48.9" fill="url(#jet)" stroke="#888" stroke-width="0.6"/>
<rect x="180.1" y="206.2" width="1.3" height="48.9" fill="#808080"/>
<text x="191.5" y="209.0" font-size="7.9" class="t">2525</text>
<text x="191.5" y="221.0" font-size="7.9" class="t">448</text>
<text x="191.5" y="233.1" font-size="7.9" class="t">79</text>
<text x="191.5" y="245.2" font-size="7.9" class="t">14</text>
<text x="191.5" y="257.3" font-size="7.9" class="t">0</text>
<path d="M185.1 206.5h2.6M185.1 218.5h2.6M185.1 230.5h2.6M185.1 242.5h2.6M185.1 254.5h2.6" stroke="#333" stroke-width="1"/>
<use href="#Ln" fill="#0c2cd0" transform="translate(233.4 206.2) scale(0.4930 0.4890)"/>
<circle cx="239.0" cy="228.3" r="0.83" fill="#ff8000"/><circle cx="235.9" cy="233.3" r="0.75" fill="#e00000"/><circle cx="241.8" cy="224.6" r="0.78" fill="#ff8000"/><circle cx="246.1" cy="227.4" r="0.70" fill="#ff8000"/><circle cx="248.4" cy="229.3" r="0.59" fill="#ffc000"/><circle cx="241.1" cy="223.7" r="0.59" fill="#ff0000"/><circle cx="245.1" cy="224.5" r="0.65" fill="#e00000"/><circle cx="244.6" cy="227.3" r="0.73" fill="#ff8000"/><circle cx="237.3" cy="226.5" r="0.78" fill="#ff0000"/><circle cx="239.9" cy="226.7" r="0.59" fill="#e00000"/><circle cx="241.6" cy="225.3" r="0.80" fill="#ff0000"/><circle cx="242.5" cy="226.9" r="0.64" fill="#ffc000"/><circle cx="241.5" cy="229.5" r="0.84" fill="#ffc000"/><circle cx="244.9" cy="228.9" r="0.71" fill="#ff8000"/><circle cx="248.7" cy="228.5" r="0.73" fill="#ff0000"/><circle cx="243.8" cy="230.3" r="0.72" fill="#ff0000"/><circle cx="243.3" cy="226.0" r="0.59" fill="#ffc000"/><circle cx="245.6" cy="228.2" r="0.70" fill="#ff0000"/><circle cx="240.4" cy="227.5" r="0.70" fill="#e00000"/><circle cx="235.9" cy="228.6" r="0.75" fill="#ff8000"/><circle cx="239.6" cy="228.4" r="0.63" fill="#ff8000"/><circle cx="243.6" cy="227.6" r="0.67" fill="#ffc000"/><circle cx="245.5" cy="231.6" r="0.76" fill="#ff8000"/><circle cx="237.0" cy="222.9" r="0.96" fill="#ff8000"/><circle cx="245.8" cy="228.0" r="0.87" fill="#ffc000"/><circle cx="241.9" cy="226.4" r="0.77" fill="#e00000"/><circle cx="240.5" cy="227.9" r="0.83" fill="#e00000"/><circle cx="244.6" cy="226.8" r="0.68" fill="#ff0000"/><circle cx="242.0" cy="233.5" r="0.77" fill="#e00000"/><circle cx="242.7" cy="226.1" r="0.67" fill="#ffc000"/><circle cx="243.5" cy="227.8" r="0.57" fill="#ffc000"/><circle cx="241.3" cy="228.6" r="0.73" fill="#ff0000"/><circle cx="241.0" cy="237.4" r="0.93" fill="#800000"/><circle cx="244.4" cy="236.7" r="0.80" fill="#ff3000"/><circle cx="245.0" cy="236.4" r="0.70" fill="#800000"/><circle cx="242.7" cy="237.1" r="0.62" fill="#c00000"/><circle cx="247.9" cy="236.7" r="0.92" fill="#ff3000"/><circle cx="240.0" cy="237.5" r="0.71" fill="#ff0000"/><circle cx="243.9" cy="237.2" r="0.67" fill="#ff3000"/><circle cx="243.3" cy="237.5" r="0.77" fill="#ff3000"/><circle cx="243.4" cy="237.8" r="0.70" fill="#ff0000"/><circle cx="243.7" cy="237.4" r="0.60" fill="#800000"/><circle cx="243.7" cy="238.7" r="0.83" fill="#ff3000"/><circle cx="243.8" cy="238.2" r="0.76" fill="#ff3000"/><circle cx="243.4" cy="238.0" r="0.80" fill="#ff3000"/><circle cx="244.4" cy="239.1" r="0.94" fill="#ff0000"/><circle cx="246.5" cy="237.7" r="0.90" fill="#ff3000"/><circle cx="243.4" cy="239.4" r="0.62" fill="#800000"/><circle cx="245.7" cy="239.1" r="0.80" fill="#c00000"/><circle cx="240.1" cy="238.5" r="0.58" fill="#c00000"/><circle cx="241.1" cy="239.0" r="0.88" fill="#ff3000"/><circle cx="240.8" cy="235.2" r="0.78" fill="#800000"/><circle cx="247.2" cy="222.2" r="0.62" fill="#ff3000"/><circle cx="249.3" cy="220.0" r="0.57" fill="#ff3000"/><circle cx="248.4" cy="222.1" r="0.59" fill="#ff0000"/><circle cx="254.7" cy="227.8" r="0.65" fill="#00c8ff"/><circle cx="254.9" cy="222.9" r="0.82" fill="#40e0ff"/><circle cx="257.2" cy="228.0" r="0.73" fill="#60ffd0"/><circle cx="254.2" cy="218.5" r="0.64" fill="#00ffff"/><circle cx="255.8" cy="223.2" r="0.65" fill="#00ffff"/><circle cx="248.7" cy="226.3" r="0.80" fill="#00a0ff"/><circle cx="259.3" cy="228.7" r="0.60" fill="#30b0ff"/><circle cx="256.8" cy="225.5" r="0.80" fill="#60ffd0"/><circle cx="257.7" cy="218.0" r="0.86" fill="#30b0ff"/><circle cx="259.1" cy="216.2" r="0.62" fill="#60ffd0"/><circle cx="260.0" cy="235.5" r="0.51" fill="#30b0ff"/><circle cx="265.0" cy="228.1" r="0.57" fill="#00a0ff"/><circle cx="257.3" cy="221.8" r="0.57" fill="#00a0ff"/><circle cx="258.8" cy="219.7" r="0.51" fill="#0070ff"/><circle cx="255.0" cy="230.1" r="0.58" fill="#0070ff"/><circle cx="252.4" cy="224.5" r="0.79" fill="#40e0ff"/><circle cx="254.8" cy="226.1" r="0.63" fill="#60ffd0"/><circle cx="254.9" cy="229.0" r="0.69" fill="#00c8ff"/><circle cx="258.5" cy="224.9" r="0.56" fill="#60ffd0"/><circle cx="261.8" cy="219.9" r="0.85" fill="#00c8ff"/><circle cx="259.5" cy="219.8" r="0.85" fill="#30b0ff"/><circle cx="258.2" cy="216.4" r="0.55" fill="#0070ff"/><circle cx="258.5" cy="230.9" r="0.79" fill="#60ffd0"/><circle cx="261.0" cy="226.0" r="0.54" fill="#00c8ff"/><circle cx="249.8" cy="221.4" r="0.77" fill="#00c8ff"/><circle cx="257.9" cy="213.8" r="0.51" fill="#00a0ff"/><circle cx="259.2" cy="238.1" r="0.65" fill="#60ffd0"/><circle cx="263.1" cy="237.9" r="0.62" fill="#00c8ff"/><circle cx="263.7" cy="238.1" r="0.66" fill="#00c8ff"/><circle cx="269.9" cy="238.3" r="0.69" fill="#00c8ff"/><circle cx="263.8" cy="241.4" r="0.60" fill="#40e0ff"/><circle cx="262.8" cy="240.1" r="0.52" fill="#60ffd0"/><circle cx="260.9" cy="241.3" r="0.58" fill="#00c8ff"/><circle cx="261.7" cy="242.5" r="0.72" fill="#60ffd0"/><circle cx="260.1" cy="244.7" r="0.65" fill="#00c8ff"/><circle cx="265.1" cy="241.3" r="0.53" fill="#40e0ff"/>
<polygon points="236.5,234.1 258.9,235.4 247.4,247.8 237.6,245.3" fill="none" stroke="#4646e8" stroke-width="1.0"/>
<rect x="233.5" y="206.5" width="49.0" height="49.0" fill="none" stroke="#2a2a2a" stroke-width="1"/>
<path d="M230.2 210.5h2.8M230.2 216.5h2.8M230.2 223.5h2.8M230.2 230.5h2.8M230.2 237.5h2.8M230.2 244.5h2.8M230.2 251.5h2.8M235.5 256.0v2.8M239.5 256.0v2.8M243.5 256.0v2.8M246.5 256.0v2.8M250.5 256.0v2.8M254.5 256.0v2.8M257.5 256.0v2.8M261.5 256.0v2.8M265.5 256.0v2.8M268.5 256.0v2.8M272.5 256.0v2.8M276.5 256.0v2.8M279.5 256.0v2.8" stroke="#2a2a2a" stroke-width="1" fill="none"/>
<rect x="283.5" y="206.2" width="4.6" height="48.9" fill="url(#jet)" stroke="#888" stroke-width="0.6"/>
<rect x="283.1" y="206.2" width="1.3" height="48.9" fill="#808080"/>
<text x="294.5" y="209.0" font-size="7.9" class="t">1476</text>
<text x="294.5" y="221.0" font-size="7.9" class="t">299</text>
<text x="294.5" y="233.1" font-size="7.9" class="t">61</text>
<text x="294.5" y="245.2" font-size="7.9" class="t">12</text>
<text x="294.5" y="257.3" font-size="7.9" class="t">0</text>
<path d="M288.1 206.5h2.6M288.1 218.5h2.6M288.1 230.5h2.6M288.1 242.5h2.6M288.1 254.5h2.6" stroke="#333" stroke-width="1"/>
<use href="#Ln" fill="#0712c4" transform="translate(336.3 206.2) scale(0.4930 0.4890)"/>
<circle cx="345.0" cy="229.7" r="0.83" fill="#ffc000"/><circle cx="343.1" cy="224.4" r="0.91" fill="#60ffd0"/><circle cx="345.0" cy="225.7" r="0.77" fill="#e00000"/><circle cx="345.2" cy="226.3" r="0.61" fill="#60ffd0"/><circle cx="344.8" cy="226.5" r="0.67" fill="#ffc000"/><circle cx="348.9" cy="228.5" r="0.92" fill="#ffff00"/><circle cx="347.1" cy="223.9" r="0.94" fill="#ffff00"/><circle cx="344.1" cy="227.9" r="0.92" fill="#40e0ff"/><circle cx="342.8" cy="225.9" r="0.71" fill="#ffd000"/><circle cx="342.9" cy="224.6" r="0.70" fill="#00c8ff"/><circle cx="347.3" cy="221.3" r="0.84" fill="#40e0ff"/><circle cx="339.6" cy="223.0" r="0.74" fill="#00ffff"/><circle cx="343.2" cy="226.4" r="0.63" fill="#c0ff40"/><circle cx="345.1" cy="228.9" r="0.80" fill="#ffd000"/><circle cx="347.7" cy="225.1" r="0.78" fill="#00c8ff"/><circle cx="345.3" cy="228.0" r="0.71" fill="#ff8000"/><circle cx="342.0" cy="227.9" r="0.75" fill="#ff0000"/><circle cx="344.1" cy="222.3" r="0.58" fill="#ffc000"/><circle cx="341.4" cy="226.8" r="0.74" fill="#ffff00"/><circle cx="346.5" cy="228.4" r="0.91" fill="#c0ff40"/><circle cx="348.6" cy="240.3" r="0.71" fill="#c00000"/><circle cx="350.3" cy="236.9" r="0.66" fill="#ff3000"/><circle cx="348.0" cy="239.6" r="0.79" fill="#ff0000"/><circle cx="344.6" cy="239.5" r="0.70" fill="#800000"/><circle cx="348.7" cy="240.0" r="0.78" fill="#c00000"/><circle cx="348.4" cy="239.1" r="0.80" fill="#ff0000"/><circle cx="351.7" cy="237.6" r="0.82" fill="#ff0000"/><circle cx="348.6" cy="238.7" r="0.72" fill="#800000"/><circle cx="343.6" cy="237.2" r="0.94" fill="#800000"/><circle cx="347.5" cy="237.7" r="0.69" fill="#c00000"/><circle cx="340.6" cy="238.1" r="0.77" fill="#ff3000"/><circle cx="347.4" cy="238.8" r="0.88" fill="#ff3000"/><circle cx="341.7" cy="238.0" r="0.86" fill="#800000"/><circle cx="343.0" cy="239.0" r="0.65" fill="#ff3000"/><circle cx="345.2" cy="237.4" r="0.66" fill="#800000"/><circle cx="344.0" cy="238.8" r="0.73" fill="#800000"/><circle cx="346.3" cy="238.3" r="0.86" fill="#ff0000"/><circle cx="345.9" cy="237.1" r="0.74" fill="#ff3000"/><circle cx="346.1" cy="238.9" r="0.73" fill="#c00000"/><circle cx="347.6" cy="238.3" r="0.71" fill="#c00000"/><circle cx="351.3" cy="221.7" r="0.64" fill="#ff0000"/><circle cx="350.8" cy="221.2" r="0.68" fill="#e00000"/><circle cx="352.3" cy="221.2" r="0.55" fill="#ff0000"/>
<polygon points="339.4,234.1 361.8,235.4 350.3,247.8 340.5,245.3" fill="none" stroke="#4646e8" stroke-width="1.0"/>
<rect x="336.5" y="206.5" width="49.0" height="49.0" fill="none" stroke="#2a2a2a" stroke-width="1"/>
<path d="M333.2 210.5h2.8M333.2 216.5h2.8M333.2 223.5h2.8M333.2 230.5h2.8M333.2 237.5h2.8M333.2 244.5h2.8M333.2 251.5h2.8M338.5 256.0v2.8M342.5 256.0v2.8M346.5 256.0v2.8M349.5 256.0v2.8M353.5 256.0v2.8M357.5 256.0v2.8M360.5 256.0v2.8M364.5 256.0v2.8M368.5 256.0v2.8M371.5 256.0v2.8M375.5 256.0v2.8M379.5 256.0v2.8M382.5 256.0v2.8" stroke="#2a2a2a" stroke-width="1" fill="none"/>
<rect x="386.4" y="206.2" width="4.6" height="48.9" fill="url(#jet)" stroke="#888" stroke-width="0.6"/>
<rect x="386.0" y="206.2" width="1.3" height="48.9" fill="#808080"/>
<text x="397.4" y="209.0" font-size="7.9" class="t">1967</text>
<text x="397.4" y="221.0" font-size="7.9" class="t">371</text>
<text x="397.4" y="233.1" font-size="7.9" class="t">70</text>
<text x="397.4" y="245.2" font-size="7.9" class="t">13</text>
<text x="397.4" y="257.3" font-size="7.9" class="t">0</text>
<path d="M391.0 206.5h2.6M391.0 218.5h2.6M391.0 230.5h2.6M391.0 242.5h2.6M391.0 254.5h2.6" stroke="#333" stroke-width="1"/>
<use href="#Ln" fill="#0712c4" transform="translate(437.6 206.2) scale(0.4930 0.4890)"/>

<polygon points="440.7,234.1 463.1,235.4 451.6,247.8 441.8,245.3" fill="none" stroke="#4646e8" stroke-width="1.0"/>
<rect x="437.5" y="206.5" width="49.0" height="49.0" fill="none" stroke="#2a2a2a" stroke-width="1"/>
<path d="M434.2 210.5h2.8M434.2 216.5h2.8M434.2 223.5h2.8M434.2 230.5h2.8M434.2 237.5h2.8M434.2 244.5h2.8M434.2 251.5h2.8M440.5 256.0v2.8M443.5 256.0v2.8M447.5 256.0v2.8M451.5 256.0v2.8M454.5 256.0v2.8M458.5 256.0v2.8M462.5 256.0v2.8M465.5 256.0v2.8M469.5 256.0v2.8M473.5 256.0v2.8M476.5 256.0v2.8M480.5 256.0v2.8M484.5 256.0v2.8" stroke="#2a2a2a" stroke-width="1" fill="none"/>
<rect x="487.7" y="206.2" width="4.6" height="48.9" fill="url(#jet)" stroke="#888" stroke-width="0.6"/>
<rect x="487.3" y="206.2" width="1.3" height="48.9" fill="#808080"/>
<text x="498.7" y="209.0" font-size="7.9" class="t">19.7</text>
<text x="498.7" y="221.0" font-size="7.9" class="t">11.4</text>
<text x="498.7" y="233.1" font-size="7.9" class="t">6.2</text>
<text x="498.7" y="245.2" font-size="7.9" class="t">2.7</text>
<text x="498.7" y="257.3" font-size="7.9" class="t">0</text>
<path d="M492.3 206.5h2.6M492.3 218.5h2.6M492.3 230.5h2.6M492.3 242.5h2.6M492.3 254.5h2.6" stroke="#333" stroke-width="1"/>
<text x="56.9" y="280.0" font-size="7.7" text-anchor="middle" class="t">z: IL-10 (v)</text>
<rect x="32.3" y="282.2" width="49.9" height="2" fill="#6a6a6a"/>
<use href="#Lc" fill="#0712c4" transform="translate(32.6 289.3) scale(0.4930 0.4890)"/>
<circle cx="63.9" cy="320.5" r="0.87" fill="#40e0ff"/><circle cx="62.6" cy="326.0" r="0.92" fill="#00c8ff"/><circle cx="62.1" cy="321.9" r="0.72" fill="#00ffff"/><circle cx="63.4" cy="323.8" r="0.94" fill="#60ffd0"/><circle cx="62.1" cy="323.4" r="0.81" fill="#00c8ff"/><circle cx="62.5" cy="323.5" r="0.77" fill="#60ffd0"/><circle cx="62.1" cy="323.5" r="0.66" fill="#40e0ff"/><circle cx="63.2" cy="323.4" r="0.84" fill="#00c8ff"/><circle cx="62.4" cy="324.3" r="0.81" fill="#00ffff"/><circle cx="62.6" cy="324.3" r="0.90" fill="#40e0ff"/><circle cx="64.3" cy="324.1" r="0.81" fill="#00c8ff"/><circle cx="63.6" cy="325.2" r="0.80" fill="#60ffd0"/><circle cx="64.5" cy="319.5" r="0.67" fill="#60ffd0"/><circle cx="63.2" cy="324.6" r="0.84" fill="#00ffff"/><circle cx="61.5" cy="315.0" r="0.79" fill="#00c8ff"/><circle cx="63.0" cy="327.8" r="0.58" fill="#40e0ff"/><circle cx="52.7" cy="320.6" r="0.81" fill="#ff0000"/><circle cx="53.9" cy="319.8" r="0.80" fill="#800000"/><circle cx="53.6" cy="322.1" r="0.67" fill="#00ffff"/><circle cx="54.0" cy="322.3" r="0.84" fill="#00c8ff"/>
<polygon points="35.5,316.0 58.0,317.0 57.2,325.0 45.7,329.4 37.0,327.4" fill="none" stroke="#4646e8" stroke-width="1.0"/>
<rect x="32.5" y="289.5" width="49.0" height="49.0" fill="none" stroke="#2a2a2a" stroke-width="1"/>
<path d="M29.2 293.5h2.8M29.2 300.5h2.8M29.2 306.5h2.8M29.2 313.5h2.8M29.2 320.5h2.8M29.2 327.5h2.8M29.2 334.5h2.8M35.5 339.0v2.8M38.5 339.0v2.8M42.5 339.0v2.8M46.5 339.0v2.8M49.5 339.0v2.8M53.5 339.0v2.8M57.5 339.0v2.8M60.5 339.0v2.8M64.5 339.0v2.8M68.5 339.0v2.8M71.5 339.0v2.8M75.5 339.0v2.8M79.5 339.0v2.8" stroke="#2a2a2a" stroke-width="1" fill="none"/>
<rect x="82.7" y="289.3" width="4.6" height="48.9" fill="url(#jet)" stroke="#888" stroke-width="0.6"/>
<rect x="82.3" y="289.3" width="1.3" height="48.9" fill="#808080"/>
<text x="93.7" y="292.1" font-size="7.9" class="t">48</text>
<text x="93.7" y="304.1" font-size="7.9" class="t">23</text>
<text x="93.7" y="316.2" font-size="7.9" class="t">10</text>
<text x="93.7" y="328.3" font-size="7.9" class="t">4</text>
<text x="93.7" y="340.4" font-size="7.9" class="t">0</text>
<path d="M87.3 289.5h2.6M87.3 301.5h2.6M87.3 313.5h2.6M87.3 325.5h2.6M87.3 337.5h2.6" stroke="#333" stroke-width="1"/>
<text x="155.6" y="280.0" font-size="7.7" text-anchor="middle" class="t">z: TNF-α (v)</text>
<rect x="131.0" y="282.2" width="49.9" height="2" fill="#6a6a6a"/>
<use href="#Lc" fill="#0712c4" transform="translate(131.3 289.3) scale(0.4930 0.4890)"/>
<circle cx="152.8" cy="319.3" r="0.73" fill="#ff3000"/><circle cx="153.2" cy="317.4" r="0.67" fill="#c00000"/><circle cx="160.2" cy="322.5" r="0.51" fill="#00a0ff"/><circle cx="161.8" cy="321.7" r="0.56" fill="#0070ff"/><circle cx="162.2" cy="321.1" r="0.66" fill="#30b0ff"/><circle cx="161.0" cy="320.6" r="0.66" fill="#00a0ff"/><circle cx="159.4" cy="321.8" r="0.74" fill="#00a0ff"/><circle cx="162.5" cy="323.0" r="0.54" fill="#0070ff"/>
<polygon points="134.2,316.0 156.7,317.0 156.0,325.0 144.4,329.4 135.7,327.4" fill="none" stroke="#4646e8" stroke-width="1.0"/>
<rect x="131.5" y="289.5" width="49.0" height="49.0" fill="none" stroke="#2a2a2a" stroke-width="1"/>
<path d="M128.2 293.5h2.8M128.2 300.5h2.8M128.2 306.5h2.8M128.2 313.5h2.8M128.2 320.5h2.8M128.2 327.5h2.8M128.2 334.5h2.8M133.5 339.0v2.8M137.5 339.0v2.8M141.5 339.0v2.8M144.5 339.0v2.8M148.5 339.0v2.8M152.5 339.0v2.8M155.5 339.0v2.8M159.5 339.0v2.8M163.5 339.0v2.8M166.5 339.0v2.8M170.5 339.0v2.8M174.5 339.0v2.8M177.5 339.0v2.8" stroke="#2a2a2a" stroke-width="1" fill="none"/>
<rect x="181.4" y="289.3" width="4.6" height="48.9" fill="url(#jet)" stroke="#888" stroke-width="0.6"/>
<rect x="181.0" y="289.3" width="1.3" height="48.9" fill="#808080"/>
<text x="192.4" y="292.1" font-size="7.9" class="t">17.5</text>
<text x="192.4" y="304.1" font-size="7.9" class="t">10.3</text>
<text x="192.4" y="316.2" font-size="7.9" class="t">5.7</text>
<text x="192.4" y="328.3" font-size="7.9" class="t">2.6</text>
<text x="192.4" y="340.4" font-size="7.9" class="t">0</text>
<path d="M186.0 289.5h2.6M186.0 301.5h2.6M186.0 313.5h2.6M186.0 325.5h2.6M186.0 337.5h2.6" stroke="#333" stroke-width="1"/>
<text x="260.4" y="280.0" font-size="7.7" text-anchor="middle" class="t">z: TGF-β (v)</text>
<rect x="235.8" y="282.2" width="49.9" height="2" fill="#6a6a6a"/>
<use href="#Lc" fill="#1a64ee" transform="translate(236.1 289.3) scale(0.4930 0.4890)"/>
<circle cx="264.7" cy="305.7" r="0.51" fill="#00ffff"/><circle cx="262.3" cy="308.7" r="0.74" fill="#00c8ff"/><circle cx="261.5" cy="304.5" r="0.60" fill="#0070ff"/><circle cx="256.5" cy="312.4" r="0.84" fill="#60ffd0"/><circle cx="259.9" cy="301.3" r="0.82" fill="#00c8ff"/><circle cx="268.0" cy="302.0" r="0.62" fill="#00ffff"/><circle cx="262.3" cy="308.6" r="0.70" fill="#00c8ff"/><circle cx="266.8" cy="308.0" r="0.62" fill="#30b0ff"/><circle cx="266.9" cy="305.3" r="0.79" fill="#60ffd0"/><circle cx="254.8" cy="306.0" r="0.60" fill="#30b0ff"/><circle cx="254.6" cy="308.3" r="0.83" fill="#60ffd0"/><circle cx="268.6" cy="303.8" r="0.69" fill="#60ffd0"/><circle cx="247.3" cy="313.1" r="0.57" fill="#00c8ff"/><circle cx="253.9" cy="311.0" r="0.61" fill="#00c8ff"/><circle cx="252.4" cy="304.2" r="0.78" fill="#40e0ff"/><circle cx="257.9" cy="307.4" r="0.66" fill="#00a0ff"/><circle cx="253.9" cy="308.5" r="0.84" fill="#00ffff"/><circle cx="253.3" cy="306.0" r="0.54" fill="#00ffff"/><circle cx="265.2" cy="311.8" r="0.63" fill="#00c8ff"/><circle cx="269.5" cy="302.7" r="0.66" fill="#00a0ff"/><circle cx="247.9" cy="304.5" r="0.74" fill="#00ffff"/><circle cx="258.8" cy="304.5" r="0.57" fill="#00a0ff"/><circle cx="268.6" cy="296.7" r="0.67" fill="#00a0ff"/><circle cx="251.7" cy="306.5" r="0.71" fill="#60ffd0"/><circle cx="260.4" cy="300.9" r="0.77" fill="#60ffd0"/><circle cx="256.6" cy="294.6" r="0.54" fill="#00c8ff"/><circle cx="260.5" cy="308.9" r="0.57" fill="#00c8ff"/><circle cx="256.3" cy="303.1" r="0.57" fill="#00c8ff"/><circle cx="255.4" cy="308.0" r="0.52" fill="#00ffff"/><circle cx="258.5" cy="308.4" r="0.58" fill="#40e0ff"/><circle cx="258.0" cy="306.6" r="0.51" fill="#00a0ff"/><circle cx="251.8" cy="303.1" r="0.65" fill="#00a0ff"/><circle cx="259.2" cy="295.3" r="0.80" fill="#0070ff"/><circle cx="261.8" cy="315.8" r="0.73" fill="#00ffff"/><circle cx="263.2" cy="311.8" r="0.64" fill="#60ffd0"/><circle cx="255.3" cy="307.2" r="0.59" fill="#40e0ff"/><circle cx="275.9" cy="301.1" r="0.71" fill="#30b0ff"/><circle cx="268.9" cy="301.9" r="0.52" fill="#00ffff"/><circle cx="264.0" cy="309.7" r="0.81" fill="#0070ff"/><circle cx="258.6" cy="314.7" r="0.58" fill="#00ffff"/><circle cx="263.8" cy="303.5" r="0.70" fill="#30b0ff"/><circle cx="257.2" cy="309.4" r="0.85" fill="#0070ff"/><circle cx="257.8" cy="300.0" r="0.54" fill="#00c8ff"/><circle cx="254.1" cy="304.9" r="0.81" fill="#40e0ff"/><circle cx="260.3" cy="310.2" r="0.69" fill="#00c8ff"/><circle cx="265.4" cy="301.5" r="0.75" fill="#30b0ff"/><circle cx="265.5" cy="305.9" r="0.65" fill="#00a0ff"/><circle cx="252.6" cy="311.1" r="0.57" fill="#30b0ff"/><circle cx="275.1" cy="312.1" r="0.63" fill="#0070ff"/><circle cx="241.3" cy="305.0" r="0.56" fill="#40e0ff"/><circle cx="248.9" cy="315.6" r="0.50" fill="#00c8ff"/><circle cx="260.9" cy="305.4" r="0.85" fill="#60ffd0"/><circle cx="270.7" cy="308.6" r="0.53" fill="#00c8ff"/><circle cx="265.0" cy="307.7" r="0.69" fill="#00c8ff"/><circle cx="267.2" cy="303.7" r="0.73" fill="#40e0ff"/><circle cx="245.2" cy="312.4" r="0.82" fill="#00a0ff"/><circle cx="250.1" cy="308.3" r="0.67" fill="#00c8ff"/><circle cx="248.3" cy="307.7" r="0.57" fill="#00ffff"/><circle cx="250.3" cy="307.1" r="0.50" fill="#00c8ff"/><circle cx="252.5" cy="310.7" r="0.78" fill="#40e0ff"/><circle cx="249.5" cy="309.2" r="0.63" fill="#40e0ff"/><circle cx="249.2" cy="306.3" r="0.68" fill="#0070ff"/><circle cx="250.7" cy="307.4" r="0.50" fill="#00c8ff"/><circle cx="246.7" cy="307.8" r="0.53" fill="#40e0ff"/><circle cx="248.5" cy="305.4" r="0.65" fill="#00c8ff"/><circle cx="253.0" cy="307.8" r="0.53" fill="#60ffd0"/><circle cx="247.7" cy="308.9" r="0.62" fill="#00a0ff"/><circle cx="265.2" cy="324.6" r="0.93" fill="#40e0ff"/><circle cx="266.5" cy="321.0" r="0.78" fill="#00ffff"/><circle cx="265.0" cy="318.5" r="0.83" fill="#ffd000"/><circle cx="266.1" cy="326.2" r="0.93" fill="#ffff00"/><circle cx="266.3" cy="324.8" r="0.87" fill="#c0ff40"/><circle cx="264.1" cy="320.9" r="0.67" fill="#c0ff40"/><circle cx="267.9" cy="323.3" r="0.79" fill="#ffd000"/><circle cx="264.4" cy="321.8" r="0.64" fill="#60ffd0"/><circle cx="265.2" cy="324.7" r="0.78" fill="#c0ff40"/><circle cx="265.9" cy="319.0" r="0.74" fill="#60ffd0"/><circle cx="266.0" cy="320.8" r="0.91" fill="#60ffd0"/><circle cx="265.7" cy="326.1" r="0.67" fill="#ffd000"/><circle cx="264.5" cy="321.1" r="0.66" fill="#40e0ff"/><circle cx="265.7" cy="325.3" r="0.88" fill="#ffff00"/><circle cx="265.1" cy="321.7" r="0.73" fill="#c0ff40"/><circle cx="266.2" cy="322.3" r="0.78" fill="#40e0ff"/><circle cx="265.1" cy="326.5" r="0.61" fill="#00c8ff"/><circle cx="263.5" cy="322.2" r="0.72" fill="#ffff00"/><circle cx="264.7" cy="325.1" r="0.66" fill="#ffff00"/><circle cx="267.3" cy="329.5" r="0.69" fill="#00ffff"/><circle cx="252.0" cy="323.7" r="0.56" fill="#ffff00"/><circle cx="250.9" cy="324.4" r="0.57" fill="#ffc000"/><circle cx="251.9" cy="324.5" r="0.60" fill="#ff0000"/><circle cx="250.0" cy="323.9" r="0.79" fill="#ffd000"/><circle cx="251.0" cy="324.5" r="0.81" fill="#ffff00"/><circle cx="255.5" cy="319.2" r="0.51" fill="#ffd000"/><circle cx="254.7" cy="319.2" r="0.73" fill="#c0ff40"/><circle cx="256.6" cy="319.2" r="0.54" fill="#c0ff40"/>
<polygon points="239.0,316.0 261.5,317.0 260.8,325.0 249.2,329.4 240.5,327.4" fill="none" stroke="#4646e8" stroke-width="1.0"/>
<rect x="236.5" y="289.5" width="49.0" height="49.0" fill="none" stroke="#2a2a2a" stroke-width="1"/>
<path d="M233.2 293.5h2.8M233.2 300.5h2.8M233.2 306.5h2.8M233.2 313.5h2.8M233.2 320.5h2.8M233.2 327.5h2.8M233.2 334.5h2.8M238.5 339.0v2.8M242.5 339.0v2.8M245.5 339.0v2.8M249.5 339.0v2.8M253.5 339.0v2.8M256.5 339.0v2.8M260.5 339.0v2.8M264.5 339.0v2.8M267.5 339.0v2.8M271.5 339.0v2.8M275.5 339.0v2.8M278.5 339.0v2.8M282.5 339.0v2.8" stroke="#2a2a2a" stroke-width="1" fill="none"/>
<rect x="286.2" y="289.3" width="4.6" height="48.9" fill="url(#jet)" stroke="#888" stroke-width="0.6"/>
<rect x="285.8" y="289.3" width="1.3" height="48.9" fill="#808080"/>
<text x="297.2" y="292.1" font-size="7.9" class="t">108</text>
<text x="297.2" y="304.1" font-size="7.9" class="t">42</text>
<text x="297.2" y="316.2" font-size="7.9" class="t">16</text>
<text x="297.2" y="328.3" font-size="7.9" class="t">5</text>
<text x="297.2" y="340.4" font-size="7.9" class="t">0</text>
<path d="M290.8 289.5h2.6M290.8 301.5h2.6M290.8 313.5h2.6M290.8 325.5h2.6M290.8 337.5h2.6" stroke="#333" stroke-width="1"/>
<text x="363.2" y="280.0" font-size="7.7" text-anchor="middle" class="t">z: IFN-γ (v)</text>
<rect x="338.7" y="282.2" width="49.9" height="2" fill="#6a6a6a"/>
<use href="#Lc" fill="#0712c4" transform="translate(339.0 289.3) scale(0.4930 0.4890)"/>
<circle cx="361.1" cy="318.1" r="0.83" fill="#00ffff"/><circle cx="360.5" cy="318.7" r="0.64" fill="#00c8ff"/>
<polygon points="341.9,316.0 364.4,317.0 363.6,325.0 352.1,329.4 343.4,327.4" fill="none" stroke="#4646e8" stroke-width="1.0"/>
<rect x="339.5" y="289.5" width="49.0" height="49.0" fill="none" stroke="#2a2a2a" stroke-width="1"/>
<path d="M336.2 293.5h2.8M336.2 300.5h2.8M336.2 306.5h2.8M336.2 313.5h2.8M336.2 320.5h2.8M336.2 327.5h2.8M336.2 334.5h2.8M341.5 339.0v2.8M345.5 339.0v2.8M348.5 339.0v2.8M352.5 339.0v2.8M356.5 339.0v2.8M359.5 339.0v2.8M363.5 339.0v2.8M367.5 339.0v2.8M370.5 339.0v2.8M374.5 339.0v2.8M378.5 339.0v2.8M381.5 339.0v2.8M385.5 339.0v2.8" stroke="#2a2a2a" stroke-width="1" fill="none"/>
<rect x="389.1" y="289.3" width="4.6" height="48.9" fill="url(#jet)" stroke="#888" stroke-width="0.6"/>
<rect x="388.7" y="289.3" width="1.3" height="48.9" fill="#808080"/>
<text x="400.1" y="292.1" font-size="7.9" class="t">7.3</text>
<text x="400.1" y="304.1" font-size="7.9" class="t">5</text>
<text x="400.1" y="316.2" font-size="7.9" class="t">3.1</text>
<text x="400.1" y="328.3" font-size="7.9" class="t">1.5</text>
<text x="400.1" y="340.4" font-size="7.9" class="t">0</text>
<path d="M393.7 289.5h2.6M393.7 301.5h2.6M393.7 313.5h2.6M393.7 325.5h2.6M393.7 337.5h2.6" stroke="#333" stroke-width="1"/>
<text x="463.6" y="280.0" font-size="7.7" text-anchor="middle" class="t">z: CD279PD1...</text>
<rect x="439.1" y="282.2" width="49.9" height="2" fill="#6a6a6a"/>
<use href="#Lc" fill="#0712c4" transform="translate(439.4 289.3) scale(0.4930 0.4890)"/>
<circle cx="454.7" cy="309.0" r="0.57" fill="#c0ff40"/><circle cx="455.7" cy="312.2" r="0.54" fill="#60ffd0"/><circle cx="457.0" cy="310.8" r="0.61" fill="#60ffd0"/><circle cx="456.3" cy="310.9" r="0.76" fill="#00c8ff"/><circle cx="456.1" cy="311.6" r="0.85" fill="#00c8ff"/><circle cx="467.8" cy="304.6" r="0.68" fill="#ffff00"/><circle cx="466.1" cy="305.4" r="0.72" fill="#00c8ff"/><circle cx="465.9" cy="307.5" r="0.70" fill="#ffd000"/><circle cx="466.3" cy="306.1" r="0.58" fill="#ffd000"/>
<polygon points="442.3,316.0 464.8,317.0 464.0,325.0 452.5,329.4 443.8,327.4" fill="none" stroke="#4646e8" stroke-width="1.0"/>
<rect x="439.5" y="289.5" width="49.0" height="49.0" fill="none" stroke="#2a2a2a" stroke-width="1"/>
<path d="M436.2 293.5h2.8M436.2 300.5h2.8M436.2 306.5h2.8M436.2 313.5h2.8M436.2 320.5h2.8M436.2 327.5h2.8M436.2 334.5h2.8M441.5 339.0v2.8M445.5 339.0v2.8M449.5 339.0v2.8M452.5 339.0v2.8M456.5 339.0v2.8M460.5 339.0v2.8M463.5 339.0v2.8M467.5 339.0v2.8M471.5 339.0v2.8M474.5 339.0v2.8M478.5 339.0v2.8M482.5 339.0v2.8M485.5 339.0v2.8" stroke="#2a2a2a" stroke-width="1" fill="none"/>
<rect x="489.5" y="289.3" width="4.6" height="48.9" fill="url(#jet)" stroke="#888" stroke-width="0.6"/>
<rect x="489.1" y="289.3" width="1.3" height="48.9" fill="#808080"/>
<text x="500.5" y="292.1" font-size="7.9" class="t">125</text>
<text x="500.5" y="304.1" font-size="7.9" class="t">47</text>
<text x="500.5" y="316.2" font-size="7.9" class="t">17</text>
<text x="500.5" y="328.3" font-size="7.9" class="t">6</text>
<text x="500.5" y="340.4" font-size="7.9" class="t">0</text>
<path d="M494.1 289.5h2.6M494.1 301.5h2.6M494.1 313.5h2.6M494.1 325.5h2.6M494.1 337.5h2.6" stroke="#333" stroke-width="1"/>
<use href="#Ln" fill="#0712c4" transform="translate(32.6 350.4) scale(0.4930 0.4890)"/>

<polygon points="35.7,378.3 58.1,379.6 46.6,392.0 36.8,389.5" fill="none" stroke="#4646e8" stroke-width="1.0"/>
<rect x="32.5" y="350.5" width="49.0" height="49.0" fill="none" stroke="#2a2a2a" stroke-width="1"/>
<path d="M29.2 354.5h2.8M29.2 361.5h2.8M29.2 368.5h2.8M29.2 374.5h2.8M29.2 381.5h2.8M29.2 388.5h2.8M29.2 395.5h2.8M35.5 400.0v2.8M38.5 400.0v2.8M42.5 400.0v2.8M46.5 400.0v2.8M49.5 400.0v2.8M53.5 400.0v2.8M57.5 400.0v2.8M60.5 400.0v2.8M64.5 400.0v2.8M68.5 400.0v2.8M71.5 400.0v2.8M75.5 400.0v2.8M79.5 400.0v2.8" stroke="#2a2a2a" stroke-width="1" fill="none"/>
<rect x="82.7" y="350.4" width="4.6" height="48.9" fill="url(#jet)" stroke="#888" stroke-width="0.6"/>
<rect x="82.3" y="350.4" width="1.3" height="48.9" fill="#808080"/>
<text x="93.7" y="353.2" font-size="7.9" class="t">48</text>
<text x="93.7" y="365.2" font-size="7.9" class="t">23</text>
<text x="93.7" y="377.3" font-size="7.9" class="t">10</text>
<text x="93.7" y="389.4" font-size="7.9" class="t">4</text>
<text x="93.7" y="401.5" font-size="7.9" class="t">0</text>
<path d="M87.3 350.5h2.6M87.3 362.5h2.6M87.3 374.5h2.6M87.3 386.5h2.6M87.3 398.5h2.6" stroke="#333" stroke-width="1"/>
<use href="#Ln" fill="#0d3ad6" transform="translate(131.3 350.4) scale(0.4930 0.4890)"/>
<circle cx="154.9" cy="360.3" r="0.65" fill="#00c8ff"/><circle cx="160.5" cy="361.8" r="0.70" fill="#00c8ff"/><circle cx="153.6" cy="358.8" r="0.77" fill="#00c8ff"/><circle cx="155.5" cy="360.8" r="0.77" fill="#40e0ff"/><circle cx="145.0" cy="364.5" r="0.54" fill="#0070ff"/><circle cx="154.3" cy="355.1" r="0.63" fill="#00a0ff"/><circle cx="152.1" cy="362.2" r="0.85" fill="#00a0ff"/><circle cx="153.0" cy="357.7" r="0.74" fill="#0070ff"/><circle cx="158.9" cy="358.8" r="0.63" fill="#00a0ff"/><circle cx="156.6" cy="363.7" r="0.64" fill="#0070ff"/><circle cx="152.9" cy="355.3" r="0.74" fill="#00a0ff"/><circle cx="154.3" cy="362.7" r="0.64" fill="#30b0ff"/><circle cx="152.2" cy="358.8" r="0.52" fill="#30b0ff"/><circle cx="152.4" cy="363.2" r="0.68" fill="#00c8ff"/><circle cx="157.4" cy="354.8" r="0.86" fill="#0070ff"/><circle cx="154.1" cy="358.2" r="0.57" fill="#40e0ff"/><circle cx="153.0" cy="370.2" r="0.61" fill="#0070ff"/><circle cx="149.2" cy="378.6" r="0.72" fill="#30b0ff"/><circle cx="151.7" cy="371.2" r="0.61" fill="#00a0ff"/><circle cx="138.9" cy="365.1" r="0.57" fill="#00a0ff"/><circle cx="147.1" cy="374.9" r="0.65" fill="#0070ff"/><circle cx="144.3" cy="371.8" r="0.54" fill="#30b0ff"/><circle cx="148.0" cy="373.7" r="0.62" fill="#30b0ff"/><circle cx="148.3" cy="372.3" r="0.52" fill="#30b0ff"/><circle cx="146.9" cy="370.1" r="0.64" fill="#30b0ff"/><circle cx="140.8" cy="372.6" r="0.81" fill="#00a0ff"/><circle cx="150.2" cy="376.0" r="0.75" fill="#0070ff"/><circle cx="145.9" cy="377.4" r="0.86" fill="#00a0ff"/><circle cx="146.2" cy="373.7" r="0.71" fill="#00a0ff"/><circle cx="146.6" cy="373.2" r="0.55" fill="#30b0ff"/><circle cx="151.3" cy="373.7" r="0.58" fill="#0070ff"/><circle cx="153.6" cy="370.5" r="0.75" fill="#30b0ff"/><circle cx="140.3" cy="373.7" r="0.69" fill="#30b0ff"/><circle cx="142.2" cy="374.5" r="0.76" fill="#00a0ff"/><circle cx="143.5" cy="377.5" r="0.62" fill="#00a0ff"/><circle cx="151.0" cy="376.0" r="0.77" fill="#00a0ff"/><circle cx="144.2" cy="368.8" r="0.56" fill="#30b0ff"/><circle cx="149.1" cy="374.5" r="0.55" fill="#00a0ff"/><circle cx="160.9" cy="367.7" r="0.80" fill="#00a0ff"/><circle cx="154.9" cy="369.0" r="0.76" fill="#30b0ff"/><circle cx="159.7" cy="369.5" r="0.66" fill="#00a0ff"/><circle cx="158.2" cy="373.2" r="0.77" fill="#00a0ff"/><circle cx="158.7" cy="371.2" r="0.65" fill="#30b0ff"/><circle cx="159.5" cy="373.2" r="0.61" fill="#30b0ff"/><circle cx="160.7" cy="369.4" r="0.57" fill="#0070ff"/><circle cx="164.1" cy="365.0" r="0.80" fill="#00a0ff"/><circle cx="162.1" cy="368.4" r="0.55" fill="#0070ff"/><circle cx="161.0" cy="371.1" r="0.77" fill="#0070ff"/><circle cx="162.4" cy="369.5" r="0.59" fill="#00a0ff"/><circle cx="155.0" cy="380.2" r="0.69" fill="#00a0ff"/><circle cx="168.6" cy="362.0" r="0.57" fill="#0070ff"/><circle cx="161.9" cy="364.9" r="0.60" fill="#0070ff"/><circle cx="154.7" cy="363.2" r="0.50" fill="#30b0ff"/><circle cx="154.2" cy="370.2" r="0.65" fill="#00a0ff"/><circle cx="156.7" cy="374.5" r="0.73" fill="#30b0ff"/><circle cx="164.8" cy="364.5" r="0.51" fill="#30b0ff"/><circle cx="158.8" cy="377.6" r="0.51" fill="#00a0ff"/><circle cx="156.7" cy="366.0" r="0.83" fill="#30b0ff"/><circle cx="161.9" cy="371.4" r="0.66" fill="#00a0ff"/><circle cx="159.4" cy="371.1" r="0.60" fill="#0070ff"/><circle cx="161.6" cy="368.6" r="0.79" fill="#30b0ff"/><circle cx="159.1" cy="370.8" r="0.77" fill="#00a0ff"/><circle cx="157.3" cy="378.1" r="0.72" fill="#0070ff"/><circle cx="165.4" cy="379.5" r="0.74" fill="#30b0ff"/><circle cx="161.7" cy="389.9" r="0.65" fill="#30b0ff"/><circle cx="164.5" cy="383.3" r="0.81" fill="#30b0ff"/><circle cx="159.4" cy="381.1" r="0.57" fill="#0070ff"/><circle cx="158.6" cy="377.9" r="0.50" fill="#00c8ff"/><circle cx="156.7" cy="384.3" r="0.54" fill="#00c8ff"/><circle cx="162.6" cy="376.2" r="0.67" fill="#30b0ff"/><circle cx="157.5" cy="383.5" r="0.76" fill="#00ffff"/><circle cx="166.5" cy="383.9" r="0.60" fill="#00c8ff"/><circle cx="161.9" cy="381.3" r="0.62" fill="#00a0ff"/>
<polygon points="134.4,378.3 156.8,379.6 145.3,392.0 135.5,389.5" fill="none" stroke="#4646e8" stroke-width="1.0"/>
<rect x="131.5" y="350.5" width="49.0" height="49.0" fill="none" stroke="#2a2a2a" stroke-width="1"/>
<path d="M128.2 354.5h2.8M128.2 361.5h2.8M128.2 368.5h2.8M128.2 374.5h2.8M128.2 381.5h2.8M128.2 388.5h2.8M128.2 395.5h2.8M133.5 400.0v2.8M137.5 400.0v2.8M141.5 400.0v2.8M144.5 400.0v2.8M148.5 400.0v2.8M152.5 400.0v2.8M155.5 400.0v2.8M159.5 400.0v2.8M163.5 400.0v2.8M166.5 400.0v2.8M170.5 400.0v2.8M174.5 400.0v2.8M177.5 400.0v2.8" stroke="#2a2a2a" stroke-width="1" fill="none"/>
<rect x="181.4" y="350.4" width="4.6" height="48.9" fill="url(#jet)" stroke="#888" stroke-width="0.6"/>
<rect x="181.0" y="350.4" width="1.3" height="48.9" fill="#808080"/>
<text x="192.4" y="353.2" font-size="7.9" class="t">17.5</text>
<text x="192.4" y="365.2" font-size="7.9" class="t">10.3</text>
<text x="192.4" y="377.3" font-size="7.9" class="t">5.7</text>
<text x="192.4" y="389.4" font-size="7.9" class="t">2.6</text>
<text x="192.4" y="401.5" font-size="7.9" class="t">0</text>
<path d="M186.0 350.5h2.6M186.0 362.5h2.6M186.0 374.5h2.6M186.0 386.5h2.6M186.0 398.5h2.6" stroke="#333" stroke-width="1"/>
<use href="#Ln" fill="#2a9cf2" transform="translate(236.1 350.4) scale(0.4930 0.4890)"/>
<circle cx="260.7" cy="371.0" r="0.61" fill="#60ffd0"/><circle cx="243.2" cy="369.2" r="0.54" fill="#00a0ff"/><circle cx="254.5" cy="370.9" r="0.75" fill="#0070ff"/><circle cx="255.6" cy="369.2" r="0.78" fill="#00c8ff"/><circle cx="246.8" cy="367.9" r="0.78" fill="#60ffd0"/><circle cx="265.9" cy="355.5" r="0.58" fill="#40e0ff"/><circle cx="254.8" cy="370.5" r="0.69" fill="#40e0ff"/><circle cx="256.7" cy="370.1" r="0.52" fill="#00ffff"/><circle cx="250.5" cy="367.4" r="0.67" fill="#40e0ff"/><circle cx="260.1" cy="367.3" r="0.80" fill="#40e0ff"/><circle cx="252.7" cy="376.9" r="0.53" fill="#00ffff"/><circle cx="251.0" cy="366.6" r="0.62" fill="#60ffd0"/><circle cx="247.9" cy="358.6" r="0.61" fill="#40e0ff"/><circle cx="264.0" cy="372.0" r="0.80" fill="#0070ff"/><circle cx="268.5" cy="385.7" r="0.81" fill="#00c8ff"/><circle cx="254.5" cy="367.3" r="0.61" fill="#ffd000"/><circle cx="265.7" cy="371.9" r="0.68" fill="#00a0ff"/><circle cx="267.3" cy="366.1" r="0.85" fill="#0070ff"/><circle cx="255.8" cy="374.6" r="0.71" fill="#60ffd0"/><circle cx="257.0" cy="375.1" r="0.76" fill="#60ffd0"/><circle cx="265.2" cy="354.9" r="0.55" fill="#00ffff"/><circle cx="260.8" cy="360.7" r="0.55" fill="#60ffd0"/><circle cx="264.9" cy="367.5" r="0.54" fill="#00ffff"/><circle cx="238.5" cy="359.7" r="0.79" fill="#c0ff40"/><circle cx="257.2" cy="362.5" r="0.59" fill="#ffd000"/><circle cx="261.8" cy="371.8" r="0.56" fill="#c0ff40"/><circle cx="250.1" cy="382.4" r="0.68" fill="#00c8ff"/><circle cx="259.2" cy="379.7" r="0.71" fill="#0070ff"/><circle cx="252.6" cy="363.5" r="0.54" fill="#00c8ff"/><circle cx="275.8" cy="372.6" r="0.57" fill="#00ffff"/><circle cx="266.0" cy="371.5" r="0.58" fill="#00a0ff"/><circle cx="256.6" cy="362.8" r="0.55" fill="#c0ff40"/><circle cx="260.0" cy="377.6" r="0.56" fill="#30b0ff"/><circle cx="247.7" cy="371.5" r="0.83" fill="#00ffff"/><circle cx="240.9" cy="371.7" r="0.51" fill="#40e0ff"/><circle cx="258.1" cy="370.9" r="0.82" fill="#00a0ff"/><circle cx="257.9" cy="378.4" r="0.63" fill="#00ffff"/><circle cx="265.2" cy="372.8" r="0.86" fill="#00a0ff"/><circle cx="256.9" cy="366.2" r="0.85" fill="#00ffff"/><circle cx="261.7" cy="368.3" r="0.62" fill="#40e0ff"/><circle cx="251.4" cy="364.3" r="0.73" fill="#00ffff"/><circle cx="250.4" cy="364.8" r="0.51" fill="#00a0ff"/><circle cx="274.4" cy="371.5" r="0.54" fill="#00ffff"/><circle cx="252.9" cy="354.9" r="0.64" fill="#0070ff"/><circle cx="266.5" cy="372.0" r="0.82" fill="#0070ff"/><circle cx="255.0" cy="373.2" r="0.57" fill="#40e0ff"/><circle cx="248.5" cy="360.1" r="0.81" fill="#00ffff"/><circle cx="247.0" cy="383.7" r="0.80" fill="#ffff00"/><circle cx="246.9" cy="359.1" r="0.58" fill="#ffff00"/><circle cx="251.9" cy="368.3" r="0.70" fill="#00c8ff"/><circle cx="256.6" cy="365.6" r="0.85" fill="#ffff00"/><circle cx="248.5" cy="388.9" r="0.75" fill="#00ffff"/><circle cx="254.3" cy="365.5" r="0.52" fill="#60ffd0"/><circle cx="252.9" cy="370.3" r="0.85" fill="#00c8ff"/><circle cx="261.2" cy="360.4" r="0.78" fill="#ffff00"/><circle cx="262.5" cy="368.4" r="0.69" fill="#0070ff"/><circle cx="249.1" cy="375.2" r="0.71" fill="#00c8ff"/><circle cx="247.9" cy="369.3" r="0.81" fill="#60ffd0"/><circle cx="259.5" cy="366.9" r="0.63" fill="#00a0ff"/><circle cx="261.6" cy="372.6" r="0.72" fill="#00c8ff"/><circle cx="254.4" cy="366.4" r="0.86" fill="#00ffff"/><circle cx="250.6" cy="361.8" r="0.51" fill="#00a0ff"/><circle cx="250.2" cy="366.6" r="0.59" fill="#60ffd0"/><circle cx="248.1" cy="371.2" r="0.51" fill="#40e0ff"/><circle cx="249.1" cy="357.3" r="0.75" fill="#40e0ff"/><circle cx="254.5" cy="368.6" r="0.85" fill="#60ffd0"/><circle cx="253.6" cy="365.5" r="0.73" fill="#40e0ff"/><circle cx="260.2" cy="362.0" r="0.56" fill="#00c8ff"/><circle cx="256.1" cy="366.4" r="0.56" fill="#00a0ff"/><circle cx="252.4" cy="366.3" r="0.55" fill="#0070ff"/><circle cx="248.4" cy="367.1" r="0.57" fill="#ffff00"/><circle cx="250.2" cy="363.8" r="0.70" fill="#00ffff"/><circle cx="266.8" cy="377.2" r="0.77" fill="#ffff00"/><circle cx="251.0" cy="375.7" r="0.83" fill="#00c8ff"/><circle cx="253.4" cy="371.8" r="0.70" fill="#00ffff"/><circle cx="277.2" cy="380.2" r="0.76" fill="#60ffd0"/><circle cx="259.4" cy="372.5" r="0.78" fill="#40e0ff"/><circle cx="249.8" cy="367.1" r="0.79" fill="#c0ff40"/><circle cx="256.7" cy="379.3" r="0.59" fill="#00a0ff"/><circle cx="248.1" cy="381.5" r="0.67" fill="#40e0ff"/><circle cx="251.0" cy="370.3" r="0.51" fill="#ffff00"/><circle cx="247.1" cy="377.9" r="0.78" fill="#00a0ff"/><circle cx="257.8" cy="376.0" r="0.86" fill="#00ffff"/><circle cx="253.3" cy="362.3" r="0.80" fill="#00ffff"/><circle cx="274.3" cy="364.1" r="0.78" fill="#00c8ff"/><circle cx="256.3" cy="363.4" r="0.55" fill="#0070ff"/><circle cx="241.4" cy="372.8" r="0.78" fill="#60ffd0"/><circle cx="257.8" cy="369.9" r="0.60" fill="#60ffd0"/><circle cx="250.9" cy="362.6" r="0.54" fill="#60ffd0"/><circle cx="261.2" cy="368.1" r="0.52" fill="#00ffff"/><circle cx="252.8" cy="369.8" r="0.53" fill="#00ffff"/><circle cx="259.1" cy="375.7" r="0.53" fill="#40e0ff"/><circle cx="249.7" cy="365.1" r="0.82" fill="#00a0ff"/><circle cx="250.8" cy="364.4" r="0.58" fill="#00ffff"/><circle cx="270.0" cy="368.3" r="0.67" fill="#ffff00"/><circle cx="253.7" cy="362.4" r="0.62" fill="#60ffd0"/><circle cx="256.4" cy="362.2" r="0.75" fill="#0070ff"/><circle cx="259.6" cy="378.4" r="0.77" fill="#00ffff"/><circle cx="247.9" cy="362.1" r="0.53" fill="#00c8ff"/><circle cx="245.2" cy="368.0" r="0.85" fill="#00c8ff"/><circle cx="260.2" cy="376.8" r="0.61" fill="#30b0ff"/><circle cx="273.2" cy="369.9" r="0.54" fill="#30b0ff"/><circle cx="256.5" cy="373.0" r="0.55" fill="#0070ff"/><circle cx="247.3" cy="361.5" r="0.51" fill="#0070ff"/><circle cx="243.7" cy="359.9" r="0.56" fill="#60ffd0"/><circle cx="266.7" cy="369.4" r="0.70" fill="#ffd000"/><circle cx="259.3" cy="364.6" r="0.78" fill="#00a0ff"/><circle cx="256.9" cy="374.7" r="0.51" fill="#0070ff"/><circle cx="269.5" cy="370.5" r="0.59" fill="#ffd000"/><circle cx="256.0" cy="367.1" r="0.75" fill="#00ffff"/><circle cx="252.2" cy="369.8" r="0.61" fill="#0070ff"/><circle cx="255.3" cy="368.2" r="0.85" fill="#00ffff"/><circle cx="239.8" cy="364.0" r="0.77" fill="#00a0ff"/><circle cx="250.5" cy="362.8" r="0.67" fill="#40e0ff"/><circle cx="251.3" cy="365.9" r="0.60" fill="#00c8ff"/><circle cx="254.0" cy="377.8" r="0.52" fill="#0070ff"/><circle cx="254.7" cy="359.8" r="0.83" fill="#40e0ff"/><circle cx="259.2" cy="379.1" r="0.61" fill="#ffff00"/><circle cx="259.6" cy="367.1" r="0.59" fill="#00c8ff"/><circle cx="268.4" cy="371.7" r="0.81" fill="#ffd000"/><circle cx="268.0" cy="383.6" r="0.73" fill="#00ffff"/><circle cx="264.7" cy="382.0" r="0.51" fill="#00c8ff"/><circle cx="271.2" cy="379.6" r="0.60" fill="#60ffd0"/><circle cx="269.4" cy="372.9" r="0.59" fill="#60ffd0"/><circle cx="265.5" cy="384.1" r="0.75" fill="#00ffff"/><circle cx="270.1" cy="383.6" r="0.53" fill="#ffff00"/><circle cx="259.8" cy="378.9" r="0.64" fill="#00c8ff"/><circle cx="261.9" cy="383.4" r="0.69" fill="#60ffd0"/><circle cx="266.5" cy="384.9" r="0.62" fill="#00c8ff"/><circle cx="259.3" cy="381.8" r="0.56" fill="#00c8ff"/><circle cx="271.8" cy="375.6" r="0.77" fill="#ffff00"/><circle cx="265.3" cy="386.3" r="0.51" fill="#60ffd0"/><circle cx="260.2" cy="382.0" r="0.71" fill="#ffd000"/><circle cx="262.7" cy="375.3" r="0.67" fill="#ffd000"/><circle cx="262.1" cy="382.1" r="0.57" fill="#c0ff40"/><circle cx="266.8" cy="382.9" r="0.58" fill="#c0ff40"/><circle cx="266.1" cy="376.6" r="0.60" fill="#60ffd0"/><circle cx="262.6" cy="377.5" r="0.57" fill="#c0ff40"/><circle cx="268.0" cy="383.6" r="0.57" fill="#40e0ff"/><circle cx="247.7" cy="382.0" r="0.63" fill="#800000"/><circle cx="246.1" cy="382.3" r="0.73" fill="#c00000"/><circle cx="249.6" cy="381.7" r="0.67" fill="#ff3000"/><circle cx="249.3" cy="385.1" r="0.56" fill="#e00000"/><circle cx="246.6" cy="380.2" r="0.83" fill="#ff0000"/><circle cx="244.3" cy="383.3" r="0.64" fill="#e00000"/><circle cx="244.6" cy="383.6" r="0.84" fill="#c00000"/><circle cx="247.7" cy="381.8" r="0.72" fill="#800000"/><circle cx="250.2" cy="382.4" r="0.59" fill="#e00000"/><circle cx="246.3" cy="381.8" r="0.83" fill="#ff0000"/><circle cx="253.0" cy="382.7" r="0.73" fill="#ff0000"/><circle cx="251.8" cy="382.8" r="0.58" fill="#ff0000"/><circle cx="246.2" cy="383.6" r="0.71" fill="#ff0000"/><circle cx="247.4" cy="381.4" r="0.80" fill="#e00000"/><circle cx="251.2" cy="384.2" r="0.62" fill="#800000"/><circle cx="243.4" cy="384.1" r="0.60" fill="#e00000"/><circle cx="272.7" cy="381.5" r="0.56" fill="#c00000"/><circle cx="270.4" cy="381.4" r="0.66" fill="#ff3000"/><circle cx="272.7" cy="380.6" r="0.70" fill="#c00000"/><circle cx="271.1" cy="379.2" r="0.86" fill="#ff3000"/><circle cx="271.5" cy="379.9" r="0.55" fill="#ff0000"/><circle cx="260.3" cy="389.6" r="0.56" fill="#ffd000"/><circle cx="259.0" cy="392.9" r="0.54" fill="#ffd000"/><circle cx="259.6" cy="388.7" r="0.79" fill="#ff8000"/><circle cx="257.4" cy="392.0" r="0.76" fill="#ffd000"/><circle cx="257.9" cy="389.1" r="0.80" fill="#ffff00"/><circle cx="260.0" cy="388.8" r="0.59" fill="#ffff00"/><circle cx="258.0" cy="390.6" r="0.63" fill="#ffff00"/><circle cx="255.3" cy="394.2" r="0.74" fill="#c0ff40"/><circle cx="256.9" cy="392.5" r="0.78" fill="#e00000"/><circle cx="256.0" cy="390.1" r="0.71" fill="#ffc000"/>
<polygon points="239.2,378.3 261.6,379.6 250.1,392.0 240.3,389.5" fill="none" stroke="#4646e8" stroke-width="1.0"/>
<rect x="236.5" y="350.5" width="49.0" height="49.0" fill="none" stroke="#2a2a2a" stroke-width="1"/>
<path d="M233.2 354.5h2.8M233.2 361.5h2.8M233.2 368.5h2.8M233.2 374.5h2.8M233.2 381.5h2.8M233.2 388.5h2.8M233.2 395.5h2.8M238.5 400.0v2.8M242.5 400.0v2.8M245.5 400.0v2.8M249.5 400.0v2.8M253.5 400.0v2.8M256.5 400.0v2.8M260.5 400.0v2.8M264.5 400.0v2.8M267.5 400.0v2.8M271.5 400.0v2.8M275.5 400.0v2.8M278.5 400.0v2.8M282.5 400.0v2.8" stroke="#2a2a2a" stroke-width="1" fill="none"/>
<rect x="286.2" y="350.4" width="4.6" height="48.9" fill="url(#jet)" stroke="#888" stroke-width="0.6"/>
<rect x="285.8" y="350.4" width="1.3" height="48.9" fill="#808080"/>
<text x="297.2" y="353.2" font-size="7.9" class="t">108</text>
<text x="297.2" y="365.2" font-size="7.9" class="t">42</text>
<text x="297.2" y="377.3" font-size="7.9" class="t">16</text>
<text x="297.2" y="389.4" font-size="7.9" class="t">5</text>
<text x="297.2" y="401.5" font-size="7.9" class="t">0</text>
<path d="M290.8 350.5h2.6M290.8 362.5h2.6M290.8 374.5h2.6M290.8 386.5h2.6M290.8 398.5h2.6" stroke="#333" stroke-width="1"/>
<use href="#Ln" fill="#0712c4" transform="translate(339.0 350.4) scale(0.4930 0.4890)"/>

<polygon points="342.1,378.3 364.5,379.6 353.0,392.0 343.2,389.5" fill="none" stroke="#4646e8" stroke-width="1.0"/>
<rect x="339.5" y="350.5" width="49.0" height="49.0" fill="none" stroke="#2a2a2a" stroke-width="1"/>
<path d="M336.2 354.5h2.8M336.2 361.5h2.8M336.2 368.5h2.8M336.2 374.5h2.8M336.2 381.5h2.8M336.2 388.5h2.8M336.2 395.5h2.8M341.5 400.0v2.8M345.5 400.0v2.8M348.5 400.0v2.8M352.5 400.0v2.8M356.5 400.0v2.8M359.5 400.0v2.8M363.5 400.0v2.8M367.5 400.0v2.8M370.5 400.0v2.8M374.5 400.0v2.8M378.5 400.0v2.8M381.5 400.0v2.8M385.5 400.0v2.8" stroke="#2a2a2a" stroke-width="1" fill="none"/>
<rect x="389.1" y="350.4" width="4.6" height="48.9" fill="url(#jet)" stroke="#888" stroke-width="0.6"/>
<rect x="388.7" y="350.4" width="1.3" height="48.9" fill="#808080"/>
<text x="400.1" y="353.2" font-size="7.9" class="t">7.3</text>
<text x="400.1" y="365.2" font-size="7.9" class="t">5</text>
<text x="400.1" y="377.3" font-size="7.9" class="t">3.1</text>
<text x="400.1" y="389.4" font-size="7.9" class="t">1.5</text>
<text x="400.1" y="401.5" font-size="7.9" class="t">0</text>
<path d="M393.7 350.5h2.6M393.7 362.5h2.6M393.7 374.5h2.6M393.7 386.5h2.6M393.7 398.5h2.6" stroke="#333" stroke-width="1"/>
<use href="#Ln" fill="#0712c4" transform="translate(439.4 350.4) scale(0.4930 0.4890)"/>
<circle cx="446.5" cy="370.0" r="0.81" fill="#ff0000"/><circle cx="458.4" cy="368.4" r="0.85" fill="#ffd000"/><circle cx="459.4" cy="370.0" r="0.71" fill="#ffc000"/><circle cx="458.7" cy="373.0" r="0.50" fill="#ffc000"/><circle cx="454.2" cy="369.3" r="0.53" fill="#ffff00"/><circle cx="453.6" cy="364.8" r="0.53" fill="#ffd000"/><circle cx="461.4" cy="368.8" r="0.73" fill="#ffff00"/><circle cx="451.2" cy="372.8" r="0.67" fill="#ffc000"/><circle cx="448.2" cy="367.8" r="0.65" fill="#ffd000"/><circle cx="455.0" cy="376.9" r="0.54" fill="#60ffd0"/><circle cx="454.1" cy="363.8" r="0.61" fill="#ff8000"/><circle cx="442.8" cy="366.7" r="0.58" fill="#ffc000"/><circle cx="445.7" cy="374.7" r="0.63" fill="#ff8000"/><circle cx="443.2" cy="370.0" r="0.67" fill="#00ffff"/><circle cx="450.0" cy="374.2" r="0.55" fill="#ffc000"/><circle cx="453.6" cy="372.4" r="0.61" fill="#ff8000"/><circle cx="449.9" cy="369.3" r="0.84" fill="#ffd000"/><circle cx="459.0" cy="369.8" r="0.70" fill="#c0ff40"/><circle cx="462.1" cy="369.8" r="0.82" fill="#ff8000"/><circle cx="455.9" cy="371.5" r="0.65" fill="#ffc000"/><circle cx="455.4" cy="364.5" r="0.63" fill="#c0ff40"/><circle cx="454.0" cy="370.7" r="0.76" fill="#60ffd0"/><circle cx="453.7" cy="375.8" r="0.52" fill="#ffff00"/><circle cx="457.6" cy="373.0" r="0.53" fill="#60ffd0"/><circle cx="444.6" cy="369.0" r="0.59" fill="#ffc000"/><circle cx="450.5" cy="371.4" r="0.74" fill="#ffd000"/><circle cx="457.5" cy="370.8" r="0.67" fill="#00c8ff"/><circle cx="455.6" cy="372.8" r="0.77" fill="#00ffff"/><circle cx="450.9" cy="363.5" r="0.77" fill="#00c8ff"/><circle cx="465.1" cy="372.0" r="0.73" fill="#60ffd0"/><circle cx="451.6" cy="372.3" r="0.65" fill="#40e0ff"/><circle cx="448.4" cy="381.4" r="0.80" fill="#00ffff"/><circle cx="448.3" cy="371.9" r="0.71" fill="#ffff00"/><circle cx="449.8" cy="372.0" r="0.70" fill="#ff8000"/><circle cx="452.5" cy="369.0" r="0.69" fill="#ffff00"/><circle cx="451.9" cy="368.1" r="0.82" fill="#00ffff"/><circle cx="442.6" cy="371.7" r="0.61" fill="#40e0ff"/><circle cx="459.1" cy="369.2" r="0.54" fill="#c0ff40"/><circle cx="459.3" cy="363.0" r="0.61" fill="#ffc000"/><circle cx="461.3" cy="359.7" r="0.61" fill="#ff8000"/><circle cx="459.5" cy="361.6" r="0.51" fill="#c0ff40"/><circle cx="465.6" cy="362.5" r="0.72" fill="#ffd000"/><circle cx="466.4" cy="362.8" r="0.60" fill="#e00000"/><circle cx="462.0" cy="359.7" r="0.78" fill="#e00000"/><circle cx="463.8" cy="361.4" r="0.85" fill="#ffc000"/><circle cx="461.6" cy="359.6" r="0.86" fill="#ffff00"/><circle cx="463.9" cy="357.8" r="0.63" fill="#ff8000"/><circle cx="461.1" cy="361.0" r="0.67" fill="#ff8000"/>
<polygon points="442.5,378.3 464.9,379.6 453.4,392.0 443.6,389.5" fill="none" stroke="#4646e8" stroke-width="1.0"/>
<rect x="439.5" y="350.5" width="49.0" height="49.0" fill="none" stroke="#2a2a2a" stroke-width="1"/>
<path d="M436.2 354.5h2.8M436.2 361.5h2.8M436.2 368.5h2.8M436.2 374.5h2.8M436.2 381.5h2.8M436.2 388.5h2.8M436.2 395.5h2.8M441.5 400.0v2.8M445.5 400.0v2.8M449.5 400.0v2.8M452.5 400.0v2.8M456.5 400.0v2.8M460.5 400.0v2.8M463.5 400.0v2.8M467.5 400.0v2.8M471.5 400.0v2.8M474.5 400.0v2.8M478.5 400.0v2.8M482.5 400.0v2.8M485.5 400.0v2.8" stroke="#2a2a2a" stroke-width="1" fill="none"/>
<rect x="489.5" y="350.4" width="4.6" height="48.9" fill="url(#jet)" stroke="#888" stroke-width="0.6"/>
<rect x="489.1" y="350.4" width="1.3" height="48.9" fill="#808080"/>
<text x="500.5" y="353.2" font-size="7.9" class="t">125</text>
<text x="500.5" y="365.2" font-size="7.9" class="t">47</text>
<text x="500.5" y="377.3" font-size="7.9" class="t">17</text>
<text x="500.5" y="389.4" font-size="7.9" class="t">6</text>
<text x="500.5" y="401.5" font-size="7.9" class="t">0</text>
<path d="M494.1 350.5h2.6M494.1 362.5h2.6M494.1 374.5h2.6M494.1 386.5h2.6M494.1 398.5h2.6" stroke="#333" stroke-width="1"/>
<text transform="translate(23.3 169.5) rotate(-90)" font-size="10.0"  text-anchor="middle" textLength="19.0" lengthAdjust="spacingAndGlyphs" stroke="#000" stroke-width="0.12">Control</text>
<text transform="translate(23.4 230.6) rotate(-90)" font-size="10.0" font-weight="bold" text-anchor="middle" textLength="19.0" lengthAdjust="spacingAndGlyphs">NDMM</text>
<text transform="translate(14.6 313.9) rotate(-90)" font-size="10.3"  text-anchor="middle" textLength="19.6" lengthAdjust="spacingAndGlyphs" stroke="#000" stroke-width="0.12">Control</text>
<text transform="translate(14.8 375.1) rotate(-90)" font-size="10.3" font-weight="bold" text-anchor="middle" textLength="19.0" lengthAdjust="spacingAndGlyphs">NDMM</text>
<path d="M24.1 371.2V335" stroke="#808080" stroke-width="1.6"/><path d="M22.1 335.6L23.4 332.1L24.8 332.1L26.1 335.6Z" fill="#000"/>
<text transform="translate(26.5 386.0) rotate(-90)" font-size="8.2"  text-anchor="middle" textLength="23.3" lengthAdjust="spacingAndGlyphs">tSNE2</text>
<text x="56.8" y="411.6" font-size="8.2" text-anchor="middle" textLength="21" lengthAdjust="spacingAndGlyphs">tSNE1</text>
<rect x="0.5" y="0.5" width="519" height="417" fill="none" stroke="#000" stroke-width="1"/>
</svg></body></html>
